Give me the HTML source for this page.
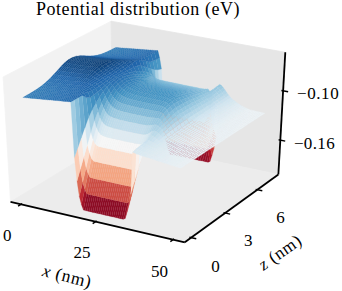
<!DOCTYPE html>
<html><head><meta charset="utf-8"><style>
html,body{margin:0;padding:0;background:#fff;}
#w{position:relative;width:342px;height:291px;overflow:hidden;}
svg{position:absolute;left:0;top:0;}
.t{position:absolute;font-family:"Liberation Serif",serif;color:#000;white-space:nowrap;line-height:1;}
</style></head><body><div id="w">
<svg width="342" height="291" viewBox="0 0 342 291" xmlns="http://www.w3.org/2000/svg">
<polygon points="10.51,201.84 112.75,139.78 111.05,21.18 3.11,76.94" fill="#f2f2f2" stroke="#f2f2f2" stroke-width="0.8"/>
<polygon points="112.75,139.78 278.37,174.48 285.30,52.30 111.05,21.18" fill="#e6e6e6" stroke="#e6e6e6" stroke-width="0.8"/>
<polygon points="10.51,201.84 184.77,242.26 278.37,174.48 112.75,139.78" fill="#ececec" stroke="#ececec" stroke-width="0.8"/>
<line x1="10.51" y1="201.84" x2="184.77" y2="242.26" stroke="#000" stroke-width="1.8"/>
<line x1="184.77" y1="242.26" x2="278.37" y2="174.48" stroke="#000" stroke-width="1.8"/>
<line x1="278.37" y1="174.48" x2="285.30" y2="52.30" stroke="#000" stroke-width="1.8"/>
<line x1="18.06" y1="206.20" x2="22.18" y2="203.66" stroke="#000" stroke-width="1.4"/>
<line x1="92.67" y1="223.55" x2="96.66" y2="220.92" stroke="#000" stroke-width="1.4"/>
<line x1="170.33" y1="241.62" x2="174.17" y2="238.88" stroke="#000" stroke-width="1.4"/>
<line x1="196.27" y1="238.79" x2="189.43" y2="237.22" stroke="#000" stroke-width="1.4"/>
<line x1="230.18" y1="214.11" x2="223.47" y2="212.62" stroke="#000" stroke-width="1.4"/>
<line x1="262.28" y1="190.74" x2="255.69" y2="189.32" stroke="#000" stroke-width="1.4"/>
<line x1="285.24" y1="141.08" x2="278.64" y2="139.76" stroke="#000" stroke-width="1.4"/>
<line x1="288.14" y1="91.75" x2="281.40" y2="90.48" stroke="#000" stroke-width="1.4"/>
<g stroke-width="0.2" stroke-linejoin="round"><path d="M166.9 140.4 L168.7 140.9 L171.8 154.7 L170.0 154.2 Z" fill="#960f27" stroke="#960f27"/><path d="M168.7 140.9 L170.5 141.3 L173.6 155.0 L171.8 154.7 Z" fill="#960f27" stroke="#960f27"/><path d="M165.1 136.1 L166.9 140.4 L170.0 154.2 L168.2 149.0 Z" fill="#a81529" stroke="#a81529"/><path d="M170.5 141.3 L172.3 141.7 L175.4 155.4 L173.6 155.0 Z" fill="#960f27" stroke="#960f27"/><path d="M172.3 141.7 L174.1 142.0 L177.2 155.8 L175.4 155.4 Z" fill="#960f27" stroke="#960f27"/><path d="M174.1 142.0 L176.0 142.4 L179.0 156.2 L177.2 155.8 Z" fill="#960f27" stroke="#960f27"/><path d="M176.0 142.4 L177.8 142.8 L180.8 156.6 L179.0 156.2 Z" fill="#960f27" stroke="#960f27"/><path d="M163.3 129.8 L165.1 136.1 L168.2 149.0 L166.5 141.4 Z" fill="#be3036" stroke="#be3036"/><path d="M177.8 142.8 L179.6 143.2 L182.6 156.9 L180.8 156.6 Z" fill="#960f27" stroke="#960f27"/><path d="M179.6 143.2 L181.4 143.6 L184.4 157.3 L182.6 156.9 Z" fill="#960f27" stroke="#960f27"/><path d="M181.4 143.6 L183.3 143.9 L186.2 157.7 L184.4 157.3 Z" fill="#960f27" stroke="#960f27"/><path d="M183.3 143.9 L185.1 144.3 L188.0 158.1 L186.2 157.7 Z" fill="#960f27" stroke="#960f27"/><path d="M185.1 144.3 L186.9 144.7 L189.9 158.5 L188.0 158.1 Z" fill="#960f27" stroke="#960f27"/><path d="M186.9 144.7 L188.7 145.1 L191.7 158.8 L189.9 158.5 Z" fill="#960f27" stroke="#960f27"/><path d="M188.7 145.1 L190.6 145.5 L193.5 159.2 L191.7 158.8 Z" fill="#960f27" stroke="#960f27"/><path d="M190.6 145.5 L192.4 145.9 L195.3 159.6 L193.5 159.2 Z" fill="#960f27" stroke="#960f27"/><path d="M161.6 117.7 L163.3 129.8 L166.5 141.4 L164.8 126.6 Z" fill="#dd7059" stroke="#dd7059"/><path d="M192.4 145.9 L194.2 146.3 L197.1 160.0 L195.3 159.6 Z" fill="#960f27" stroke="#960f27"/><path d="M194.2 146.3 L196.1 146.6 L198.9 160.4 L197.1 160.0 Z" fill="#960f27" stroke="#960f27"/><path d="M196.1 146.6 L197.9 147.0 L200.8 160.8 L198.9 160.4 Z" fill="#960f27" stroke="#960f27"/><path d="M197.9 147.0 L199.8 147.4 L202.6 161.1 L200.8 160.8 Z" fill="#960f27" stroke="#960f27"/><path d="M199.8 147.4 L201.6 147.8 L204.4 161.5 L202.6 161.1 Z" fill="#960f27" stroke="#960f27"/><path d="M201.6 147.8 L203.5 148.2 L206.3 161.9 L204.4 161.5 Z" fill="#960f27" stroke="#960f27"/><path d="M203.5 148.2 L205.3 148.6 L208.1 162.3 L206.3 161.9 Z" fill="#960f27" stroke="#960f27"/><path d="M205.3 148.6 L207.2 147.9 L210.0 161.4 L208.1 162.3 Z" fill="#991027" stroke="#991027"/><path d="M207.2 147.9 L209.2 143.2 L212.0 155.5 L210.0 161.4 Z" fill="#b1182b" stroke="#b1182b"/><path d="M163.8 113.5 L165.6 113.9 L168.7 140.9 L166.9 140.4 Z" fill="#ea8e70" stroke="#ea8e70"/><path d="M162.0 110.9 L163.8 113.5 L166.9 140.4 L165.1 136.1 Z" fill="#ef9979" stroke="#ef9979"/><path d="M165.6 113.9 L167.5 114.3 L170.5 141.3 L168.7 140.9 Z" fill="#ea8e70" stroke="#ea8e70"/><path d="M159.9 97.7 L161.6 117.7 L164.8 126.6 L163.2 102.3 Z" fill="#fbd0b9" stroke="#fbd0b9"/><path d="M167.5 114.3 L169.3 114.7 L172.3 141.7 L170.5 141.3 Z" fill="#ea8e70" stroke="#ea8e70"/><path d="M160.2 107.0 L162.0 110.9 L165.1 136.1 L163.3 129.8 Z" fill="#f6af8e" stroke="#f6af8e"/><path d="M169.3 114.7 L171.2 115.1 L174.1 142.0 L172.3 141.7 Z" fill="#ea8e70" stroke="#ea8e70"/><path d="M171.2 115.1 L173.0 115.5 L176.0 142.4 L174.1 142.0 Z" fill="#ea8e70" stroke="#ea8e70"/><path d="M173.0 115.5 L174.9 115.9 L177.8 142.8 L176.0 142.4 Z" fill="#ea8e70" stroke="#ea8e70"/><path d="M174.9 115.9 L176.7 116.2 L179.6 143.2 L177.8 142.8 Z" fill="#ea8e70" stroke="#ea8e70"/><path d="M209.2 143.2 L211.2 137.8 L214.0 148.8 L212.0 155.5 Z" fill="#c53e3d" stroke="#c53e3d"/><path d="M176.7 116.2 L178.6 116.6 L181.4 143.6 L179.6 143.2 Z" fill="#ea8e70" stroke="#ea8e70"/><path d="M178.6 116.6 L180.4 117.0 L183.3 143.9 L181.4 143.6 Z" fill="#ea8e70" stroke="#ea8e70"/><path d="M158.3 99.9 L160.2 107.0 L163.3 129.8 L161.6 117.7 Z" fill="#fbd0b9" stroke="#fbd0b9"/><path d="M180.4 117.0 L182.3 117.4 L185.1 144.3 L183.3 143.9 Z" fill="#ea8e70" stroke="#ea8e70"/><path d="M182.3 117.4 L184.1 117.8 L186.9 144.7 L185.1 144.3 Z" fill="#ea8e70" stroke="#ea8e70"/><path d="M184.1 117.8 L186.0 118.2 L188.7 145.1 L186.9 144.7 Z" fill="#ea8e70" stroke="#ea8e70"/><path d="M186.0 118.2 L187.8 118.6 L190.6 145.5 L188.7 145.1 Z" fill="#ea8e70" stroke="#ea8e70"/><path d="M187.8 118.6 L189.7 118.9 L192.4 145.9 L190.6 145.5 Z" fill="#ea8e70" stroke="#ea8e70"/><path d="M189.7 118.9 L191.6 119.3 L194.2 146.3 L192.4 145.9 Z" fill="#ea8e70" stroke="#ea8e70"/><path d="M191.6 119.3 L193.4 119.7 L196.1 146.6 L194.2 146.3 Z" fill="#ea8e70" stroke="#ea8e70"/><path d="M211.2 137.8 L213.3 128.1 L216.2 136.9 L214.0 148.8 Z" fill="#e17860" stroke="#e17860"/><path d="M193.4 119.7 L195.3 120.1 L197.9 147.0 L196.1 146.6 Z" fill="#ea8e70" stroke="#ea8e70"/><path d="M195.3 120.1 L197.2 120.5 L199.8 147.4 L197.9 147.0 Z" fill="#ea8e70" stroke="#ea8e70"/><path d="M197.2 120.5 L199.0 120.9 L201.6 147.8 L199.8 147.4 Z" fill="#ea8e70" stroke="#ea8e70"/><path d="M156.6 87.8 L158.3 99.9 L161.6 117.7 L159.9 97.7 Z" fill="#f8f4f2" stroke="#f8f4f2"/><path d="M199.0 120.9 L200.9 121.3 L203.5 148.2 L201.6 147.8 Z" fill="#ea8e70" stroke="#ea8e70"/><path d="M200.9 121.3 L202.8 121.7 L205.3 148.6 L203.5 148.2 Z" fill="#ea8e70" stroke="#ea8e70"/><path d="M202.8 121.7 L204.7 121.5 L207.2 147.9 L205.3 148.6 Z" fill="#eb9172" stroke="#eb9172"/><path d="M112.1 49.3 L113.9 49.4 L117.4 47.6 L115.6 47.5 Z" fill="#327cb7" stroke="#327cb7"/><path d="M113.9 49.4 L115.8 49.6 L119.2 47.8 L117.4 47.6 Z" fill="#327cb7" stroke="#327cb7"/><path d="M158.2 69.8 L159.9 97.7 L163.2 102.3 L161.5 68.9 Z" fill="#cae1ee" stroke="#cae1ee"/><path d="M204.7 121.5 L206.6 118.9 L209.2 143.2 L207.2 147.9 Z" fill="#f19e7d" stroke="#f19e7d"/><path d="M115.8 49.6 L117.6 49.7 L121.1 47.9 L119.2 47.8 Z" fill="#307ab6" stroke="#307ab6"/><path d="M117.6 49.7 L119.4 49.8 L122.9 48.0 L121.1 47.9 Z" fill="#307ab6" stroke="#307ab6"/><path d="M119.4 49.8 L121.2 50.0 L124.7 48.2 L122.9 48.0 Z" fill="#2f79b5" stroke="#2f79b5"/><path d="M108.6 51.0 L110.4 51.1 L113.9 49.4 L112.1 49.3 Z" fill="#327cb7" stroke="#327cb7"/><path d="M121.2 50.0 L123.1 50.1 L126.5 48.3 L124.7 48.2 Z" fill="#2f79b5" stroke="#2f79b5"/><path d="M206.6 118.9 L208.6 115.9 L211.2 137.8 L209.2 143.2 Z" fill="#f7b596" stroke="#f7b596"/><path d="M110.4 51.1 L112.3 51.3 L115.8 49.6 L113.9 49.4 Z" fill="#307ab6" stroke="#307ab6"/><path d="M123.1 50.1 L124.9 50.2 L128.4 48.4 L126.5 48.3 Z" fill="#2f79b5" stroke="#2f79b5"/><path d="M112.3 51.3 L114.1 51.4 L117.6 49.7 L115.8 49.6 Z" fill="#307ab6" stroke="#307ab6"/><path d="M124.9 50.2 L126.7 50.4 L130.2 48.6 L128.4 48.4 Z" fill="#2e77b5" stroke="#2e77b5"/><path d="M114.1 51.4 L115.9 51.6 L119.4 49.8 L117.6 49.7 Z" fill="#307ab6" stroke="#307ab6"/><path d="M126.7 50.4 L128.6 50.5 L132.0 48.7 L130.2 48.6 Z" fill="#2e77b5" stroke="#2e77b5"/><path d="M115.9 51.6 L117.8 51.7 L121.2 50.0 L119.4 49.8 Z" fill="#2f79b5" stroke="#2f79b5"/><path d="M128.6 50.5 L130.4 50.7 L133.9 48.8 L132.0 48.7 Z" fill="#2c75b4" stroke="#2c75b4"/><path d="M158.8 79.6 L160.7 80.2 L163.8 113.5 L162.0 110.9 Z" fill="#e1edf3" stroke="#e1edf3"/><path d="M105.1 52.6 L106.9 52.7 L110.4 51.1 L108.6 51.0 Z" fill="#307ab6" stroke="#307ab6"/><path d="M154.8 69.7 L156.6 87.8 L159.9 97.7 L158.2 69.8 Z" fill="#acd2e5" stroke="#acd2e5"/><path d="M156.9 78.8 L158.8 79.6 L162.0 110.9 L160.2 107.0 Z" fill="#dbeaf2" stroke="#dbeaf2"/><path d="M117.8 51.7 L119.6 51.9 L123.1 50.1 L121.2 50.0 Z" fill="#2f79b5" stroke="#2f79b5"/><path d="M160.7 80.2 L162.5 80.6 L165.6 113.9 L163.8 113.5 Z" fill="#e3edf3" stroke="#e3edf3"/><path d="M130.4 50.7 L132.3 50.8 L135.7 49.0 L133.9 48.8 Z" fill="#2c75b4" stroke="#2c75b4"/><path d="M162.5 80.6 L164.4 81.0 L167.5 114.3 L165.6 113.9 Z" fill="#e3edf3" stroke="#e3edf3"/><path d="M106.9 52.7 L108.8 52.9 L112.3 51.3 L110.4 51.1 Z" fill="#307ab6" stroke="#307ab6"/><path d="M119.6 51.9 L121.4 52.0 L124.9 50.2 L123.1 50.1 Z" fill="#2e77b5" stroke="#2e77b5"/><path d="M132.3 50.8 L134.1 50.9 L137.5 49.1 L135.7 49.0 Z" fill="#2b73b3" stroke="#2b73b3"/><path d="M155.1 77.8 L156.9 78.8 L160.2 107.0 L158.3 99.9 Z" fill="#d2e6f0" stroke="#d2e6f0"/><path d="M208.6 115.9 L210.6 110.5 L213.3 128.1 L211.2 137.8 Z" fill="#fcd3bc" stroke="#fcd3bc"/><path d="M164.4 81.0 L166.3 81.4 L169.3 114.7 L167.5 114.3 Z" fill="#e3edf3" stroke="#e3edf3"/><path d="M108.8 52.9 L110.6 53.0 L114.1 51.4 L112.3 51.3 Z" fill="#307ab6" stroke="#307ab6"/><path d="M121.4 52.0 L123.3 52.1 L126.7 50.4 L124.9 50.2 Z" fill="#2e77b5" stroke="#2e77b5"/><path d="M134.1 50.9 L135.9 51.1 L139.4 49.3 L137.5 49.1 Z" fill="#2b73b3" stroke="#2b73b3"/><path d="M166.3 81.4 L168.1 81.8 L171.2 115.1 L169.3 114.7 Z" fill="#e3edf3" stroke="#e3edf3"/><path d="M110.6 53.0 L112.4 53.2 L115.9 51.6 L114.1 51.4 Z" fill="#2f79b5" stroke="#2f79b5"/><path d="M123.3 52.1 L125.1 52.3 L128.6 50.5 L126.7 50.4 Z" fill="#2c75b4" stroke="#2c75b4"/><path d="M135.9 51.1 L137.8 51.2 L141.2 49.4 L139.4 49.3 Z" fill="#2a71b2" stroke="#2a71b2"/><path d="M168.1 81.8 L170.0 82.2 L173.0 115.5 L171.2 115.1 Z" fill="#e3edf3" stroke="#e3edf3"/><path d="M112.4 53.2 L114.3 53.3 L117.8 51.7 L115.9 51.6 Z" fill="#2f79b5" stroke="#2f79b5"/><path d="M125.1 52.3 L126.9 52.4 L130.4 50.7 L128.6 50.5 Z" fill="#2c75b4" stroke="#2c75b4"/><path d="M170.0 82.2 L171.9 82.6 L174.9 115.9 L173.0 115.5 Z" fill="#e3edf3" stroke="#e3edf3"/><path d="M137.8 51.2 L139.6 51.4 L143.1 49.5 L141.2 49.4 Z" fill="#2a71b2" stroke="#2a71b2"/><path d="M153.2 75.2 L155.1 77.8 L158.3 99.9 L156.6 87.8 Z" fill="#b6d7e8" stroke="#b6d7e8"/><path d="M114.3 53.3 L116.1 53.5 L119.6 51.9 L117.8 51.7 Z" fill="#2e77b5" stroke="#2e77b5"/><path d="M101.6 54.0 L103.4 54.1 L106.9 52.7 L105.1 52.6 Z" fill="#2f79b5" stroke="#2f79b5"/><path d="M126.9 52.4 L128.8 52.6 L132.3 50.8 L130.4 50.7 Z" fill="#2c75b4" stroke="#2c75b4"/><path d="M171.9 82.6 L173.8 82.9 L176.7 116.2 L174.9 115.9 Z" fill="#e4eef4" stroke="#e4eef4"/><path d="M139.6 51.4 L141.5 51.5 L144.9 49.7 L143.1 49.5 Z" fill="#2a71b2" stroke="#2a71b2"/><path d="M156.3 59.6 L158.2 69.8 L161.5 68.9 L159.7 57.9 Z" fill="#4c99c6" stroke="#4c99c6"/><path d="M173.8 82.9 L175.7 83.3 L178.6 116.6 L176.7 116.2 Z" fill="#e4eef4" stroke="#e4eef4"/><path d="M116.1 53.5 L117.9 53.6 L121.4 52.0 L119.6 51.9 Z" fill="#2e77b5" stroke="#2e77b5"/><path d="M103.4 54.1 L105.2 54.3 L108.8 52.9 L106.9 52.7 Z" fill="#2f79b5" stroke="#2f79b5"/><path d="M128.8 52.6 L130.6 52.7 L134.1 50.9 L132.3 50.8 Z" fill="#2b73b3" stroke="#2b73b3"/><path d="M141.5 51.5 L143.3 51.6 L146.8 49.8 L144.9 49.7 Z" fill="#2870b1" stroke="#2870b1"/><path d="M175.7 83.3 L177.5 83.7 L180.4 117.0 L178.6 116.6 Z" fill="#e4eef4" stroke="#e4eef4"/><path d="M213.3 128.1 L216.4 86.7 L219.7 84.3 L216.2 136.9 Z" fill="#f8f4f2" stroke="#f8f4f2"/><path d="M117.9 53.6 L119.8 53.8 L123.3 52.1 L121.4 52.0 Z" fill="#2c75b4" stroke="#2c75b4"/><path d="M105.2 54.3 L107.1 54.4 L110.6 53.0 L108.8 52.9 Z" fill="#2f79b5" stroke="#2f79b5"/><path d="M130.6 52.7 L132.5 52.8 L135.9 51.1 L134.1 50.9 Z" fill="#2b73b3" stroke="#2b73b3"/><path d="M143.3 51.6 L145.2 51.8 L148.6 49.9 L146.8 49.8 Z" fill="#2870b1" stroke="#2870b1"/><path d="M177.5 83.7 L179.4 84.1 L182.3 117.4 L180.4 117.0 Z" fill="#e4eef4" stroke="#e4eef4"/><path d="M119.8 53.8 L121.6 53.9 L125.1 52.3 L123.3 52.1 Z" fill="#2c75b4" stroke="#2c75b4"/><path d="M107.1 54.4 L108.9 54.6 L112.4 53.2 L110.6 53.0 Z" fill="#2e77b5" stroke="#2e77b5"/><path d="M132.5 52.8 L134.3 53.0 L137.8 51.2 L135.9 51.1 Z" fill="#2a71b2" stroke="#2a71b2"/><path d="M145.2 51.8 L147.1 51.9 L150.5 50.1 L148.6 49.9 Z" fill="#276eb0" stroke="#276eb0"/><path d="M179.4 84.1 L181.3 84.5 L184.1 117.8 L182.3 117.4 Z" fill="#e4eef4" stroke="#e4eef4"/><path d="M121.6 53.9 L123.5 54.1 L126.9 52.4 L125.1 52.3 Z" fill="#2c75b4" stroke="#2c75b4"/><path d="M108.9 54.6 L110.7 54.8 L114.3 53.3 L112.4 53.2 Z" fill="#2e77b5" stroke="#2e77b5"/><path d="M134.3 53.0 L136.2 53.1 L139.6 51.4 L137.8 51.2 Z" fill="#2a71b2" stroke="#2a71b2"/><path d="M147.1 51.9 L148.9 52.1 L152.3 50.2 L150.5 50.1 Z" fill="#276eb0" stroke="#276eb0"/><path d="M181.3 84.5 L183.2 84.9 L186.0 118.2 L184.1 117.8 Z" fill="#e4eef4" stroke="#e4eef4"/><path d="M123.5 54.1 L125.3 54.2 L128.8 52.6 L126.9 52.4 Z" fill="#2b73b3" stroke="#2b73b3"/><path d="M110.7 54.8 L112.6 54.9 L116.1 53.5 L114.3 53.3 Z" fill="#2c75b4" stroke="#2c75b4"/><path d="M136.2 53.1 L138.0 53.3 L141.5 51.5 L139.6 51.4 Z" fill="#2870b1" stroke="#2870b1"/><path d="M183.2 84.9 L185.1 85.3 L187.8 118.6 L186.0 118.2 Z" fill="#e4eef4" stroke="#e4eef4"/><path d="M98.0 55.0 L99.8 55.2 L103.4 54.1 L101.6 54.0 Z" fill="#2e77b5" stroke="#2e77b5"/><path d="M148.9 52.1 L150.8 52.2 L154.2 50.4 L152.3 50.2 Z" fill="#266caf" stroke="#266caf"/><path d="M151.4 69.0 L153.2 75.2 L156.6 87.8 L154.8 69.7 Z" fill="#7eb8d7" stroke="#7eb8d7"/><path d="M154.5 52.5 L156.3 59.6 L159.7 57.9 L157.9 50.6 Z" fill="#2f79b5" stroke="#2f79b5"/><path d="M152.9 61.1 L154.8 69.7 L158.2 69.8 L156.3 59.6 Z" fill="#4695c4" stroke="#4695c4"/><path d="M125.3 54.2 L127.2 54.3 L130.6 52.7 L128.8 52.6 Z" fill="#2b73b3" stroke="#2b73b3"/><path d="M112.6 54.9 L114.4 55.1 L117.9 53.6 L116.1 53.5 Z" fill="#2c75b4" stroke="#2c75b4"/><path d="M185.1 85.3 L187.0 85.7 L189.7 118.9 L187.8 118.6 Z" fill="#e4eef4" stroke="#e4eef4"/><path d="M138.0 53.3 L139.9 53.4 L143.3 51.6 L141.5 51.5 Z" fill="#2870b1" stroke="#2870b1"/><path d="M99.8 55.2 L101.7 55.4 L105.2 54.3 L103.4 54.1 Z" fill="#2e77b5" stroke="#2e77b5"/><path d="M150.8 52.2 L152.6 52.3 L156.0 50.5 L154.2 50.4 Z" fill="#266caf" stroke="#266caf"/><path d="M187.0 85.7 L188.9 86.1 L191.6 119.3 L189.7 118.9 Z" fill="#e4eef4" stroke="#e4eef4"/><path d="M127.2 54.3 L129.0 54.5 L132.5 52.8 L130.6 52.7 Z" fill="#2a71b2" stroke="#2a71b2"/><path d="M114.4 55.1 L116.3 55.2 L119.8 53.8 L117.9 53.6 Z" fill="#2c75b4" stroke="#2c75b4"/><path d="M139.9 53.4 L141.8 53.5 L145.2 51.8 L143.3 51.6 Z" fill="#276eb0" stroke="#276eb0"/><path d="M101.7 55.4 L103.5 55.6 L107.1 54.4 L105.2 54.3 Z" fill="#2c75b4" stroke="#2c75b4"/><path d="M152.6 52.3 L154.5 52.5 L157.9 50.6 L156.0 50.5 Z" fill="#246aae" stroke="#246aae"/><path d="M188.9 86.1 L190.8 86.4 L193.4 119.7 L191.6 119.3 Z" fill="#e4eef4" stroke="#e4eef4"/><path d="M129.0 54.5 L130.9 54.6 L134.3 53.0 L132.5 52.8 Z" fill="#2a71b2" stroke="#2a71b2"/><path d="M116.3 55.2 L118.1 55.4 L121.6 53.9 L119.8 53.8 Z" fill="#2b73b3" stroke="#2b73b3"/><path d="M141.8 53.5 L143.6 53.7 L147.1 51.9 L145.2 51.8 Z" fill="#276eb0" stroke="#276eb0"/><path d="M103.5 55.6 L105.3 55.7 L108.9 54.6 L107.1 54.4 Z" fill="#2c75b4" stroke="#2c75b4"/><path d="M190.8 86.4 L192.7 86.8 L195.3 120.1 L193.4 119.7 Z" fill="#e4eef4" stroke="#e4eef4"/><path d="M118.1 55.4 L119.9 55.5 L123.5 54.1 L121.6 53.9 Z" fill="#2b73b3" stroke="#2b73b3"/><path d="M130.9 54.6 L132.7 54.8 L136.2 53.1 L134.3 53.0 Z" fill="#2870b1" stroke="#2870b1"/><path d="M143.6 53.7 L145.5 53.8 L148.9 52.1 L147.1 51.9 Z" fill="#276eb0" stroke="#276eb0"/><path d="M105.3 55.7 L107.2 55.9 L110.7 54.8 L108.9 54.6 Z" fill="#2b73b3" stroke="#2b73b3"/><path d="M192.7 86.8 L194.6 87.2 L197.2 120.5 L195.3 120.1 Z" fill="#e4eef4" stroke="#e4eef4"/><path d="M119.9 55.5 L121.8 55.7 L125.3 54.2 L123.5 54.1 Z" fill="#2a71b2" stroke="#2a71b2"/><path d="M132.7 54.8 L134.6 54.9 L138.0 53.3 L136.2 53.1 Z" fill="#2870b1" stroke="#2870b1"/><path d="M145.5 53.8 L147.3 54.0 L150.8 52.2 L148.9 52.1 Z" fill="#266caf" stroke="#266caf"/><path d="M107.2 55.9 L109.0 56.1 L112.6 54.9 L110.7 54.8 Z" fill="#2b73b3" stroke="#2b73b3"/><path d="M194.6 87.2 L196.5 87.6 L199.0 120.9 L197.2 120.5 Z" fill="#e4eef4" stroke="#e4eef4"/><path d="M151.1 54.3 L152.9 61.1 L156.3 59.6 L154.5 52.5 Z" fill="#2e77b5" stroke="#2e77b5"/><path d="M94.4 55.7 L96.2 55.9 L99.8 55.2 L98.0 55.0 Z" fill="#2b73b3" stroke="#2b73b3"/><path d="M121.8 55.7 L123.6 55.8 L127.2 54.3 L125.3 54.2 Z" fill="#2a71b2" stroke="#2a71b2"/><path d="M134.6 54.9 L136.4 55.1 L139.9 53.4 L138.0 53.3 Z" fill="#276eb0" stroke="#276eb0"/><path d="M196.5 87.6 L198.4 88.0 L200.9 121.3 L199.0 120.9 Z" fill="#e4eef4" stroke="#e4eef4"/><path d="M147.3 54.0 L149.2 54.1 L152.6 52.3 L150.8 52.2 Z" fill="#266caf" stroke="#266caf"/><path d="M109.0 56.1 L110.9 56.2 L114.4 55.1 L112.6 54.9 Z" fill="#2b73b3" stroke="#2b73b3"/><path d="M149.5 62.3 L151.4 69.0 L154.8 69.7 L152.9 61.1 Z" fill="#408fc1" stroke="#408fc1"/><path d="M96.2 55.9 L98.1 56.1 L101.7 55.4 L99.8 55.2 Z" fill="#2a71b2" stroke="#2a71b2"/><path d="M198.4 88.0 L200.3 88.4 L202.8 121.7 L200.9 121.3 Z" fill="#e4eef4" stroke="#e4eef4"/><path d="M123.6 55.8 L125.5 56.0 L129.0 54.5 L127.2 54.3 Z" fill="#2870b1" stroke="#2870b1"/><path d="M136.4 55.1 L138.3 55.2 L141.8 53.5 L139.9 53.4 Z" fill="#276eb0" stroke="#276eb0"/><path d="M210.6 110.5 L213.1 89.2 L216.4 86.7 L213.3 128.1 Z" fill="#e1edf3" stroke="#e1edf3"/><path d="M149.2 54.1 L151.1 54.3 L154.5 52.5 L152.6 52.3 Z" fill="#246aae" stroke="#246aae"/><path d="M110.9 56.2 L112.7 56.4 L116.3 55.2 L114.4 55.1 Z" fill="#2a71b2" stroke="#2a71b2"/><path d="M151.6 76.4 L153.5 78.1 L156.9 78.8 L155.1 77.8 Z" fill="#7bb6d6" stroke="#7bb6d6"/><path d="M153.5 78.1 L155.4 79.1 L158.8 79.6 L156.9 78.8 Z" fill="#81bad8" stroke="#81bad8"/><path d="M149.8 73.3 L151.6 76.4 L155.1 77.8 L153.2 75.2 Z" fill="#6eaed2" stroke="#6eaed2"/><path d="M98.1 56.1 L99.9 56.3 L103.5 55.6 L101.7 55.4 Z" fill="#2a71b2" stroke="#2a71b2"/><path d="M200.3 88.4 L202.2 88.7 L204.7 121.5 L202.8 121.7 Z" fill="#e4eef4" stroke="#e4eef4"/><path d="M125.5 56.0 L127.4 56.1 L130.9 54.6 L129.0 54.5 Z" fill="#2870b1" stroke="#2870b1"/><path d="M155.4 79.1 L157.3 79.9 L160.7 80.2 L158.8 79.6 Z" fill="#84bcd9" stroke="#84bcd9"/><path d="M138.3 55.2 L140.2 55.4 L143.6 53.7 L141.8 53.5 Z" fill="#276eb0" stroke="#276eb0"/><path d="M112.7 56.4 L114.6 56.6 L118.1 55.4 L116.3 55.2 Z" fill="#2a71b2" stroke="#2a71b2"/><path d="M99.9 56.3 L101.8 56.5 L105.3 55.7 L103.5 55.6 Z" fill="#2a71b2" stroke="#2a71b2"/><path d="M157.3 79.9 L159.1 80.6 L162.5 80.6 L160.7 80.2 Z" fill="#84bcd9" stroke="#84bcd9"/><path d="M127.4 56.1 L129.2 56.3 L132.7 54.8 L130.9 54.6 Z" fill="#2870b1" stroke="#2870b1"/><path d="M140.2 55.4 L142.0 55.5 L145.5 53.8 L143.6 53.7 Z" fill="#266caf" stroke="#266caf"/><path d="M114.6 56.6 L116.4 56.7 L119.9 55.5 L118.1 55.4 Z" fill="#2870b1" stroke="#2870b1"/><path d="M202.2 88.7 L204.1 88.9 L206.6 118.9 L204.7 121.5 Z" fill="#e1edf3" stroke="#e1edf3"/><path d="M159.1 80.6 L161.0 81.1 L164.4 81.0 L162.5 80.6 Z" fill="#87beda" stroke="#87beda"/><path d="M101.8 56.5 L103.6 56.7 L107.2 55.9 L105.3 55.7 Z" fill="#2870b1" stroke="#2870b1"/><path d="M147.9 67.7 L149.8 73.3 L153.2 75.2 L151.4 69.0 Z" fill="#569fc9" stroke="#569fc9"/><path d="M129.2 56.3 L131.1 56.4 L134.6 54.9 L132.7 54.8 Z" fill="#276eb0" stroke="#276eb0"/><path d="M142.0 55.5 L143.9 55.6 L147.3 54.0 L145.5 53.8 Z" fill="#266caf" stroke="#266caf"/><path d="M116.4 56.7 L118.3 56.9 L121.8 55.7 L119.9 55.5 Z" fill="#2870b1" stroke="#2870b1"/><path d="M161.0 81.1 L162.9 81.6 L166.3 81.4 L164.4 81.0 Z" fill="#87beda" stroke="#87beda"/><path d="M103.6 56.7 L105.4 56.9 L109.0 56.1 L107.2 55.9 Z" fill="#2870b1" stroke="#2870b1"/><path d="M147.6 55.9 L149.5 62.3 L152.9 61.1 L151.1 54.3 Z" fill="#2c75b4" stroke="#2c75b4"/><path d="M131.1 56.4 L132.9 56.5 L136.4 55.1 L134.6 54.9 Z" fill="#276eb0" stroke="#276eb0"/><path d="M143.9 55.6 L145.8 55.8 L149.2 54.1 L147.3 54.0 Z" fill="#246aae" stroke="#246aae"/><path d="M162.9 81.6 L164.8 82.0 L168.1 81.8 L166.3 81.4 Z" fill="#87beda" stroke="#87beda"/><path d="M118.3 56.9 L120.1 57.0 L123.6 55.8 L121.8 55.7 Z" fill="#2870b1" stroke="#2870b1"/><path d="M204.1 88.9 L206.0 89.0 L208.6 115.9 L206.6 118.9 Z" fill="#dbeaf2" stroke="#dbeaf2"/><path d="M90.8 56.0 L92.6 56.3 L96.2 55.9 L94.4 55.7 Z" fill="#276eb0" stroke="#276eb0"/><path d="M105.4 56.9 L107.3 57.1 L110.9 56.2 L109.0 56.1 Z" fill="#2870b1" stroke="#2870b1"/><path d="M229.4 101.4 L231.3 102.9 L234.5 100.8 L232.6 99.3 Z" fill="#d5e7f1" stroke="#d5e7f1"/><path d="M164.8 82.0 L166.6 82.5 L170.0 82.2 L168.1 81.8 Z" fill="#87beda" stroke="#87beda"/><path d="M231.3 102.9 L233.2 104.3 L236.4 102.2 L234.5 100.8 Z" fill="#d8e9f1" stroke="#d8e9f1"/><path d="M227.5 99.6 L229.4 101.4 L232.6 99.3 L230.8 97.4 Z" fill="#d1e5f0" stroke="#d1e5f0"/><path d="M233.2 104.3 L235.0 105.6 L238.2 103.5 L236.4 102.2 Z" fill="#ddebf2" stroke="#ddebf2"/><path d="M132.9 56.5 L134.8 56.7 L138.3 55.2 L136.4 55.1 Z" fill="#266caf" stroke="#266caf"/><path d="M145.8 55.8 L147.6 55.9 L151.1 54.3 L149.2 54.1 Z" fill="#246aae" stroke="#246aae"/><path d="M235.0 105.6 L236.9 106.8 L240.1 104.8 L238.2 103.5 Z" fill="#e0ecf3" stroke="#e0ecf3"/><path d="M120.1 57.0 L122.0 57.2 L125.5 56.0 L123.6 55.8 Z" fill="#276eb0" stroke="#276eb0"/><path d="M225.7 97.5 L227.5 99.6 L230.8 97.4 L228.9 95.3 Z" fill="#cae1ee" stroke="#cae1ee"/><path d="M236.9 106.8 L238.8 107.9 L242.0 105.9 L240.1 104.8 Z" fill="#e1edf3" stroke="#e1edf3"/><path d="M92.6 56.3 L94.4 56.5 L98.1 56.1 L96.2 55.9 Z" fill="#266caf" stroke="#266caf"/><path d="M107.3 57.1 L109.1 57.2 L112.7 56.4 L110.9 56.2 Z" fill="#276eb0" stroke="#276eb0"/><path d="M166.6 82.5 L168.5 82.9 L171.9 82.6 L170.0 82.2 Z" fill="#87beda" stroke="#87beda"/><path d="M223.8 95.2 L225.7 97.5 L228.9 95.3 L227.1 92.9 Z" fill="#bddbea" stroke="#bddbea"/><path d="M238.8 107.9 L240.7 108.9 L243.9 106.9 L242.0 105.9 Z" fill="#e4eef4" stroke="#e4eef4"/><path d="M134.8 56.7 L136.7 56.8 L140.2 55.4 L138.3 55.2 Z" fill="#266caf" stroke="#266caf"/><path d="M122.0 57.2 L123.8 57.3 L127.4 56.1 L125.5 56.0 Z" fill="#276eb0" stroke="#276eb0"/><path d="M146.0 60.9 L147.9 67.7 L151.4 69.0 L149.5 62.3 Z" fill="#3a87bd" stroke="#3a87bd"/><path d="M240.7 108.9 L242.6 109.9 L245.8 107.9 L243.9 106.9 Z" fill="#e6eff4" stroke="#e6eff4"/><path d="M94.4 56.5 L96.3 56.7 L99.9 56.3 L98.1 56.1 Z" fill="#266caf" stroke="#266caf"/><path d="M222.0 92.6 L223.8 95.2 L227.1 92.9 L225.3 90.3 Z" fill="#b3d6e8" stroke="#b3d6e8"/><path d="M168.5 82.9 L170.4 83.3 L173.8 82.9 L171.9 82.6 Z" fill="#87beda" stroke="#87beda"/><path d="M109.1 57.2 L111.0 57.4 L114.6 56.6 L112.7 56.4 Z" fill="#276eb0" stroke="#276eb0"/><path d="M242.6 109.9 L244.5 110.8 L247.7 108.8 L245.8 107.9 Z" fill="#e7f0f4" stroke="#e7f0f4"/><path d="M136.7 56.8 L138.5 57.0 L142.0 55.5 L140.2 55.4 Z" fill="#246aae" stroke="#246aae"/><path d="M148.2 75.4 L150.1 77.4 L153.5 78.1 L151.6 76.4 Z" fill="#68abd0" stroke="#68abd0"/><path d="M150.1 77.4 L152.0 78.8 L155.4 79.1 L153.5 78.1 Z" fill="#6eaed2" stroke="#6eaed2"/><path d="M244.5 110.8 L246.4 111.6 L249.6 109.6 L247.7 108.8 Z" fill="#eaf1f5" stroke="#eaf1f5"/><path d="M123.8 57.3 L125.7 57.5 L129.2 56.3 L127.4 56.1 Z" fill="#266caf" stroke="#266caf"/><path d="M206.0 89.0 L208.0 88.9 L210.6 110.5 L208.6 115.9 Z" fill="#d2e6f0" stroke="#d2e6f0"/><path d="M220.2 90.1 L222.0 92.6 L225.3 90.3 L223.4 87.7 Z" fill="#a7d0e4" stroke="#a7d0e4"/><path d="M170.4 83.3 L172.3 83.7 L175.7 83.3 L173.8 82.9 Z" fill="#8ac0db" stroke="#8ac0db"/><path d="M96.3 56.7 L98.1 56.9 L101.8 56.5 L99.9 56.3 Z" fill="#266caf" stroke="#266caf"/><path d="M152.0 78.8 L153.8 79.8 L157.3 79.9 L155.4 79.1 Z" fill="#75b2d4" stroke="#75b2d4"/><path d="M111.0 57.4 L112.9 57.6 L116.4 56.7 L114.6 56.6 Z" fill="#266caf" stroke="#266caf"/><path d="M246.4 111.6 L248.3 112.2 L251.5 110.2 L249.6 109.6 Z" fill="#eaf1f5" stroke="#eaf1f5"/><path d="M218.3 88.1 L220.2 90.1 L223.4 87.7 L221.6 85.6 Z" fill="#9dcbe1" stroke="#9dcbe1"/><path d="M146.3 72.0 L148.2 75.4 L151.6 76.4 L149.8 73.3 Z" fill="#59a1ca" stroke="#59a1ca"/><path d="M216.4 86.7 L218.3 88.1 L221.6 85.6 L219.7 84.3 Z" fill="#96c7df" stroke="#96c7df"/><path d="M153.8 79.8 L155.7 80.5 L159.1 80.6 L157.3 79.9 Z" fill="#78b4d5" stroke="#78b4d5"/><path d="M138.5 57.0 L140.4 57.1 L143.9 55.6 L142.0 55.5 Z" fill="#246aae" stroke="#246aae"/><path d="M172.3 83.7 L174.2 84.1 L177.5 83.7 L175.7 83.3 Z" fill="#8ac0db" stroke="#8ac0db"/><path d="M125.7 57.5 L127.6 57.6 L131.1 56.4 L129.2 56.3 Z" fill="#266caf" stroke="#266caf"/><path d="M98.1 56.9 L100.0 57.1 L103.6 56.7 L101.8 56.5 Z" fill="#266caf" stroke="#266caf"/><path d="M248.3 112.2 L250.2 112.7 L253.4 110.6 L251.5 110.2 Z" fill="#ecf2f5" stroke="#ecf2f5"/><path d="M112.9 57.6 L114.7 57.7 L118.3 56.9 L116.4 56.7 Z" fill="#266caf" stroke="#266caf"/><path d="M155.7 80.5 L157.6 81.2 L161.0 81.1 L159.1 80.6 Z" fill="#78b4d5" stroke="#78b4d5"/><path d="M174.2 84.1 L176.1 84.5 L179.4 84.1 L177.5 83.7 Z" fill="#8ac0db" stroke="#8ac0db"/><path d="M140.4 57.1 L142.3 57.3 L145.8 55.8 L143.9 55.6 Z" fill="#2369ad" stroke="#2369ad"/><path d="M127.6 57.6 L129.4 57.8 L132.9 56.5 L131.1 56.4 Z" fill="#246aae" stroke="#246aae"/><path d="M250.2 112.7 L252.2 113.1 L255.3 111.1 L253.4 110.6 Z" fill="#ecf2f5" stroke="#ecf2f5"/><path d="M144.2 57.4 L146.0 60.9 L149.5 62.3 L147.6 55.9 Z" fill="#2a71b2" stroke="#2a71b2"/><path d="M100.0 57.1 L101.8 57.3 L105.4 56.9 L103.6 56.7 Z" fill="#246aae" stroke="#246aae"/><path d="M157.6 81.2 L159.5 81.8 L162.9 81.6 L161.0 81.1 Z" fill="#7bb6d6" stroke="#7bb6d6"/><path d="M226.2 103.6 L228.0 105.0 L231.3 102.9 L229.4 101.4 Z" fill="#d5e7f1" stroke="#d5e7f1"/><path d="M224.3 101.8 L226.2 103.6 L229.4 101.4 L227.5 99.6 Z" fill="#d1e5f0" stroke="#d1e5f0"/><path d="M114.7 57.7 L116.6 57.9 L120.1 57.0 L118.3 56.9 Z" fill="#266caf" stroke="#266caf"/><path d="M228.0 105.0 L229.9 106.4 L233.2 104.3 L231.3 102.9 Z" fill="#d8e9f1" stroke="#d8e9f1"/><path d="M229.9 106.4 L231.8 107.7 L235.0 105.6 L233.2 104.3 Z" fill="#ddebf2" stroke="#ddebf2"/><path d="M176.1 84.5 L178.0 84.9 L181.3 84.5 L179.4 84.1 Z" fill="#8ac0db" stroke="#8ac0db"/><path d="M222.4 99.7 L224.3 101.8 L227.5 99.6 L225.7 97.5 Z" fill="#cae1ee" stroke="#cae1ee"/><path d="M231.8 107.7 L233.7 108.9 L236.9 106.8 L235.0 105.6 Z" fill="#e0ecf3" stroke="#e0ecf3"/><path d="M144.4 66.4 L146.3 72.0 L149.8 73.3 L147.9 67.7 Z" fill="#408fc1" stroke="#408fc1"/><path d="M142.3 57.3 L144.2 57.4 L147.6 55.9 L145.8 55.8 Z" fill="#2369ad" stroke="#2369ad"/><path d="M159.5 81.8 L161.4 82.3 L164.8 82.0 L162.9 81.6 Z" fill="#7bb6d6" stroke="#7bb6d6"/><path d="M252.2 113.1 L254.1 113.5 L257.2 111.5 L255.3 111.1 Z" fill="#ecf2f5" stroke="#ecf2f5"/><path d="M129.4 57.8 L131.3 57.9 L134.8 56.7 L132.9 56.5 Z" fill="#246aae" stroke="#246aae"/><path d="M233.7 108.9 L235.6 110.0 L238.8 107.9 L236.9 106.8 Z" fill="#e1edf3" stroke="#e1edf3"/><path d="M101.8 57.3 L103.7 57.5 L107.3 57.1 L105.4 56.9 Z" fill="#246aae" stroke="#246aae"/><path d="M220.6 97.5 L222.4 99.7 L225.7 97.5 L223.8 95.2 Z" fill="#c0dceb" stroke="#c0dceb"/><path d="M235.6 110.0 L237.5 111.0 L240.7 108.9 L238.8 107.9 Z" fill="#e4eef4" stroke="#e4eef4"/><path d="M87.1 56.0 L88.9 56.3 L92.6 56.3 L90.8 56.0 Z" fill="#2267ac" stroke="#2267ac"/><path d="M116.6 57.9 L118.4 58.1 L122.0 57.2 L120.1 57.0 Z" fill="#246aae" stroke="#246aae"/><path d="M178.0 84.9 L179.9 85.3 L183.2 84.9 L181.3 84.5 Z" fill="#8ac0db" stroke="#8ac0db"/><path d="M161.4 82.3 L163.2 82.8 L166.6 82.5 L164.8 82.0 Z" fill="#7bb6d6" stroke="#7bb6d6"/><path d="M254.1 113.5 L256.0 114.0 L259.2 111.9 L257.2 111.5 Z" fill="#ecf2f5" stroke="#ecf2f5"/><path d="M237.5 111.0 L239.4 111.9 L242.6 109.9 L240.7 108.9 Z" fill="#e6eff4" stroke="#e6eff4"/><path d="M218.7 95.0 L220.6 97.5 L223.8 95.2 L222.0 92.6 Z" fill="#b3d6e8" stroke="#b3d6e8"/><path d="M131.3 57.9 L133.2 58.1 L136.7 56.8 L134.8 56.7 Z" fill="#246aae" stroke="#246aae"/><path d="M103.7 57.5 L105.6 57.7 L109.1 57.2 L107.3 57.1 Z" fill="#246aae" stroke="#246aae"/><path d="M239.4 111.9 L241.3 112.8 L244.5 110.8 L242.6 109.9 Z" fill="#e7f0f4" stroke="#e7f0f4"/><path d="M88.9 56.3 L90.8 56.5 L94.4 56.5 L92.6 56.3 Z" fill="#2267ac" stroke="#2267ac"/><path d="M179.9 85.3 L181.8 85.7 L185.1 85.3 L183.2 84.9 Z" fill="#8ac0db" stroke="#8ac0db"/><path d="M118.4 58.1 L120.3 58.2 L123.8 57.3 L122.0 57.2 Z" fill="#246aae" stroke="#246aae"/><path d="M163.2 82.8 L165.1 83.2 L168.5 82.9 L166.6 82.5 Z" fill="#7eb8d7" stroke="#7eb8d7"/><path d="M216.9 92.5 L218.7 95.0 L222.0 92.6 L220.2 90.1 Z" fill="#a9d1e5" stroke="#a9d1e5"/><path d="M256.0 114.0 L257.9 114.4 L261.1 112.3 L259.2 111.9 Z" fill="#ecf2f5" stroke="#ecf2f5"/><path d="M241.3 112.8 L243.2 113.6 L246.4 111.6 L244.5 110.8 Z" fill="#e9f0f4" stroke="#e9f0f4"/><path d="M133.2 58.1 L135.0 58.2 L138.5 57.0 L136.7 56.8 Z" fill="#2369ad" stroke="#2369ad"/><path d="M215.0 90.5 L216.9 92.5 L220.2 90.1 L218.3 88.1 Z" fill="#a0cce2" stroke="#a0cce2"/><path d="M105.6 57.7 L107.4 57.9 L111.0 57.4 L109.1 57.2 Z" fill="#2369ad" stroke="#2369ad"/><path d="M213.1 89.2 L215.0 90.5 L218.3 88.1 L216.4 86.7 Z" fill="#98c8e0" stroke="#98c8e0"/><path d="M181.8 85.7 L183.6 86.1 L187.0 85.7 L185.1 85.3 Z" fill="#8ac0db" stroke="#8ac0db"/><path d="M90.8 56.5 L92.6 56.8 L96.3 56.7 L94.4 56.5 Z" fill="#2065ab" stroke="#2065ab"/><path d="M165.1 83.2 L167.0 83.7 L170.4 83.3 L168.5 82.9 Z" fill="#7eb8d7" stroke="#7eb8d7"/><path d="M243.2 113.6 L245.1 114.2 L248.3 112.2 L246.4 111.6 Z" fill="#eaf1f5" stroke="#eaf1f5"/><path d="M120.3 58.2 L122.2 58.4 L125.7 57.5 L123.8 57.3 Z" fill="#2369ad" stroke="#2369ad"/><path d="M257.9 114.4 L259.9 114.8 L263.0 112.8 L261.1 112.3 Z" fill="#ecf2f5" stroke="#ecf2f5"/><path d="M208.0 88.9 L209.8 91.6 L213.1 89.2 L210.6 110.5 Z" fill="#b1d5e7" stroke="#b1d5e7"/><path d="M142.6 60.4 L144.4 66.4 L147.9 67.7 L146.0 60.9 Z" fill="#307ab6" stroke="#307ab6"/><path d="M183.6 86.1 L185.5 86.5 L188.9 86.1 L187.0 85.7 Z" fill="#8ac0db" stroke="#8ac0db"/><path d="M135.0 58.2 L136.9 58.4 L140.4 57.1 L138.5 57.0 Z" fill="#2369ad" stroke="#2369ad"/><path d="M107.4 57.9 L109.3 58.1 L112.9 57.6 L111.0 57.4 Z" fill="#2369ad" stroke="#2369ad"/><path d="M167.0 83.7 L168.9 84.1 L172.3 83.7 L170.4 83.3 Z" fill="#7eb8d7" stroke="#7eb8d7"/><path d="M245.1 114.2 L247.0 114.7 L250.2 112.7 L248.3 112.2 Z" fill="#eaf1f5" stroke="#eaf1f5"/><path d="M92.6 56.8 L94.5 57.0 L98.1 56.9 L96.3 56.7 Z" fill="#2065ab" stroke="#2065ab"/><path d="M259.9 114.8 L261.8 115.2 L265.0 113.2 L263.0 112.8 Z" fill="#ecf2f5" stroke="#ecf2f5"/><path d="M122.2 58.4 L124.0 58.5 L127.6 57.6 L125.7 57.5 Z" fill="#2369ad" stroke="#2369ad"/><path d="M146.6 76.9 L148.5 78.5 L152.0 78.8 L150.1 77.4 Z" fill="#5fa5cd" stroke="#5fa5cd"/><path d="M144.7 74.7 L146.6 76.9 L150.1 77.4 L148.2 75.4 Z" fill="#569fc9" stroke="#569fc9"/><path d="M148.5 78.5 L150.4 79.6 L153.8 79.8 L152.0 78.8 Z" fill="#65a9cf" stroke="#65a9cf"/><path d="M185.5 86.5 L187.4 86.9 L190.8 86.4 L188.9 86.1 Z" fill="#8ac0db" stroke="#8ac0db"/><path d="M168.9 84.1 L170.8 84.5 L174.2 84.1 L172.3 83.7 Z" fill="#7eb8d7" stroke="#7eb8d7"/><path d="M247.0 114.7 L249.0 115.1 L252.2 113.1 L250.2 112.7 Z" fill="#ecf2f5" stroke="#ecf2f5"/><path d="M222.9 105.7 L224.8 107.2 L228.0 105.0 L226.2 103.6 Z" fill="#d5e7f1" stroke="#d5e7f1"/><path d="M136.9 58.4 L138.8 58.5 L142.3 57.3 L140.4 57.1 Z" fill="#2267ac" stroke="#2267ac"/><path d="M221.0 104.0 L222.9 105.7 L226.2 103.6 L224.3 101.8 Z" fill="#d2e6f0" stroke="#d2e6f0"/><path d="M109.3 58.1 L111.1 58.3 L114.7 57.7 L112.9 57.6 Z" fill="#2267ac" stroke="#2267ac"/><path d="M150.4 79.6 L152.3 80.6 L155.7 80.5 L153.8 79.8 Z" fill="#68abd0" stroke="#68abd0"/><path d="M224.8 107.2 L226.7 108.5 L229.9 106.4 L228.0 105.0 Z" fill="#dae9f2" stroke="#dae9f2"/><path d="M94.5 57.0 L96.4 57.3 L100.0 57.1 L98.1 56.9 Z" fill="#2065ab" stroke="#2065ab"/><path d="M226.7 108.5 L228.6 109.8 L231.8 107.7 L229.9 106.4 Z" fill="#ddebf2" stroke="#ddebf2"/><path d="M219.1 102.0 L221.0 104.0 L224.3 101.8 L222.4 99.7 Z" fill="#cae1ee" stroke="#cae1ee"/><path d="M124.0 58.5 L125.9 58.7 L129.4 57.8 L127.6 57.6 Z" fill="#2369ad" stroke="#2369ad"/><path d="M228.6 109.8 L230.4 111.0 L233.7 108.9 L231.8 107.7 Z" fill="#e0ecf3" stroke="#e0ecf3"/><path d="M142.8 71.3 L144.7 74.7 L148.2 75.4 L146.3 72.0 Z" fill="#4695c4" stroke="#4695c4"/><path d="M152.3 80.6 L154.1 81.3 L157.6 81.2 L155.7 80.5 Z" fill="#6bacd1" stroke="#6bacd1"/><path d="M187.4 86.9 L189.4 87.3 L192.7 86.8 L190.8 86.4 Z" fill="#8ac0db" stroke="#8ac0db"/><path d="M249.0 115.1 L250.9 115.6 L254.1 113.5 L252.2 113.1 Z" fill="#ecf2f5" stroke="#ecf2f5"/><path d="M170.8 84.5 L172.7 84.9 L176.1 84.5 L174.2 84.1 Z" fill="#7eb8d7" stroke="#7eb8d7"/><path d="M217.3 99.7 L219.1 102.0 L222.4 99.7 L220.6 97.5 Z" fill="#c0dceb" stroke="#c0dceb"/><path d="M230.4 111.0 L232.3 112.1 L235.6 110.0 L233.7 108.9 Z" fill="#e1edf3" stroke="#e1edf3"/><path d="M138.8 58.5 L140.7 58.7 L144.2 57.4 L142.3 57.3 Z" fill="#2267ac" stroke="#2267ac"/><path d="M111.1 58.3 L113.0 58.4 L116.6 57.9 L114.7 57.7 Z" fill="#2267ac" stroke="#2267ac"/><path d="M96.4 57.3 L98.2 57.5 L101.8 57.3 L100.0 57.1 Z" fill="#2065ab" stroke="#2065ab"/><path d="M140.7 58.7 L142.6 60.4 L146.0 60.9 L144.2 57.4 Z" fill="#246aae" stroke="#246aae"/><path d="M232.3 112.1 L234.2 113.0 L237.5 111.0 L235.6 110.0 Z" fill="#e4eef4" stroke="#e4eef4"/><path d="M154.1 81.3 L156.0 82.0 L159.5 81.8 L157.6 81.2 Z" fill="#6eaed2" stroke="#6eaed2"/><path d="M215.4 97.3 L217.3 99.7 L220.6 97.5 L218.7 95.0 Z" fill="#b6d7e8" stroke="#b6d7e8"/><path d="M125.9 58.7 L127.8 58.9 L131.3 57.9 L129.4 57.8 Z" fill="#2267ac" stroke="#2267ac"/><path d="M189.4 87.3 L191.3 87.7 L194.6 87.2 L192.7 86.8 Z" fill="#8ac0db" stroke="#8ac0db"/><path d="M250.9 115.6 L252.8 116.0 L256.0 114.0 L254.1 113.5 Z" fill="#ecf2f5" stroke="#ecf2f5"/><path d="M234.2 113.0 L236.2 114.0 L239.4 111.9 L237.5 111.0 Z" fill="#e6eff4" stroke="#e6eff4"/><path d="M172.7 84.9 L174.6 85.3 L178.0 84.9 L176.1 84.5 Z" fill="#7eb8d7" stroke="#7eb8d7"/><path d="M156.0 82.0 L157.9 82.6 L161.4 82.3 L159.5 81.8 Z" fill="#6eaed2" stroke="#6eaed2"/><path d="M113.0 58.4 L114.9 58.6 L118.4 58.1 L116.6 57.9 Z" fill="#2267ac" stroke="#2267ac"/><path d="M213.6 94.9 L215.4 97.3 L218.7 95.0 L216.9 92.5 Z" fill="#acd2e5" stroke="#acd2e5"/><path d="M236.2 114.0 L238.1 114.9 L241.3 112.8 L239.4 111.9 Z" fill="#e7f0f4" stroke="#e7f0f4"/><path d="M98.2 57.5 L100.1 57.7 L103.7 57.5 L101.8 57.3 Z" fill="#1f63a8" stroke="#1f63a8"/><path d="M191.3 87.7 L193.2 88.1 L196.5 87.6 L194.6 87.2 Z" fill="#8ac0db" stroke="#8ac0db"/><path d="M252.8 116.0 L254.8 116.4 L257.9 114.4 L256.0 114.0 Z" fill="#ecf2f5" stroke="#ecf2f5"/><path d="M127.8 58.9 L129.6 59.0 L133.2 58.1 L131.3 57.9 Z" fill="#2267ac" stroke="#2267ac"/><path d="M174.6 85.3 L176.5 85.7 L179.9 85.3 L178.0 84.9 Z" fill="#7eb8d7" stroke="#7eb8d7"/><path d="M211.7 92.9 L213.6 94.9 L216.9 92.5 L215.0 90.5 Z" fill="#a2cde3" stroke="#a2cde3"/><path d="M238.1 114.9 L240.0 115.7 L243.2 113.6 L241.3 112.8 Z" fill="#e9f0f4" stroke="#e9f0f4"/><path d="M83.4 55.8 L85.3 56.2 L88.9 56.3 L87.1 56.0 Z" fill="#1d5fa2" stroke="#1d5fa2"/><path d="M209.8 91.6 L211.7 92.9 L215.0 90.5 L213.1 89.2 Z" fill="#9bc9e0" stroke="#9bc9e0"/><path d="M157.9 82.6 L159.8 83.1 L163.2 82.8 L161.4 82.3 Z" fill="#71b0d3" stroke="#71b0d3"/><path d="M141.0 65.5 L142.8 71.3 L146.3 72.0 L144.4 66.4 Z" fill="#3885bc" stroke="#3885bc"/><path d="M100.1 57.7 L101.9 57.9 L105.6 57.7 L103.7 57.5 Z" fill="#1f63a8" stroke="#1f63a8"/><path d="M114.9 58.6 L116.7 58.8 L120.3 58.2 L118.4 58.1 Z" fill="#2065ab" stroke="#2065ab"/><path d="M193.2 88.1 L195.1 88.5 L198.4 88.0 L196.5 87.6 Z" fill="#8ac0db" stroke="#8ac0db"/><path d="M240.0 115.7 L241.9 116.2 L245.1 114.2 L243.2 113.6 Z" fill="#eaf1f5" stroke="#eaf1f5"/><path d="M254.8 116.4 L256.7 116.9 L259.9 114.8 L257.9 114.4 Z" fill="#ecf2f5" stroke="#ecf2f5"/><path d="M176.5 85.7 L178.4 86.1 L181.8 85.7 L179.9 85.3 Z" fill="#7eb8d7" stroke="#7eb8d7"/><path d="M129.6 59.0 L131.5 59.2 L135.0 58.2 L133.2 58.1 Z" fill="#2065ab" stroke="#2065ab"/><path d="M159.8 83.1 L161.7 83.6 L165.1 83.2 L163.2 82.8 Z" fill="#71b0d3" stroke="#71b0d3"/><path d="M85.3 56.2 L87.1 56.5 L90.8 56.5 L88.9 56.3 Z" fill="#1c5c9f" stroke="#1c5c9f"/><path d="M241.9 116.2 L243.8 116.7 L247.0 114.7 L245.1 114.2 Z" fill="#eaf1f5" stroke="#eaf1f5"/><path d="M101.9 57.9 L103.8 58.1 L107.4 57.9 L105.6 57.7 Z" fill="#1f63a8" stroke="#1f63a8"/><path d="M195.1 88.5 L197.0 89.0 L200.3 88.4 L198.4 88.0 Z" fill="#8ac0db" stroke="#8ac0db"/><path d="M256.7 116.9 L258.6 117.3 L261.8 115.2 L259.9 114.8 Z" fill="#ecf2f5" stroke="#ecf2f5"/><path d="M116.7 58.8 L118.6 59.0 L122.2 58.4 L120.3 58.2 Z" fill="#2065ab" stroke="#2065ab"/><path d="M178.4 86.1 L180.3 86.5 L183.6 86.1 L181.8 85.7 Z" fill="#7eb8d7" stroke="#7eb8d7"/><path d="M161.7 83.6 L163.6 84.1 L167.0 83.7 L165.1 83.2 Z" fill="#71b0d3" stroke="#71b0d3"/><path d="M131.5 59.2 L133.4 59.3 L136.9 58.4 L135.0 58.2 Z" fill="#2065ab" stroke="#2065ab"/><path d="M87.1 56.5 L89.0 56.7 L92.6 56.8 L90.8 56.5 Z" fill="#1c5c9f" stroke="#1c5c9f"/><path d="M219.6 107.9 L221.5 109.3 L224.8 107.2 L222.9 105.7 Z" fill="#d7e8f1" stroke="#d7e8f1"/><path d="M217.7 106.2 L219.6 107.9 L222.9 105.7 L221.0 104.0 Z" fill="#d2e6f0" stroke="#d2e6f0"/><path d="M243.8 116.7 L245.8 117.2 L249.0 115.1 L247.0 114.7 Z" fill="#eaf1f5" stroke="#eaf1f5"/><path d="M197.0 89.0 L198.9 89.4 L202.2 88.7 L200.3 88.4 Z" fill="#8dc2dc" stroke="#8dc2dc"/><path d="M221.5 109.3 L223.4 110.6 L226.7 108.5 L224.8 107.2 Z" fill="#dae9f2" stroke="#dae9f2"/><path d="M180.3 86.5 L182.2 86.9 L185.5 86.5 L183.6 86.1 Z" fill="#7eb8d7" stroke="#7eb8d7"/><path d="M215.9 104.3 L217.7 106.2 L221.0 104.0 L219.1 102.0 Z" fill="#cce2ef" stroke="#cce2ef"/><path d="M103.8 58.1 L105.7 58.3 L109.3 58.1 L107.4 57.9 Z" fill="#1e61a5" stroke="#1e61a5"/><path d="M118.6 59.0 L120.5 59.1 L124.0 58.5 L122.2 58.4 Z" fill="#1f63a8" stroke="#1f63a8"/><path d="M223.4 110.6 L225.3 111.9 L228.6 109.8 L226.7 108.5 Z" fill="#ddebf2" stroke="#ddebf2"/><path d="M163.6 84.1 L165.5 84.5 L168.9 84.1 L167.0 83.7 Z" fill="#71b0d3" stroke="#71b0d3"/><path d="M225.3 111.9 L227.2 113.1 L230.4 111.0 L228.6 109.8 Z" fill="#e0ecf3" stroke="#e0ecf3"/><path d="M89.0 56.7 L90.8 57.0 L94.5 57.0 L92.6 56.8 Z" fill="#1c5c9f" stroke="#1c5c9f"/><path d="M133.4 59.3 L135.3 59.5 L138.8 58.5 L136.9 58.4 Z" fill="#1f63a8" stroke="#1f63a8"/><path d="M214.0 101.9 L215.9 104.3 L219.1 102.0 L217.3 99.7 Z" fill="#c2ddec" stroke="#c2ddec"/><path d="M245.8 117.2 L247.7 117.6 L250.9 115.6 L249.0 115.1 Z" fill="#ecf2f5" stroke="#ecf2f5"/><path d="M227.2 113.1 L229.1 114.1 L232.3 112.1 L230.4 111.0 Z" fill="#e1edf3" stroke="#e1edf3"/><path d="M198.9 89.4 L200.8 89.7 L204.1 88.9 L202.2 88.7 Z" fill="#8ac0db" stroke="#8ac0db"/><path d="M182.2 86.9 L184.1 87.3 L187.4 86.9 L185.5 86.5 Z" fill="#81bad8" stroke="#81bad8"/><path d="M139.1 59.8 L141.0 65.5 L144.4 66.4 L142.6 60.4 Z" fill="#2870b1" stroke="#2870b1"/><path d="M165.5 84.5 L167.4 84.9 L170.8 84.5 L168.9 84.1 Z" fill="#75b2d4" stroke="#75b2d4"/><path d="M143.1 76.6 L145.0 78.3 L148.5 78.5 L146.6 76.9 Z" fill="#4f9bc7" stroke="#4f9bc7"/><path d="M229.1 114.1 L231.0 115.1 L234.2 113.0 L232.3 112.1 Z" fill="#e4eef4" stroke="#e4eef4"/><path d="M105.7 58.3 L107.5 58.5 L111.1 58.3 L109.3 58.1 Z" fill="#1e61a5" stroke="#1e61a5"/><path d="M145.0 78.3 L146.9 79.6 L150.4 79.6 L148.5 78.5 Z" fill="#569fc9" stroke="#569fc9"/><path d="M120.5 59.1 L122.3 59.3 L125.9 58.7 L124.0 58.5 Z" fill="#1f63a8" stroke="#1f63a8"/><path d="M212.1 99.3 L214.0 101.9 L217.3 99.7 L215.4 97.3 Z" fill="#b6d7e8" stroke="#b6d7e8"/><path d="M141.2 74.3 L143.1 76.6 L146.6 76.9 L144.7 74.7 Z" fill="#4695c4" stroke="#4695c4"/><path d="M90.8 57.0 L92.7 57.3 L96.4 57.3 L94.5 57.0 Z" fill="#1c5c9f" stroke="#1c5c9f"/><path d="M146.9 79.6 L148.8 80.7 L152.3 80.6 L150.4 79.6 Z" fill="#5ca3cb" stroke="#5ca3cb"/><path d="M247.7 117.6 L249.6 118.1 L252.8 116.0 L250.9 115.6 Z" fill="#ecf2f5" stroke="#ecf2f5"/><path d="M231.0 115.1 L232.9 116.0 L236.2 114.0 L234.2 113.0 Z" fill="#e6eff4" stroke="#e6eff4"/><path d="M135.3 59.5 L137.2 59.6 L140.7 58.7 L138.8 58.5 Z" fill="#1f63a8" stroke="#1f63a8"/><path d="M184.1 87.3 L186.0 87.7 L189.4 87.3 L187.4 86.9 Z" fill="#81bad8" stroke="#81bad8"/><path d="M200.8 89.7 L202.7 90.2 L206.0 89.0 L204.1 88.9 Z" fill="#8ac0db" stroke="#8ac0db"/><path d="M167.4 84.9 L169.3 85.3 L172.7 84.9 L170.8 84.5 Z" fill="#75b2d4" stroke="#75b2d4"/><path d="M210.3 96.9 L212.1 99.3 L215.4 97.3 L213.6 94.9 Z" fill="#acd2e5" stroke="#acd2e5"/><path d="M148.8 80.7 L150.7 81.5 L154.1 81.3 L152.3 80.6 Z" fill="#5fa5cd" stroke="#5fa5cd"/><path d="M232.9 116.0 L234.8 116.9 L238.1 114.9 L236.2 114.0 Z" fill="#e7f0f4" stroke="#e7f0f4"/><path d="M107.5 58.5 L109.4 58.7 L113.0 58.4 L111.1 58.3 Z" fill="#1e61a5" stroke="#1e61a5"/><path d="M122.3 59.3 L124.2 59.4 L127.8 58.9 L125.9 58.7 Z" fill="#1f63a8" stroke="#1f63a8"/><path d="M139.3 71.0 L141.2 74.3 L144.7 74.7 L142.8 71.3 Z" fill="#3c8abe" stroke="#3c8abe"/><path d="M137.2 59.6 L139.1 59.8 L142.6 60.4 L140.7 58.7 Z" fill="#1f63a8" stroke="#1f63a8"/><path d="M249.6 118.1 L251.6 118.5 L254.8 116.4 L252.8 116.0 Z" fill="#ecf2f5" stroke="#ecf2f5"/><path d="M92.7 57.3 L94.5 57.5 L98.2 57.5 L96.4 57.3 Z" fill="#1c5c9f" stroke="#1c5c9f"/><path d="M208.4 94.7 L210.3 96.9 L213.6 94.9 L211.7 92.9 Z" fill="#a2cde3" stroke="#a2cde3"/><path d="M150.7 81.5 L152.6 82.3 L156.0 82.0 L154.1 81.3 Z" fill="#62a7ce" stroke="#62a7ce"/><path d="M234.8 116.9 L236.7 117.7 L240.0 115.7 L238.1 114.9 Z" fill="#e9f0f4" stroke="#e9f0f4"/><path d="M186.0 87.7 L187.9 88.1 L191.3 87.7 L189.4 87.3 Z" fill="#81bad8" stroke="#81bad8"/><path d="M206.5 92.9 L208.4 94.7 L211.7 92.9 L209.8 91.6 Z" fill="#9bc9e0" stroke="#9bc9e0"/><path d="M169.3 85.3 L171.2 85.8 L174.6 85.3 L172.7 84.9 Z" fill="#75b2d4" stroke="#75b2d4"/><path d="M202.7 90.2 L204.6 90.9 L208.0 88.9 L206.0 89.0 Z" fill="#8ac0db" stroke="#8ac0db"/><path d="M204.6 90.9 L206.5 92.9 L209.8 91.6 L208.0 88.9 Z" fill="#90c4dd" stroke="#90c4dd"/><path d="M109.4 58.7 L111.3 58.9 L114.9 58.6 L113.0 58.4 Z" fill="#1d5fa2" stroke="#1d5fa2"/><path d="M251.6 118.5 L253.5 119.0 L256.7 116.9 L254.8 116.4 Z" fill="#ecf2f5" stroke="#ecf2f5"/><path d="M152.6 82.3 L154.5 82.9 L157.9 82.6 L156.0 82.0 Z" fill="#65a9cf" stroke="#65a9cf"/><path d="M236.7 117.7 L238.7 118.3 L241.9 116.2 L240.0 115.7 Z" fill="#eaf1f5" stroke="#eaf1f5"/><path d="M124.2 59.4 L126.1 59.6 L129.6 59.0 L127.8 58.9 Z" fill="#1e61a5" stroke="#1e61a5"/><path d="M94.5 57.5 L96.4 57.8 L100.1 57.7 L98.2 57.5 Z" fill="#1b5a9c" stroke="#1b5a9c"/><path d="M187.9 88.1 L189.8 88.6 L193.2 88.1 L191.3 87.7 Z" fill="#81bad8" stroke="#81bad8"/><path d="M171.2 85.8 L173.1 86.2 L176.5 85.7 L174.6 85.3 Z" fill="#75b2d4" stroke="#75b2d4"/><path d="M154.5 82.9 L156.4 83.5 L159.8 83.1 L157.9 82.6 Z" fill="#65a9cf" stroke="#65a9cf"/><path d="M238.7 118.3 L240.6 118.8 L243.8 116.7 L241.9 116.2 Z" fill="#eaf1f5" stroke="#eaf1f5"/><path d="M253.5 119.0 L255.4 119.4 L258.6 117.3 L256.7 116.9 Z" fill="#ecf2f5" stroke="#ecf2f5"/><path d="M79.7 55.8 L81.5 56.2 L85.3 56.2 L83.4 55.8 Z" fill="#185493" stroke="#185493"/><path d="M111.3 58.9 L113.1 59.1 L116.7 58.8 L114.9 58.6 Z" fill="#1d5fa2" stroke="#1d5fa2"/><path d="M126.1 59.6 L128.0 59.8 L131.5 59.2 L129.6 59.0 Z" fill="#1e61a5" stroke="#1e61a5"/><path d="M189.8 88.6 L191.7 89.0 L195.1 88.5 L193.2 88.1 Z" fill="#81bad8" stroke="#81bad8"/><path d="M96.4 57.8 L98.3 58.0 L101.9 57.9 L100.1 57.7 Z" fill="#1b5a9c" stroke="#1b5a9c"/><path d="M173.1 86.2 L175.0 86.6 L178.4 86.1 L176.5 85.7 Z" fill="#75b2d4" stroke="#75b2d4"/><path d="M137.4 65.7 L139.3 71.0 L142.8 71.3 L141.0 65.5 Z" fill="#307ab6" stroke="#307ab6"/><path d="M214.4 108.5 L216.3 110.1 L219.6 107.9 L217.7 106.2 Z" fill="#d2e6f0" stroke="#d2e6f0"/><path d="M216.3 110.1 L218.2 111.5 L221.5 109.3 L219.6 107.9 Z" fill="#d7e8f1" stroke="#d7e8f1"/><path d="M156.4 83.5 L158.3 84.0 L161.7 83.6 L159.8 83.1 Z" fill="#65a9cf" stroke="#65a9cf"/><path d="M240.6 118.8 L242.5 119.2 L245.8 117.2 L243.8 116.7 Z" fill="#eaf1f5" stroke="#eaf1f5"/><path d="M218.2 111.5 L220.1 112.8 L223.4 110.6 L221.5 109.3 Z" fill="#dae9f2" stroke="#dae9f2"/><path d="M212.5 106.5 L214.4 108.5 L217.7 106.2 L215.9 104.3 Z" fill="#cce2ef" stroke="#cce2ef"/><path d="M81.5 56.2 L83.4 56.5 L87.1 56.5 L85.3 56.2 Z" fill="#185493" stroke="#185493"/><path d="M220.1 112.8 L222.0 114.0 L225.3 111.9 L223.4 110.6 Z" fill="#ddebf2" stroke="#ddebf2"/><path d="M191.7 89.0 L193.6 89.5 L197.0 89.0 L195.1 88.5 Z" fill="#81bad8" stroke="#81bad8"/><path d="M113.1 59.1 L115.0 59.3 L118.6 59.0 L116.7 58.8 Z" fill="#1d5fa2" stroke="#1d5fa2"/><path d="M222.0 114.0 L223.9 115.2 L227.2 113.1 L225.3 111.9 Z" fill="#e0ecf3" stroke="#e0ecf3"/><path d="M128.0 59.8 L129.9 59.9 L133.4 59.3 L131.5 59.2 Z" fill="#1d5fa2" stroke="#1d5fa2"/><path d="M175.0 86.6 L176.9 87.0 L180.3 86.5 L178.4 86.1 Z" fill="#75b2d4" stroke="#75b2d4"/><path d="M98.3 58.0 L100.1 58.2 L103.8 58.1 L101.9 57.9 Z" fill="#1b5a9c" stroke="#1b5a9c"/><path d="M210.7 104.0 L212.5 106.5 L215.9 104.3 L214.0 101.9 Z" fill="#c2ddec" stroke="#c2ddec"/><path d="M158.3 84.0 L160.2 84.5 L163.6 84.1 L161.7 83.6 Z" fill="#68abd0" stroke="#68abd0"/><path d="M223.9 115.2 L225.8 116.2 L229.1 114.1 L227.2 113.1 Z" fill="#e1edf3" stroke="#e1edf3"/><path d="M242.5 119.2 L244.5 119.7 L247.7 117.6 L245.8 117.2 Z" fill="#eaf1f5" stroke="#eaf1f5"/><path d="M83.4 56.5 L85.3 56.8 L89.0 56.7 L87.1 56.5 Z" fill="#185493" stroke="#185493"/><path d="M193.6 89.5 L195.6 90.0 L198.9 89.4 L197.0 89.0 Z" fill="#81bad8" stroke="#81bad8"/><path d="M225.8 116.2 L227.7 117.2 L231.0 115.1 L229.1 114.1 Z" fill="#e4eef4" stroke="#e4eef4"/><path d="M208.8 101.3 L210.7 104.0 L214.0 101.9 L212.1 99.3 Z" fill="#b6d7e8" stroke="#b6d7e8"/><path d="M176.9 87.0 L178.8 87.4 L182.2 86.9 L180.3 86.5 Z" fill="#75b2d4" stroke="#75b2d4"/><path d="M115.0 59.3 L116.9 59.4 L120.5 59.1 L118.6 59.0 Z" fill="#1c5c9f" stroke="#1c5c9f"/><path d="M160.2 84.5 L162.1 84.9 L165.5 84.5 L163.6 84.1 Z" fill="#68abd0" stroke="#68abd0"/><path d="M129.9 59.9 L131.7 60.1 L135.3 59.5 L133.4 59.3 Z" fill="#1d5fa2" stroke="#1d5fa2"/><path d="M100.1 58.2 L102.0 58.4 L105.7 58.3 L103.8 58.1 Z" fill="#1b5a9c" stroke="#1b5a9c"/><path d="M244.5 119.7 L246.4 120.2 L249.6 118.1 L247.7 117.6 Z" fill="#ecf2f5" stroke="#ecf2f5"/><path d="M227.7 117.2 L229.6 118.1 L232.9 116.0 L231.0 115.1 Z" fill="#e6eff4" stroke="#e6eff4"/><path d="M195.6 90.0 L197.5 90.6 L200.8 89.7 L198.9 89.4 Z" fill="#84bcd9" stroke="#84bcd9"/><path d="M85.3 56.8 L87.1 57.1 L90.8 57.0 L89.0 56.7 Z" fill="#185493" stroke="#185493"/><path d="M206.9 98.8 L208.8 101.3 L212.1 99.3 L210.3 96.9 Z" fill="#acd2e5" stroke="#acd2e5"/><path d="M229.6 118.1 L231.6 119.0 L234.8 116.9 L232.9 116.0 Z" fill="#e7f0f4" stroke="#e7f0f4"/><path d="M178.8 87.4 L180.7 87.8 L184.1 87.3 L182.2 86.9 Z" fill="#75b2d4" stroke="#75b2d4"/><path d="M162.1 84.9 L164.0 85.4 L167.4 84.9 L165.5 84.5 Z" fill="#68abd0" stroke="#68abd0"/><path d="M116.9 59.4 L118.8 59.6 L122.3 59.3 L120.5 59.1 Z" fill="#1c5c9f" stroke="#1c5c9f"/><path d="M246.4 120.2 L248.4 120.6 L251.6 118.5 L249.6 118.1 Z" fill="#ecf2f5" stroke="#ecf2f5"/><path d="M102.0 58.4 L103.9 58.6 L107.5 58.5 L105.7 58.3 Z" fill="#1a5899" stroke="#1a5899"/><path d="M131.7 60.1 L133.6 60.2 L137.2 59.6 L135.3 59.5 Z" fill="#1c5c9f" stroke="#1c5c9f"/><path d="M135.5 60.4 L137.4 65.7 L141.0 65.5 L139.1 59.8 Z" fill="#2267ac" stroke="#2267ac"/><path d="M205.1 96.5 L206.9 98.8 L210.3 96.9 L208.4 94.7 Z" fill="#a0cce2" stroke="#a0cce2"/><path d="M231.6 119.0 L233.5 119.8 L236.7 117.7 L234.8 116.9 Z" fill="#e9f0f4" stroke="#e9f0f4"/><path d="M197.5 90.6 L199.4 91.3 L202.7 90.2 L200.8 89.7 Z" fill="#84bcd9" stroke="#84bcd9"/><path d="M139.6 76.5 L141.5 78.3 L145.0 78.3 L143.1 76.6 Z" fill="#4291c2" stroke="#4291c2"/><path d="M141.5 78.3 L143.4 79.7 L146.9 79.6 L145.0 78.3 Z" fill="#4997c5" stroke="#4997c5"/><path d="M87.1 57.1 L89.0 57.4 L92.7 57.3 L90.8 57.0 Z" fill="#185493" stroke="#185493"/><path d="M143.4 79.7 L145.3 80.9 L148.8 80.7 L146.9 79.6 Z" fill="#4f9bc7" stroke="#4f9bc7"/><path d="M180.7 87.8 L182.6 88.2 L186.0 87.7 L184.1 87.3 Z" fill="#75b2d4" stroke="#75b2d4"/><path d="M203.2 94.4 L205.1 96.5 L208.4 94.7 L206.5 92.9 Z" fill="#98c8e0" stroke="#98c8e0"/><path d="M137.7 74.2 L139.6 76.5 L143.1 76.6 L141.2 74.3 Z" fill="#3e8cbf" stroke="#3e8cbf"/><path d="M164.0 85.4 L165.9 85.8 L169.3 85.3 L167.4 84.9 Z" fill="#68abd0" stroke="#68abd0"/><path d="M199.4 91.3 L201.3 92.5 L204.6 90.9 L202.7 90.2 Z" fill="#87beda" stroke="#87beda"/><path d="M248.4 120.6 L250.3 121.1 L253.5 119.0 L251.6 118.5 Z" fill="#ecf2f5" stroke="#ecf2f5"/><path d="M233.5 119.8 L235.4 120.4 L238.7 118.3 L236.7 117.7 Z" fill="#eaf1f5" stroke="#eaf1f5"/><path d="M201.3 92.5 L203.2 94.4 L206.5 92.9 L204.6 90.9 Z" fill="#8dc2dc" stroke="#8dc2dc"/><path d="M145.3 80.9 L147.2 81.8 L150.7 81.5 L148.8 80.7 Z" fill="#529dc8" stroke="#529dc8"/><path d="M118.8 59.6 L120.6 59.8 L124.2 59.4 L122.3 59.3 Z" fill="#1b5a9c" stroke="#1b5a9c"/><path d="M103.9 58.6 L105.8 58.8 L109.4 58.7 L107.5 58.5 Z" fill="#1a5899" stroke="#1a5899"/><path d="M133.6 60.2 L135.5 60.4 L139.1 59.8 L137.2 59.6 Z" fill="#1c5c9f" stroke="#1c5c9f"/><path d="M89.0 57.4 L90.9 57.7 L94.5 57.5 L92.7 57.3 Z" fill="#185493" stroke="#185493"/><path d="M182.6 88.2 L184.5 88.6 L187.9 88.1 L186.0 87.7 Z" fill="#75b2d4" stroke="#75b2d4"/><path d="M147.2 81.8 L149.1 82.6 L152.6 82.3 L150.7 81.5 Z" fill="#569fc9" stroke="#569fc9"/><path d="M135.8 71.3 L137.7 74.2 L141.2 74.3 L139.3 71.0 Z" fill="#3783bb" stroke="#3783bb"/><path d="M165.9 85.8 L167.8 86.2 L171.2 85.8 L169.3 85.3 Z" fill="#68abd0" stroke="#68abd0"/><path d="M235.4 120.4 L237.4 120.8 L240.6 118.8 L238.7 118.3 Z" fill="#eaf1f5" stroke="#eaf1f5"/><path d="M250.3 121.1 L252.2 121.5 L255.4 119.4 L253.5 119.0 Z" fill="#ecf2f5" stroke="#ecf2f5"/><path d="M120.6 59.8 L122.5 59.9 L126.1 59.6 L124.2 59.4 Z" fill="#1b5a9c" stroke="#1b5a9c"/><path d="M105.8 58.8 L107.6 59.0 L111.3 58.9 L109.4 58.7 Z" fill="#1a5899" stroke="#1a5899"/><path d="M149.1 82.6 L151.0 83.3 L154.5 82.9 L152.6 82.3 Z" fill="#59a1ca" stroke="#59a1ca"/><path d="M211.1 110.7 L213.0 112.3 L216.3 110.1 L214.4 108.5 Z" fill="#d4e6f1" stroke="#d4e6f1"/><path d="M213.0 112.3 L214.9 113.7 L218.2 111.5 L216.3 110.1 Z" fill="#d7e8f1" stroke="#d7e8f1"/><path d="M184.5 88.6 L186.5 89.1 L189.8 88.6 L187.9 88.1 Z" fill="#75b2d4" stroke="#75b2d4"/><path d="M209.2 108.8 L211.1 110.7 L214.4 108.5 L212.5 106.5 Z" fill="#cce2ef" stroke="#cce2ef"/><path d="M90.9 57.7 L92.7 57.9 L96.4 57.8 L94.5 57.5 Z" fill="#175290" stroke="#175290"/><path d="M167.8 86.2 L169.7 86.6 L173.1 86.2 L171.2 85.8 Z" fill="#68abd0" stroke="#68abd0"/><path d="M214.9 113.7 L216.8 114.9 L220.1 112.8 L218.2 111.5 Z" fill="#dae9f2" stroke="#dae9f2"/><path d="M237.4 120.8 L239.3 121.3 L242.5 119.2 L240.6 118.8 Z" fill="#eaf1f5" stroke="#eaf1f5"/><path d="M216.8 114.9 L218.7 116.1 L222.0 114.0 L220.1 112.8 Z" fill="#ddebf2" stroke="#ddebf2"/><path d="M151.0 83.3 L152.9 83.9 L156.4 83.5 L154.5 82.9 Z" fill="#5ca3cb" stroke="#5ca3cb"/><path d="M207.3 106.1 L209.2 108.8 L212.5 106.5 L210.7 104.0 Z" fill="#c2ddec" stroke="#c2ddec"/><path d="M218.7 116.1 L220.6 117.3 L223.9 115.2 L222.0 114.0 Z" fill="#e0ecf3" stroke="#e0ecf3"/><path d="M76.0 56.2 L77.8 56.6 L81.5 56.2 L79.7 55.8 Z" fill="#144e8a" stroke="#144e8a"/><path d="M122.5 59.9 L124.4 60.1 L128.0 59.8 L126.1 59.6 Z" fill="#1b5a9c" stroke="#1b5a9c"/><path d="M107.6 59.0 L109.5 59.2 L113.1 59.1 L111.3 58.9 Z" fill="#195696" stroke="#195696"/><path d="M186.5 89.1 L188.4 89.5 L191.7 89.0 L189.8 88.6 Z" fill="#78b4d5" stroke="#78b4d5"/><path d="M220.6 117.3 L222.5 118.3 L225.8 116.2 L223.9 115.2 Z" fill="#e1edf3" stroke="#e1edf3"/><path d="M133.9 67.3 L135.8 71.3 L139.3 71.0 L137.4 65.7 Z" fill="#2c75b4" stroke="#2c75b4"/><path d="M169.7 86.6 L171.6 87.0 L175.0 86.6 L173.1 86.2 Z" fill="#68abd0" stroke="#68abd0"/><path d="M239.3 121.3 L241.2 121.8 L244.5 119.7 L242.5 119.2 Z" fill="#eaf1f5" stroke="#eaf1f5"/><path d="M92.7 57.9 L94.6 58.2 L98.3 58.0 L96.4 57.8 Z" fill="#175290" stroke="#175290"/><path d="M152.9 83.9 L154.8 84.5 L158.3 84.0 L156.4 83.5 Z" fill="#5ca3cb" stroke="#5ca3cb"/><path d="M222.5 118.3 L224.4 119.3 L227.7 117.2 L225.8 116.2 Z" fill="#e4eef4" stroke="#e4eef4"/><path d="M205.5 103.3 L207.3 106.1 L210.7 104.0 L208.8 101.3 Z" fill="#b6d7e8" stroke="#b6d7e8"/><path d="M77.8 56.6 L79.7 57.0 L83.4 56.5 L81.5 56.2 Z" fill="#144e8a" stroke="#144e8a"/><path d="M188.4 89.5 L190.3 90.1 L193.6 89.5 L191.7 89.0 Z" fill="#78b4d5" stroke="#78b4d5"/><path d="M124.4 60.1 L126.3 60.3 L129.9 59.9 L128.0 59.8 Z" fill="#1a5899" stroke="#1a5899"/><path d="M109.5 59.2 L111.4 59.4 L115.0 59.3 L113.1 59.1 Z" fill="#195696" stroke="#195696"/><path d="M171.6 87.0 L173.5 87.4 L176.9 87.0 L175.0 86.6 Z" fill="#6bacd1" stroke="#6bacd1"/><path d="M241.2 121.8 L243.2 122.2 L246.4 120.2 L244.5 119.7 Z" fill="#ecf2f5" stroke="#ecf2f5"/><path d="M224.4 119.3 L226.4 120.2 L229.6 118.1 L227.7 117.2 Z" fill="#e6eff4" stroke="#e6eff4"/><path d="M154.8 84.5 L156.7 85.0 L160.2 84.5 L158.3 84.0 Z" fill="#5ca3cb" stroke="#5ca3cb"/><path d="M94.6 58.2 L96.5 58.4 L100.1 58.2 L98.3 58.0 Z" fill="#175290" stroke="#175290"/><path d="M203.6 100.6 L205.5 103.3 L208.8 101.3 L206.9 98.8 Z" fill="#a9d1e5" stroke="#a9d1e5"/><path d="M226.4 120.2 L228.3 121.1 L231.6 119.0 L229.6 118.1 Z" fill="#e7f0f4" stroke="#e7f0f4"/><path d="M190.3 90.1 L192.2 90.7 L195.6 90.0 L193.6 89.5 Z" fill="#78b4d5" stroke="#78b4d5"/><path d="M79.7 57.0 L81.6 57.4 L85.3 56.8 L83.4 56.5 Z" fill="#144e8a" stroke="#144e8a"/><path d="M243.2 122.2 L245.1 122.7 L248.4 120.6 L246.4 120.2 Z" fill="#ecf2f5" stroke="#ecf2f5"/><path d="M173.5 87.4 L175.4 87.8 L178.8 87.4 L176.9 87.0 Z" fill="#6bacd1" stroke="#6bacd1"/><path d="M126.3 60.3 L128.2 60.6 L131.7 60.1 L129.9 59.9 Z" fill="#1a5899" stroke="#1a5899"/><path d="M111.4 59.4 L113.3 59.6 L116.9 59.4 L115.0 59.3 Z" fill="#185493" stroke="#185493"/><path d="M156.7 85.0 L158.6 85.5 L162.1 84.9 L160.2 84.5 Z" fill="#5fa5cd" stroke="#5fa5cd"/><path d="M228.3 121.1 L230.2 121.8 L233.5 119.8 L231.6 119.0 Z" fill="#e9f0f4" stroke="#e9f0f4"/><path d="M96.5 58.4 L98.3 58.7 L102.0 58.4 L100.1 58.2 Z" fill="#175290" stroke="#175290"/><path d="M201.7 98.2 L203.6 100.6 L206.9 98.8 L205.1 96.5 Z" fill="#a0cce2" stroke="#a0cce2"/><path d="M192.2 90.7 L194.1 91.4 L197.5 90.6 L195.6 90.0 Z" fill="#7bb6d6" stroke="#7bb6d6"/><path d="M132.0 63.6 L133.9 67.3 L137.4 65.7 L135.5 60.4 Z" fill="#2065ab" stroke="#2065ab"/><path d="M81.6 57.4 L83.4 57.7 L87.1 57.1 L85.3 56.8 Z" fill="#134c87" stroke="#134c87"/><path d="M245.1 122.7 L247.1 123.2 L250.3 121.1 L248.4 120.6 Z" fill="#ecf2f5" stroke="#ecf2f5"/><path d="M175.4 87.8 L177.3 88.3 L180.7 87.8 L178.8 87.4 Z" fill="#6bacd1" stroke="#6bacd1"/><path d="M128.2 60.6 L130.1 61.8 L133.6 60.2 L131.7 60.1 Z" fill="#1a5899" stroke="#1a5899"/><path d="M230.2 121.8 L232.2 122.4 L235.4 120.4 L233.5 119.8 Z" fill="#eaf1f5" stroke="#eaf1f5"/><path d="M199.8 95.9 L201.7 98.2 L205.1 96.5 L203.2 94.4 Z" fill="#96c7df" stroke="#96c7df"/><path d="M158.6 85.5 L160.5 85.9 L164.0 85.4 L162.1 84.9 Z" fill="#5fa5cd" stroke="#5fa5cd"/><path d="M194.1 91.4 L196.0 92.4 L199.4 91.3 L197.5 90.6 Z" fill="#7eb8d7" stroke="#7eb8d7"/><path d="M113.3 59.6 L115.1 59.8 L118.8 59.6 L116.9 59.4 Z" fill="#185493" stroke="#185493"/><path d="M197.9 93.9 L199.8 95.9 L203.2 94.4 L201.3 92.5 Z" fill="#8ac0db" stroke="#8ac0db"/><path d="M98.3 58.7 L100.2 58.9 L103.9 58.6 L102.0 58.4 Z" fill="#15508d" stroke="#15508d"/><path d="M196.0 92.4 L197.9 93.9 L201.3 92.5 L199.4 91.3 Z" fill="#81bad8" stroke="#81bad8"/><path d="M130.1 61.8 L132.0 63.6 L135.5 60.4 L133.6 60.2 Z" fill="#1b5a9c" stroke="#1b5a9c"/><path d="M83.4 57.7 L85.3 58.0 L89.0 57.4 L87.1 57.1 Z" fill="#134c87" stroke="#134c87"/><path d="M232.2 122.4 L234.1 122.9 L237.4 120.8 L235.4 120.4 Z" fill="#eaf1f5" stroke="#eaf1f5"/><path d="M247.1 123.2 L249.0 123.6 L252.2 121.5 L250.3 121.1 Z" fill="#ecf2f5" stroke="#ecf2f5"/><path d="M138.0 78.4 L139.9 80.0 L143.4 79.7 L141.5 78.3 Z" fill="#408fc1" stroke="#408fc1"/><path d="M177.3 88.3 L179.2 88.7 L182.6 88.2 L180.7 87.8 Z" fill="#6bacd1" stroke="#6bacd1"/><path d="M136.1 76.6 L138.0 78.4 L141.5 78.3 L139.6 76.5 Z" fill="#3c8abe" stroke="#3c8abe"/><path d="M160.5 85.9 L162.4 86.3 L165.9 85.8 L164.0 85.4 Z" fill="#5fa5cd" stroke="#5fa5cd"/><path d="M139.9 80.0 L141.8 81.2 L145.3 80.9 L143.4 79.7 Z" fill="#4393c3" stroke="#4393c3"/><path d="M207.8 113.0 L209.7 114.5 L213.0 112.3 L211.1 110.7 Z" fill="#d4e6f1" stroke="#d4e6f1"/><path d="M134.2 74.4 L136.1 76.6 L139.6 76.5 L137.7 74.2 Z" fill="#3885bc" stroke="#3885bc"/><path d="M209.7 114.5 L211.6 115.9 L214.9 113.7 L213.0 112.3 Z" fill="#d7e8f1" stroke="#d7e8f1"/><path d="M115.1 59.8 L117.0 60.0 L120.6 59.8 L118.8 59.6 Z" fill="#185493" stroke="#185493"/><path d="M141.8 81.2 L143.7 82.3 L147.2 81.8 L145.3 80.9 Z" fill="#4997c5" stroke="#4997c5"/><path d="M205.9 111.2 L207.8 113.0 L211.1 110.7 L209.2 108.8 Z" fill="#cfe4ef" stroke="#cfe4ef"/><path d="M100.2 58.9 L102.1 59.1 L105.8 58.8 L103.9 58.6 Z" fill="#15508d" stroke="#15508d"/><path d="M211.6 115.9 L213.5 117.1 L216.8 114.9 L214.9 113.7 Z" fill="#dae9f2" stroke="#dae9f2"/><path d="M234.1 122.9 L236.0 123.4 L239.3 121.3 L237.4 120.8 Z" fill="#eaf1f5" stroke="#eaf1f5"/><path d="M85.3 58.0 L87.2 58.3 L90.9 57.7 L89.0 57.4 Z" fill="#134c87" stroke="#134c87"/><path d="M179.2 88.7 L181.2 89.1 L184.5 88.6 L182.6 88.2 Z" fill="#6bacd1" stroke="#6bacd1"/><path d="M213.5 117.1 L215.4 118.3 L218.7 116.1 L216.8 114.9 Z" fill="#ddebf2" stroke="#ddebf2"/><path d="M143.7 82.3 L145.6 83.1 L149.1 82.6 L147.2 81.8 Z" fill="#4c99c6" stroke="#4c99c6"/><path d="M162.4 86.3 L164.3 86.7 L167.8 86.2 L165.9 85.8 Z" fill="#5fa5cd" stroke="#5fa5cd"/><path d="M204.0 108.3 L205.9 111.2 L209.2 108.8 L207.3 106.1 Z" fill="#c5dfec" stroke="#c5dfec"/><path d="M132.3 71.9 L134.2 74.4 L137.7 74.2 L135.8 71.3 Z" fill="#327cb7" stroke="#327cb7"/><path d="M215.4 118.3 L217.3 119.4 L220.6 117.3 L218.7 116.1 Z" fill="#e0ecf3" stroke="#e0ecf3"/><path d="M117.0 60.0 L118.9 60.1 L122.5 59.9 L120.6 59.8 Z" fill="#175290" stroke="#175290"/><path d="M217.3 119.4 L219.2 120.5 L222.5 118.3 L220.6 117.3 Z" fill="#e1edf3" stroke="#e1edf3"/><path d="M145.6 83.1 L147.5 83.9 L151.0 83.3 L149.1 82.6 Z" fill="#4f9bc7" stroke="#4f9bc7"/><path d="M236.0 123.4 L238.0 123.9 L241.2 121.8 L239.3 121.3 Z" fill="#eaf1f5" stroke="#eaf1f5"/><path d="M102.1 59.1 L104.0 59.3 L107.6 59.0 L105.8 58.8 Z" fill="#15508d" stroke="#15508d"/><path d="M181.2 89.1 L183.1 89.6 L186.5 89.1 L184.5 88.6 Z" fill="#6bacd1" stroke="#6bacd1"/><path d="M87.2 58.3 L89.0 58.6 L92.7 57.9 L90.9 57.7 Z" fill="#134c87" stroke="#134c87"/><path d="M164.3 86.7 L166.2 87.2 L169.7 86.6 L167.8 86.2 Z" fill="#5fa5cd" stroke="#5fa5cd"/><path d="M219.2 120.5 L221.1 121.4 L224.4 119.3 L222.5 118.3 Z" fill="#e4eef4" stroke="#e4eef4"/><path d="M202.1 105.3 L204.0 108.3 L207.3 106.1 L205.5 103.3 Z" fill="#b6d7e8" stroke="#b6d7e8"/><path d="M72.2 57.5 L74.1 57.9 L77.8 56.6 L76.0 56.2 Z" fill="#114781" stroke="#114781"/><path d="M147.5 83.9 L149.4 84.5 L152.9 83.9 L151.0 83.3 Z" fill="#4f9bc7" stroke="#4f9bc7"/><path d="M130.3 69.0 L132.3 71.9 L135.8 71.3 L133.9 67.3 Z" fill="#2a71b2" stroke="#2a71b2"/><path d="M238.0 123.9 L239.9 124.3 L243.2 122.2 L241.2 121.8 Z" fill="#eaf1f5" stroke="#eaf1f5"/><path d="M221.1 121.4 L223.1 122.3 L226.4 120.2 L224.4 119.3 Z" fill="#e6eff4" stroke="#e6eff4"/><path d="M118.9 60.1 L120.8 60.6 L124.4 60.1 L122.5 59.9 Z" fill="#175290" stroke="#175290"/><path d="M183.1 89.6 L185.0 90.1 L188.4 89.5 L186.5 89.1 Z" fill="#6bacd1" stroke="#6bacd1"/><path d="M104.0 59.3 L105.9 59.5 L109.5 59.2 L107.6 59.0 Z" fill="#144e8a" stroke="#144e8a"/><path d="M166.2 87.2 L168.1 87.6 L171.6 87.0 L169.7 86.6 Z" fill="#5fa5cd" stroke="#5fa5cd"/><path d="M89.0 58.6 L90.9 58.8 L94.6 58.2 L92.7 57.9 Z" fill="#134c87" stroke="#134c87"/><path d="M149.4 84.5 L151.3 85.1 L154.8 84.5 L152.9 83.9 Z" fill="#529dc8" stroke="#529dc8"/><path d="M74.1 57.9 L76.0 58.2 L79.7 57.0 L77.8 56.6 Z" fill="#114781" stroke="#114781"/><path d="M223.1 122.3 L225.0 123.1 L228.3 121.1 L226.4 120.2 Z" fill="#e7f0f4" stroke="#e7f0f4"/><path d="M200.2 102.5 L202.1 105.3 L205.5 103.3 L203.6 100.6 Z" fill="#a9d1e5" stroke="#a9d1e5"/><path d="M120.8 60.6 L122.7 61.8 L126.3 60.3 L124.4 60.1 Z" fill="#175290" stroke="#175290"/><path d="M239.9 124.3 L241.9 124.8 L245.1 122.7 L243.2 122.2 Z" fill="#ecf2f5" stroke="#ecf2f5"/><path d="M185.0 90.1 L186.9 90.7 L190.3 90.1 L188.4 89.5 Z" fill="#6eaed2" stroke="#6eaed2"/><path d="M225.0 123.1 L226.9 123.9 L230.2 121.8 L228.3 121.1 Z" fill="#e9f0f4" stroke="#e9f0f4"/><path d="M168.1 87.6 L170.1 88.0 L173.5 87.4 L171.6 87.0 Z" fill="#5fa5cd" stroke="#5fa5cd"/><path d="M128.4 66.3 L130.3 69.0 L133.9 67.3 L132.0 63.6 Z" fill="#2267ac" stroke="#2267ac"/><path d="M105.9 59.5 L107.7 59.7 L111.4 59.4 L109.5 59.2 Z" fill="#144e8a" stroke="#144e8a"/><path d="M151.3 85.1 L153.2 85.6 L156.7 85.0 L154.8 84.5 Z" fill="#529dc8" stroke="#529dc8"/><path d="M90.9 58.8 L92.8 59.1 L96.5 58.4 L94.6 58.2 Z" fill="#134c87" stroke="#134c87"/><path d="M76.0 58.2 L77.8 58.6 L81.6 57.4 L79.7 57.0 Z" fill="#114781" stroke="#114781"/><path d="M198.4 99.8 L200.2 102.5 L203.6 100.6 L201.7 98.2 Z" fill="#9dcbe1" stroke="#9dcbe1"/><path d="M122.7 61.8 L124.6 62.9 L128.2 60.6 L126.3 60.3 Z" fill="#185493" stroke="#185493"/><path d="M186.9 90.7 L188.8 91.4 L192.2 90.7 L190.3 90.1 Z" fill="#6eaed2" stroke="#6eaed2"/><path d="M241.9 124.8 L243.8 125.3 L247.1 123.2 L245.1 122.7 Z" fill="#ecf2f5" stroke="#ecf2f5"/><path d="M226.9 123.9 L228.9 124.5 L232.2 122.4 L230.2 121.8 Z" fill="#e9f0f4" stroke="#e9f0f4"/><path d="M126.5 64.4 L128.4 66.3 L132.0 63.6 L130.1 61.8 Z" fill="#1c5c9f" stroke="#1c5c9f"/><path d="M124.6 62.9 L126.5 64.4 L130.1 61.8 L128.2 60.6 Z" fill="#1a5899" stroke="#1a5899"/><path d="M170.1 88.0 L172.0 88.4 L175.4 87.8 L173.5 87.4 Z" fill="#5fa5cd" stroke="#5fa5cd"/><path d="M153.2 85.6 L155.1 86.1 L158.6 85.5 L156.7 85.0 Z" fill="#529dc8" stroke="#529dc8"/><path d="M196.5 97.4 L198.4 99.8 L201.7 98.2 L199.8 95.9 Z" fill="#90c4dd" stroke="#90c4dd"/><path d="M188.8 91.4 L190.8 92.2 L194.1 91.4 L192.2 90.7 Z" fill="#71b0d3" stroke="#71b0d3"/><path d="M107.7 59.7 L109.6 59.9 L113.3 59.6 L111.4 59.4 Z" fill="#144e8a" stroke="#144e8a"/><path d="M92.8 59.1 L94.7 59.3 L98.3 58.7 L96.5 58.4 Z" fill="#124984" stroke="#124984"/><path d="M77.8 58.6 L79.7 58.9 L83.4 57.7 L81.6 57.4 Z" fill="#114781" stroke="#114781"/><path d="M243.8 125.3 L245.8 125.7 L249.0 123.6 L247.1 123.2 Z" fill="#ecf2f5" stroke="#ecf2f5"/><path d="M228.9 124.5 L230.8 125.0 L234.1 122.9 L232.2 122.4 Z" fill="#eaf1f5" stroke="#eaf1f5"/><path d="M194.6 95.1 L196.5 97.4 L199.8 95.9 L197.9 93.9 Z" fill="#84bcd9" stroke="#84bcd9"/><path d="M190.8 92.2 L192.7 93.5 L196.0 92.4 L194.1 91.4 Z" fill="#75b2d4" stroke="#75b2d4"/><path d="M204.4 115.3 L206.3 116.8 L209.7 114.5 L207.8 113.0 Z" fill="#d4e6f1" stroke="#d4e6f1"/><path d="M192.7 93.5 L194.6 95.1 L197.9 93.9 L196.0 92.4 Z" fill="#7bb6d6" stroke="#7bb6d6"/><path d="M172.0 88.4 L173.9 88.8 L177.3 88.3 L175.4 87.8 Z" fill="#5fa5cd" stroke="#5fa5cd"/><path d="M202.5 113.5 L204.4 115.3 L207.8 113.0 L205.9 111.2 Z" fill="#cfe4ef" stroke="#cfe4ef"/><path d="M206.3 116.8 L208.2 118.1 L211.6 115.9 L209.7 114.5 Z" fill="#d7e8f1" stroke="#d7e8f1"/><path d="M155.1 86.1 L157.0 86.5 L160.5 85.9 L158.6 85.5 Z" fill="#569fc9" stroke="#569fc9"/><path d="M208.2 118.1 L210.1 119.3 L213.5 117.1 L211.6 115.9 Z" fill="#dae9f2" stroke="#dae9f2"/><path d="M79.7 58.9 L81.6 59.3 L85.3 58.0 L83.4 57.7 Z" fill="#114781" stroke="#114781"/><path d="M109.6 59.9 L111.5 60.1 L115.1 59.8 L113.3 59.6 Z" fill="#134c87" stroke="#134c87"/><path d="M94.7 59.3 L96.5 59.6 L100.2 58.9 L98.3 58.7 Z" fill="#124984" stroke="#124984"/><path d="M230.8 125.0 L232.8 125.5 L236.0 123.4 L234.1 122.9 Z" fill="#eaf1f5" stroke="#eaf1f5"/><path d="M210.1 119.3 L212.0 120.5 L215.4 118.3 L213.5 117.1 Z" fill="#ddebf2" stroke="#ddebf2"/><path d="M200.6 110.4 L202.5 113.5 L205.9 111.2 L204.0 108.3 Z" fill="#c5dfec" stroke="#c5dfec"/><path d="M212.0 120.5 L214.0 121.6 L217.3 119.4 L215.4 118.3 Z" fill="#e0ecf3" stroke="#e0ecf3"/><path d="M173.9 88.8 L175.8 89.2 L179.2 88.7 L177.3 88.3 Z" fill="#62a7ce" stroke="#62a7ce"/><path d="M157.0 86.5 L158.9 87.0 L162.4 86.3 L160.5 85.9 Z" fill="#569fc9" stroke="#569fc9"/><path d="M134.4 78.9 L136.3 80.5 L139.9 80.0 L138.0 78.4 Z" fill="#3b88be" stroke="#3b88be"/><path d="M136.3 80.5 L138.2 81.8 L141.8 81.2 L139.9 80.0 Z" fill="#3e8cbf" stroke="#3e8cbf"/><path d="M132.5 77.0 L134.4 78.9 L138.0 78.4 L136.1 76.6 Z" fill="#3783bb" stroke="#3783bb"/><path d="M214.0 121.6 L215.9 122.6 L219.2 120.5 L217.3 119.4 Z" fill="#e1edf3" stroke="#e1edf3"/><path d="M138.2 81.8 L140.1 82.9 L143.7 82.3 L141.8 81.2 Z" fill="#408fc1" stroke="#408fc1"/><path d="M81.6 59.3 L83.5 59.6 L87.2 58.3 L85.3 58.0 Z" fill="#114781" stroke="#114781"/><path d="M232.8 125.5 L234.7 126.0 L238.0 123.9 L236.0 123.4 Z" fill="#eaf1f5" stroke="#eaf1f5"/><path d="M130.6 74.9 L132.5 77.0 L136.1 76.6 L134.2 74.4 Z" fill="#337eb8" stroke="#337eb8"/><path d="M96.5 59.6 L98.4 59.8 L102.1 59.1 L100.2 58.9 Z" fill="#124984" stroke="#124984"/><path d="M111.5 60.1 L113.4 60.3 L117.0 60.0 L115.1 59.8 Z" fill="#134c87" stroke="#134c87"/><path d="M215.9 122.6 L217.8 123.5 L221.1 121.4 L219.2 120.5 Z" fill="#e3edf3" stroke="#e3edf3"/><path d="M175.8 89.2 L177.7 89.7 L181.2 89.1 L179.2 88.7 Z" fill="#62a7ce" stroke="#62a7ce"/><path d="M140.1 82.9 L142.0 83.9 L145.6 83.1 L143.7 82.3 Z" fill="#4393c3" stroke="#4393c3"/><path d="M158.9 87.0 L160.9 87.4 L164.3 86.7 L162.4 86.3 Z" fill="#569fc9" stroke="#569fc9"/><path d="M198.7 107.2 L200.6 110.4 L204.0 108.3 L202.1 105.3 Z" fill="#b6d7e8" stroke="#b6d7e8"/><path d="M128.7 72.8 L130.6 74.9 L134.2 74.4 L132.3 71.9 Z" fill="#2e77b5" stroke="#2e77b5"/><path d="M68.5 59.6 L70.4 60.0 L74.1 57.9 L72.2 57.5 Z" fill="#114781" stroke="#114781"/><path d="M234.7 126.0 L236.7 126.5 L239.9 124.3 L238.0 123.9 Z" fill="#eaf1f5" stroke="#eaf1f5"/><path d="M217.8 123.5 L219.8 124.4 L223.1 122.3 L221.1 121.4 Z" fill="#e6eff4" stroke="#e6eff4"/><path d="M83.5 59.6 L85.3 59.9 L89.0 58.6 L87.2 58.3 Z" fill="#114781" stroke="#114781"/><path d="M142.0 83.9 L144.0 84.7 L147.5 83.9 L145.6 83.1 Z" fill="#4695c4" stroke="#4695c4"/><path d="M113.4 60.3 L115.3 61.4 L118.9 60.1 L117.0 60.0 Z" fill="#134c87" stroke="#134c87"/><path d="M98.4 59.8 L100.3 60.0 L104.0 59.3 L102.1 59.1 Z" fill="#124984" stroke="#124984"/><path d="M126.8 70.8 L128.7 72.8 L132.3 71.9 L130.3 69.0 Z" fill="#2870b1" stroke="#2870b1"/><path d="M177.7 89.7 L179.7 90.1 L183.1 89.6 L181.2 89.1 Z" fill="#62a7ce" stroke="#62a7ce"/><path d="M160.9 87.4 L162.8 87.8 L166.2 87.2 L164.3 86.7 Z" fill="#569fc9" stroke="#569fc9"/><path d="M219.8 124.4 L221.7 125.2 L225.0 123.1 L223.1 122.3 Z" fill="#e7f0f4" stroke="#e7f0f4"/><path d="M70.4 60.0 L72.2 60.4 L76.0 58.2 L74.1 57.9 Z" fill="#114781" stroke="#114781"/><path d="M196.9 104.3 L198.7 107.2 L202.1 105.3 L200.2 102.5 Z" fill="#a9d1e5" stroke="#a9d1e5"/><path d="M115.3 61.4 L117.2 62.8 L120.8 60.6 L118.9 60.1 Z" fill="#144e8a" stroke="#144e8a"/><path d="M144.0 84.7 L145.9 85.3 L149.4 84.5 L147.5 83.9 Z" fill="#4695c4" stroke="#4695c4"/><path d="M236.7 126.5 L238.6 126.9 L241.9 124.8 L239.9 124.3 Z" fill="#ecf2f5" stroke="#ecf2f5"/><path d="M124.9 68.7 L126.8 70.8 L130.3 69.0 L128.4 66.3 Z" fill="#2267ac" stroke="#2267ac"/><path d="M85.3 59.9 L87.2 60.1 L90.9 58.8 L89.0 58.6 Z" fill="#114781" stroke="#114781"/><path d="M117.2 62.8 L119.1 64.1 L122.7 61.8 L120.8 60.6 Z" fill="#175290" stroke="#175290"/><path d="M221.7 125.2 L223.6 126.0 L226.9 123.9 L225.0 123.1 Z" fill="#e9f0f4" stroke="#e9f0f4"/><path d="M179.7 90.1 L181.6 90.7 L185.0 90.1 L183.1 89.6 Z" fill="#62a7ce" stroke="#62a7ce"/><path d="M100.3 60.0 L102.2 60.2 L105.9 59.5 L104.0 59.3 Z" fill="#114781" stroke="#114781"/><path d="M119.1 64.1 L121.0 65.5 L124.6 62.9 L122.7 61.8 Z" fill="#195696" stroke="#195696"/><path d="M162.8 87.8 L164.7 88.2 L168.1 87.6 L166.2 87.2 Z" fill="#569fc9" stroke="#569fc9"/><path d="M122.9 66.9 L124.9 68.7 L128.4 66.3 L126.5 64.4 Z" fill="#1d5fa2" stroke="#1d5fa2"/><path d="M121.0 65.5 L122.9 66.9 L126.5 64.4 L124.6 62.9 Z" fill="#1b5a9c" stroke="#1b5a9c"/><path d="M145.9 85.3 L147.8 85.9 L151.3 85.1 L149.4 84.5 Z" fill="#4997c5" stroke="#4997c5"/><path d="M72.2 60.4 L74.1 60.7 L77.8 58.6 L76.0 58.2 Z" fill="#114781" stroke="#114781"/><path d="M195.0 101.5 L196.9 104.3 L200.2 102.5 L198.4 99.8 Z" fill="#9bc9e0" stroke="#9bc9e0"/><path d="M238.6 126.9 L240.6 127.4 L243.8 125.3 L241.9 124.8 Z" fill="#ecf2f5" stroke="#ecf2f5"/><path d="M223.6 126.0 L225.6 126.6 L228.9 124.5 L226.9 123.9 Z" fill="#e9f0f4" stroke="#e9f0f4"/><path d="M181.6 90.7 L183.5 91.3 L186.9 90.7 L185.0 90.1 Z" fill="#62a7ce" stroke="#62a7ce"/><path d="M87.2 60.1 L89.1 60.4 L92.8 59.1 L90.9 58.8 Z" fill="#114781" stroke="#114781"/><path d="M164.7 88.2 L166.6 88.6 L170.1 88.0 L168.1 87.6 Z" fill="#569fc9" stroke="#569fc9"/><path d="M147.8 85.9 L149.7 86.4 L153.2 85.6 L151.3 85.1 Z" fill="#4997c5" stroke="#4997c5"/><path d="M102.2 60.2 L104.1 60.4 L107.7 59.7 L105.9 59.5 Z" fill="#114781" stroke="#114781"/><path d="M193.1 98.8 L195.0 101.5 L198.4 99.8 L196.5 97.4 Z" fill="#8dc2dc" stroke="#8dc2dc"/><path d="M74.1 60.7 L76.0 61.1 L79.7 58.9 L77.8 58.6 Z" fill="#114781" stroke="#114781"/><path d="M240.6 127.4 L242.5 127.9 L245.8 125.7 L243.8 125.3 Z" fill="#ecf2f5" stroke="#ecf2f5"/><path d="M225.6 126.6 L227.5 127.1 L230.8 125.0 L228.9 124.5 Z" fill="#eaf1f5" stroke="#eaf1f5"/><path d="M183.5 91.3 L185.5 92.1 L188.8 91.4 L186.9 90.7 Z" fill="#65a9cf" stroke="#65a9cf"/><path d="M201.0 117.5 L202.9 119.0 L206.3 116.8 L204.4 115.3 Z" fill="#d4e6f1" stroke="#d4e6f1"/><path d="M199.1 115.8 L201.0 117.5 L204.4 115.3 L202.5 113.5 Z" fill="#d1e5f0" stroke="#d1e5f0"/><path d="M202.9 119.0 L204.9 120.3 L208.2 118.1 L206.3 116.8 Z" fill="#d8e9f1" stroke="#d8e9f1"/><path d="M89.1 60.4 L91.0 60.6 L94.7 59.3 L92.8 59.1 Z" fill="#10457e" stroke="#10457e"/><path d="M149.7 86.4 L151.6 86.9 L155.1 86.1 L153.2 85.6 Z" fill="#4c99c6" stroke="#4c99c6"/><path d="M204.9 120.3 L206.8 121.5 L210.1 119.3 L208.2 118.1 Z" fill="#dae9f2" stroke="#dae9f2"/><path d="M166.6 88.6 L168.5 89.0 L172.0 88.4 L170.1 88.0 Z" fill="#569fc9" stroke="#569fc9"/><path d="M191.2 96.3 L193.1 98.8 L196.5 97.4 L194.6 95.1 Z" fill="#81bad8" stroke="#81bad8"/><path d="M185.5 92.1 L187.4 93.1 L190.8 92.2 L188.8 91.4 Z" fill="#68abd0" stroke="#68abd0"/><path d="M104.1 60.4 L106.0 60.6 L109.6 59.9 L107.7 59.7 Z" fill="#114781" stroke="#114781"/><path d="M206.8 121.5 L208.7 122.6 L212.0 120.5 L210.1 119.3 Z" fill="#ddebf2" stroke="#ddebf2"/><path d="M227.5 127.1 L229.5 127.6 L232.8 125.5 L230.8 125.0 Z" fill="#eaf1f5" stroke="#eaf1f5"/><path d="M197.2 112.6 L199.1 115.8 L202.5 113.5 L200.6 110.4 Z" fill="#c5dfec" stroke="#c5dfec"/><path d="M76.0 61.1 L77.9 61.4 L81.6 59.3 L79.7 58.9 Z" fill="#114781" stroke="#114781"/><path d="M187.4 93.1 L189.3 94.4 L192.7 93.5 L190.8 92.2 Z" fill="#6eaed2" stroke="#6eaed2"/><path d="M189.3 94.4 L191.2 96.3 L194.6 95.1 L192.7 93.5 Z" fill="#75b2d4" stroke="#75b2d4"/><path d="M208.7 122.6 L210.6 123.7 L214.0 121.6 L212.0 120.5 Z" fill="#e0ecf3" stroke="#e0ecf3"/><path d="M151.6 86.9 L153.5 87.4 L157.0 86.5 L155.1 86.1 Z" fill="#4c99c6" stroke="#4c99c6"/><path d="M168.5 89.0 L170.5 89.5 L173.9 88.8 L172.0 88.4 Z" fill="#569fc9" stroke="#569fc9"/><path d="M91.0 60.6 L92.9 60.9 L96.5 59.6 L94.7 59.3 Z" fill="#10457e" stroke="#10457e"/><path d="M210.6 123.7 L212.5 124.7 L215.9 122.6 L214.0 121.6 Z" fill="#e1edf3" stroke="#e1edf3"/><path d="M229.5 127.6 L231.4 128.1 L234.7 126.0 L232.8 125.5 Z" fill="#eaf1f5" stroke="#eaf1f5"/><path d="M106.0 60.6 L107.9 60.8 L111.5 60.1 L109.6 59.9 Z" fill="#10457e" stroke="#10457e"/><path d="M77.9 61.4 L79.7 61.7 L83.5 59.6 L81.6 59.3 Z" fill="#10457e" stroke="#10457e"/><path d="M64.8 62.6 L66.7 63.0 L70.4 60.0 L68.5 59.6 Z" fill="#124984" stroke="#124984"/><path d="M212.5 124.7 L214.5 125.6 L217.8 123.5 L215.9 122.6 Z" fill="#e3edf3" stroke="#e3edf3"/><path d="M195.4 109.2 L197.2 112.6 L200.6 110.4 L198.7 107.2 Z" fill="#b6d7e8" stroke="#b6d7e8"/><path d="M153.5 87.4 L155.4 87.8 L158.9 87.0 L157.0 86.5 Z" fill="#4c99c6" stroke="#4c99c6"/><path d="M130.8 79.7 L132.8 81.4 L136.3 80.5 L134.4 78.9 Z" fill="#3783bb" stroke="#3783bb"/><path d="M170.5 89.5 L172.4 89.9 L175.8 89.2 L173.9 88.8 Z" fill="#569fc9" stroke="#569fc9"/><path d="M132.8 81.4 L134.7 82.8 L138.2 81.8 L136.3 80.5 Z" fill="#3b88be" stroke="#3b88be"/><path d="M128.9 77.8 L130.8 79.7 L134.4 78.9 L132.5 77.0 Z" fill="#337eb8" stroke="#337eb8"/><path d="M92.9 60.9 L94.7 61.1 L98.4 59.8 L96.5 59.6 Z" fill="#10457e" stroke="#10457e"/><path d="M134.7 82.8 L136.6 84.0 L140.1 82.9 L138.2 81.8 Z" fill="#3e8cbf" stroke="#3e8cbf"/><path d="M231.4 128.1 L233.4 128.6 L236.7 126.5 L234.7 126.0 Z" fill="#eaf1f5" stroke="#eaf1f5"/><path d="M214.5 125.6 L216.4 126.5 L219.8 124.4 L217.8 123.5 Z" fill="#e6eff4" stroke="#e6eff4"/><path d="M107.9 60.8 L109.8 61.9 L113.4 60.3 L111.5 60.1 Z" fill="#10457e" stroke="#10457e"/><path d="M127.0 75.7 L128.9 77.8 L132.5 77.0 L130.6 74.9 Z" fill="#2f79b5" stroke="#2f79b5"/><path d="M66.7 63.0 L68.5 63.4 L72.2 60.4 L70.4 60.0 Z" fill="#124984" stroke="#124984"/><path d="M79.7 61.7 L81.6 62.0 L85.3 59.9 L83.5 59.6 Z" fill="#10457e" stroke="#10457e"/><path d="M136.6 84.0 L138.5 85.0 L142.0 83.9 L140.1 82.9 Z" fill="#3f8ec0" stroke="#3f8ec0"/><path d="M83.4 210.1 L85.3 210.6 L88.7 194.4 L86.8 193.8 Z" fill="#8d0c25" stroke="#8d0c25"/><path d="M155.4 87.8 L157.4 88.3 L160.9 87.4 L158.9 87.0 Z" fill="#4c99c6" stroke="#4c99c6"/><path d="M216.4 126.5 L218.4 127.3 L221.7 125.2 L219.8 124.4 Z" fill="#e7f0f4" stroke="#e7f0f4"/><path d="M125.1 73.9 L127.0 75.7 L130.6 74.9 L128.7 72.8 Z" fill="#2a71b2" stroke="#2a71b2"/><path d="M109.8 61.9 L111.7 63.7 L115.3 61.4 L113.4 60.3 Z" fill="#124984" stroke="#124984"/><path d="M172.4 89.9 L174.3 90.3 L177.7 89.7 L175.8 89.2 Z" fill="#59a1ca" stroke="#59a1ca"/><path d="M111.7 63.7 L113.6 65.2 L117.2 62.8 L115.3 61.4 Z" fill="#144e8a" stroke="#144e8a"/><path d="M123.2 72.7 L125.1 73.9 L128.7 72.8 L126.8 70.8 Z" fill="#266caf" stroke="#266caf"/><path d="M113.6 65.2 L115.5 66.6 L119.1 64.1 L117.2 62.8 Z" fill="#175290" stroke="#175290"/><path d="M193.5 106.1 L195.4 109.2 L198.7 107.2 L196.9 104.3 Z" fill="#a7d0e4" stroke="#a7d0e4"/><path d="M233.4 128.6 L235.3 129.1 L238.6 126.9 L236.7 126.5 Z" fill="#eaf1f5" stroke="#eaf1f5"/><path d="M121.3 71.1 L123.2 72.7 L126.8 70.8 L124.9 68.7 Z" fill="#2267ac" stroke="#2267ac"/><path d="M138.5 85.0 L140.4 85.8 L144.0 84.7 L142.0 83.9 Z" fill="#408fc1" stroke="#408fc1"/><path d="M115.5 66.6 L117.4 67.9 L121.0 65.5 L119.1 64.1 Z" fill="#195696" stroke="#195696"/><path d="M94.7 61.1 L96.6 61.3 L100.3 60.0 L98.4 59.8 Z" fill="#10457e" stroke="#10457e"/><path d="M119.3 69.4 L121.3 71.1 L124.9 68.7 L122.9 66.9 Z" fill="#1e61a5" stroke="#1e61a5"/><path d="M117.4 67.9 L119.3 69.4 L122.9 66.9 L121.0 65.5 Z" fill="#1c5c9f" stroke="#1c5c9f"/><path d="M68.5 63.4 L70.4 63.7 L74.1 60.7 L72.2 60.4 Z" fill="#124984" stroke="#124984"/><path d="M218.4 127.3 L220.3 128.1 L223.6 126.0 L221.7 125.2 Z" fill="#e7f0f4" stroke="#e7f0f4"/><path d="M85.3 210.6 L87.2 211.1 L90.5 194.8 L88.7 194.4 Z" fill="#8d0c25" stroke="#8d0c25"/><path d="M81.6 62.0 L83.5 62.3 L87.2 60.1 L85.3 59.9 Z" fill="#10457e" stroke="#10457e"/><path d="M81.4 204.7 L83.4 210.1 L86.8 193.8 L84.8 189.3 Z" fill="#9f1228" stroke="#9f1228"/><path d="M157.4 88.3 L159.3 88.7 L162.8 87.8 L160.9 87.4 Z" fill="#4c99c6" stroke="#4c99c6"/><path d="M174.3 90.3 L176.2 90.8 L179.7 90.1 L177.7 89.7 Z" fill="#59a1ca" stroke="#59a1ca"/><path d="M140.4 85.8 L142.3 86.5 L145.9 85.3 L144.0 84.7 Z" fill="#4291c2" stroke="#4291c2"/><path d="M235.3 129.1 L237.3 129.5 L240.6 127.4 L238.6 126.9 Z" fill="#ecf2f5" stroke="#ecf2f5"/><path d="M220.3 128.1 L222.2 128.7 L225.6 126.6 L223.6 126.0 Z" fill="#e9f0f4" stroke="#e9f0f4"/><path d="M191.6 103.1 L193.5 106.1 L196.9 104.3 L195.0 101.5 Z" fill="#98c8e0" stroke="#98c8e0"/><path d="M96.6 61.3 L98.5 61.6 L102.2 60.2 L100.3 60.0 Z" fill="#0f437b" stroke="#0f437b"/><path d="M70.4 63.7 L72.3 64.0 L76.0 61.1 L74.1 60.7 Z" fill="#124984" stroke="#124984"/><path d="M87.2 211.1 L89.1 211.5 L92.4 195.3 L90.5 194.8 Z" fill="#8d0c25" stroke="#8d0c25"/><path d="M83.5 62.3 L85.4 62.5 L89.1 60.4 L87.2 60.1 Z" fill="#10457e" stroke="#10457e"/><path d="M142.3 86.5 L144.2 87.1 L147.8 85.9 L145.9 85.3 Z" fill="#4393c3" stroke="#4393c3"/><path d="M176.2 90.8 L178.2 91.4 L181.6 90.7 L179.7 90.1 Z" fill="#59a1ca" stroke="#59a1ca"/><path d="M159.3 88.7 L161.2 89.1 L164.7 88.2 L162.8 87.8 Z" fill="#4c99c6" stroke="#4c99c6"/><path d="M237.3 129.5 L239.2 130.0 L242.5 127.9 L240.6 127.4 Z" fill="#ecf2f5" stroke="#ecf2f5"/><path d="M197.6 119.8 L199.5 121.3 L202.9 119.0 L201.0 117.5 Z" fill="#d5e7f1" stroke="#d5e7f1"/><path d="M195.7 118.2 L197.6 119.8 L201.0 117.5 L199.1 115.8 Z" fill="#d1e5f0" stroke="#d1e5f0"/><path d="M222.2 128.7 L224.2 129.2 L227.5 127.1 L225.6 126.6 Z" fill="#e9f0f4" stroke="#e9f0f4"/><path d="M199.5 121.3 L201.5 122.5 L204.9 120.3 L202.9 119.0 Z" fill="#d8e9f1" stroke="#d8e9f1"/><path d="M189.7 100.3 L191.6 103.1 L195.0 101.5 L193.1 98.8 Z" fill="#8ac0db" stroke="#8ac0db"/><path d="M201.5 122.5 L203.4 123.7 L206.8 121.5 L204.9 120.3 Z" fill="#dbeaf2" stroke="#dbeaf2"/><path d="M72.3 64.0 L74.2 64.3 L77.9 61.4 L76.0 61.1 Z" fill="#124984" stroke="#124984"/><path d="M98.5 61.6 L100.4 61.8 L104.1 60.4 L102.2 60.2 Z" fill="#0f437b" stroke="#0f437b"/><path d="M144.2 87.1 L146.2 87.6 L149.7 86.4 L147.8 85.9 Z" fill="#4393c3" stroke="#4393c3"/><path d="M178.2 91.4 L180.1 92.0 L183.5 91.3 L181.6 90.7 Z" fill="#59a1ca" stroke="#59a1ca"/><path d="M89.1 211.5 L91.0 211.9 L94.3 195.7 L92.4 195.3 Z" fill="#8d0c25" stroke="#8d0c25"/><path d="M161.2 89.1 L163.1 89.5 L166.6 88.6 L164.7 88.2 Z" fill="#4c99c6" stroke="#4c99c6"/><path d="M85.4 62.5 L87.3 62.8 L91.0 60.6 L89.1 60.4 Z" fill="#10457e" stroke="#10457e"/><path d="M193.8 114.7 L195.7 118.2 L199.1 115.8 L197.2 112.6 Z" fill="#c5dfec" stroke="#c5dfec"/><path d="M203.4 123.7 L205.3 124.8 L208.7 122.6 L206.8 121.5 Z" fill="#ddebf2" stroke="#ddebf2"/><path d="M61.1 66.3 L62.9 66.7 L66.7 63.0 L64.8 62.6 Z" fill="#15508d" stroke="#15508d"/><path d="M224.2 129.2 L226.1 129.7 L229.5 127.6 L227.5 127.1 Z" fill="#eaf1f5" stroke="#eaf1f5"/><path d="M205.3 124.8 L207.3 125.9 L210.6 123.7 L208.7 122.6 Z" fill="#e0ecf3" stroke="#e0ecf3"/><path d="M180.1 92.0 L182.0 92.8 L185.5 92.1 L183.5 91.3 Z" fill="#5ca3cb" stroke="#5ca3cb"/><path d="M187.8 97.5 L189.7 100.3 L193.1 98.8 L191.2 96.3 Z" fill="#7bb6d6" stroke="#7bb6d6"/><path d="M146.2 87.6 L148.1 88.1 L151.6 86.9 L149.7 86.4 Z" fill="#4393c3" stroke="#4393c3"/><path d="M74.2 64.3 L76.0 64.6 L79.7 61.7 L77.9 61.4 Z" fill="#124984" stroke="#124984"/><path d="M91.0 211.9 L92.8 212.4 L96.2 196.1 L94.3 195.7 Z" fill="#8d0c25" stroke="#8d0c25"/><path d="M100.4 61.8 L102.3 62.0 L106.0 60.6 L104.1 60.4 Z" fill="#0f437b" stroke="#0f437b"/><path d="M163.1 89.5 L165.1 89.9 L168.5 89.0 L166.6 88.6 Z" fill="#4c99c6" stroke="#4c99c6"/><path d="M207.3 125.9 L209.2 126.9 L212.5 124.7 L210.6 123.7 Z" fill="#e1edf3" stroke="#e1edf3"/><path d="M182.0 92.8 L184.0 93.9 L187.4 93.1 L185.5 92.1 Z" fill="#5fa5cd" stroke="#5fa5cd"/><path d="M87.3 62.8 L89.2 63.0 L92.9 60.9 L91.0 60.6 Z" fill="#10457e" stroke="#10457e"/><path d="M226.1 129.7 L228.1 130.2 L231.4 128.1 L229.5 127.6 Z" fill="#eaf1f5" stroke="#eaf1f5"/><path d="M62.9 66.7 L64.8 67.0 L68.5 63.4 L66.7 63.0 Z" fill="#15508d" stroke="#15508d"/><path d="M185.9 95.4 L187.8 97.5 L191.2 96.3 L189.3 94.4 Z" fill="#6eaed2" stroke="#6eaed2"/><path d="M184.0 93.9 L185.9 95.4 L189.3 94.4 L187.4 93.1 Z" fill="#65a9cf" stroke="#65a9cf"/><path d="M209.2 126.9 L211.1 127.7 L214.5 125.6 L212.5 124.7 Z" fill="#e3edf3" stroke="#e3edf3"/><path d="M148.1 88.1 L150.0 88.6 L153.5 87.4 L151.6 86.9 Z" fill="#4695c4" stroke="#4695c4"/><path d="M191.9 111.2 L193.8 114.7 L197.2 112.6 L195.4 109.2 Z" fill="#b6d7e8" stroke="#b6d7e8"/><path d="M92.8 212.4 L94.7 212.8 L98.1 196.6 L96.2 196.1 Z" fill="#8d0c25" stroke="#8d0c25"/><path d="M76.0 64.6 L77.9 64.9 L81.6 62.0 L79.7 61.7 Z" fill="#114781" stroke="#114781"/><path d="M165.1 89.9 L167.0 90.3 L170.5 89.5 L168.5 89.0 Z" fill="#4f9bc7" stroke="#4f9bc7"/><path d="M102.3 62.0 L104.2 62.2 L107.9 60.8 L106.0 60.6 Z" fill="#0e4179" stroke="#0e4179"/><path d="M211.1 127.7 L213.1 128.6 L216.4 126.5 L214.5 125.6 Z" fill="#e4eef4" stroke="#e4eef4"/><path d="M228.1 130.2 L230.1 130.7 L233.4 128.6 L231.4 128.1 Z" fill="#eaf1f5" stroke="#eaf1f5"/><path d="M79.3 196.6 L81.4 204.7 L84.8 189.3 L82.7 182.2 Z" fill="#bb2a34" stroke="#bb2a34"/><path d="M64.8 67.0 L66.7 67.3 L70.4 63.7 L68.5 63.4 Z" fill="#15508d" stroke="#15508d"/><path d="M89.2 63.0 L91.1 63.2 L94.7 61.1 L92.9 60.9 Z" fill="#0f437b" stroke="#0f437b"/><path d="M129.2 82.9 L131.1 84.4 L134.7 82.8 L132.8 81.4 Z" fill="#3885bc" stroke="#3885bc"/><path d="M108.0 66.0 L110.0 67.6 L113.6 65.2 L111.7 63.7 Z" fill="#15508d" stroke="#15508d"/><path d="M127.2 81.1 L129.2 82.9 L132.8 81.4 L130.8 79.7 Z" fill="#3480b9" stroke="#3480b9"/><path d="M150.0 88.6 L151.9 89.0 L155.4 87.8 L153.5 87.4 Z" fill="#4695c4" stroke="#4695c4"/><path d="M110.0 67.6 L111.9 69.0 L115.5 66.6 L113.6 65.2 Z" fill="#185493" stroke="#185493"/><path d="M131.1 84.4 L133.0 85.7 L136.6 84.0 L134.7 82.8 Z" fill="#3b88be" stroke="#3b88be"/><path d="M106.1 63.7 L108.0 66.0 L111.7 63.7 L109.8 61.9 Z" fill="#124984" stroke="#124984"/><path d="M111.9 69.0 L113.8 70.4 L117.4 67.9 L115.5 66.6 Z" fill="#1a5899" stroke="#1a5899"/><path d="M213.1 128.6 L215.0 129.4 L218.4 127.3 L216.4 126.5 Z" fill="#e6eff4" stroke="#e6eff4"/><path d="M125.3 79.1 L127.2 81.1 L130.8 79.7 L128.9 77.8 Z" fill="#307ab6" stroke="#307ab6"/><path d="M104.2 62.2 L106.1 63.7 L109.8 61.9 L107.9 60.8 Z" fill="#0f437b" stroke="#0f437b"/><path d="M113.8 70.4 L115.7 71.9 L119.3 69.4 L117.4 67.9 Z" fill="#1d5fa2" stroke="#1d5fa2"/><path d="M115.7 71.9 L117.6 73.4 L121.3 71.1 L119.3 69.4 Z" fill="#1f63a8" stroke="#1f63a8"/><path d="M94.7 212.8 L96.6 213.2 L100.0 197.0 L98.1 196.6 Z" fill="#8d0c25" stroke="#8d0c25"/><path d="M167.0 90.3 L168.9 90.8 L172.4 89.9 L170.5 89.5 Z" fill="#4f9bc7" stroke="#4f9bc7"/><path d="M117.6 73.4 L119.6 74.7 L123.2 72.7 L121.3 71.1 Z" fill="#2369ad" stroke="#2369ad"/><path d="M77.9 64.9 L79.8 65.2 L83.5 62.3 L81.6 62.0 Z" fill="#114781" stroke="#114781"/><path d="M230.1 130.7 L232.0 131.2 L235.3 129.1 L233.4 128.6 Z" fill="#eaf1f5" stroke="#eaf1f5"/><path d="M133.0 85.7 L134.9 86.7 L138.5 85.0 L136.6 84.0 Z" fill="#3e8cbf" stroke="#3e8cbf"/><path d="M123.4 77.0 L125.3 79.1 L128.9 77.8 L127.0 75.7 Z" fill="#2c75b4" stroke="#2c75b4"/><path d="M190.1 107.9 L191.9 111.2 L195.4 109.2 L193.5 106.1 Z" fill="#a7d0e4" stroke="#a7d0e4"/><path d="M119.6 74.7 L121.5 75.4 L125.1 73.9 L123.2 72.7 Z" fill="#266caf" stroke="#266caf"/><path d="M66.7 67.3 L68.6 67.6 L72.3 64.0 L70.4 63.7 Z" fill="#15508d" stroke="#15508d"/><path d="M91.1 63.2 L92.9 63.5 L96.6 61.3 L94.7 61.1 Z" fill="#0f437b" stroke="#0f437b"/><path d="M121.5 75.4 L123.4 77.0 L127.0 75.7 L125.1 73.9 Z" fill="#2870b1" stroke="#2870b1"/><path d="M215.0 129.4 L216.9 130.2 L220.3 128.1 L218.4 127.3 Z" fill="#e7f0f4" stroke="#e7f0f4"/><path d="M151.9 89.0 L153.8 89.5 L157.4 88.3 L155.4 87.8 Z" fill="#4695c4" stroke="#4695c4"/><path d="M134.9 86.7 L136.8 87.5 L140.4 85.8 L138.5 85.0 Z" fill="#3f8ec0" stroke="#3f8ec0"/><path d="M86.8 193.8 L88.7 194.4 L92.0 178.1 L90.1 177.4 Z" fill="#ce4f45" stroke="#ce4f45"/><path d="M168.9 90.8 L170.9 91.2 L174.3 90.3 L172.4 89.9 Z" fill="#4f9bc7" stroke="#4f9bc7"/><path d="M96.6 213.2 L98.5 213.7 L101.9 197.4 L100.0 197.0 Z" fill="#8d0c25" stroke="#8d0c25"/><path d="M232.0 131.2 L234.0 131.7 L237.3 129.5 L235.3 129.1 Z" fill="#ecf2f5" stroke="#ecf2f5"/><path d="M79.8 65.2 L81.7 65.4 L85.4 62.5 L83.5 62.3 Z" fill="#114781" stroke="#114781"/><path d="M216.9 130.2 L218.9 130.8 L222.2 128.7 L220.3 128.1 Z" fill="#e9f0f4" stroke="#e9f0f4"/><path d="M57.4 70.4 L59.2 70.7 L62.9 66.7 L61.1 66.3 Z" fill="#1a5899" stroke="#1a5899"/><path d="M136.8 87.5 L138.8 88.2 L142.3 86.5 L140.4 85.8 Z" fill="#408fc1" stroke="#408fc1"/><path d="M68.6 67.6 L70.5 67.9 L74.2 64.3 L72.3 64.0 Z" fill="#144e8a" stroke="#144e8a"/><path d="M84.8 189.3 L86.8 193.8 L90.1 177.4 L88.1 173.8 Z" fill="#d35a4a" stroke="#d35a4a"/><path d="M188.2 104.9 L190.1 107.9 L193.5 106.1 L191.6 103.1 Z" fill="#98c8e0" stroke="#98c8e0"/><path d="M92.9 63.5 L94.8 63.7 L98.5 61.6 L96.6 61.3 Z" fill="#0f437b" stroke="#0f437b"/><path d="M153.8 89.5 L155.8 89.9 L159.3 88.7 L157.4 88.3 Z" fill="#4695c4" stroke="#4695c4"/><path d="M88.7 194.4 L90.5 194.8 L93.9 178.5 L92.0 178.1 Z" fill="#cc4c44" stroke="#cc4c44"/><path d="M192.3 120.5 L194.2 122.2 L197.6 119.8 L195.7 118.2 Z" fill="#d1e5f0" stroke="#d1e5f0"/><path d="M194.2 122.2 L196.1 123.6 L199.5 121.3 L197.6 119.8 Z" fill="#d5e7f1" stroke="#d5e7f1"/><path d="M170.9 91.2 L172.8 91.7 L176.2 90.8 L174.3 90.3 Z" fill="#4f9bc7" stroke="#4f9bc7"/><path d="M98.5 213.7 L100.4 214.1 L103.8 197.8 L101.9 197.4 Z" fill="#8d0c25" stroke="#8d0c25"/><path d="M234.0 131.7 L235.9 132.2 L239.2 130.0 L237.3 129.5 Z" fill="#ecf2f5" stroke="#ecf2f5"/><path d="M196.1 123.6 L198.1 124.8 L201.5 122.5 L199.5 121.3 Z" fill="#d8e9f1" stroke="#d8e9f1"/><path d="M218.9 130.8 L220.9 131.3 L224.2 129.2 L222.2 128.7 Z" fill="#e9f0f4" stroke="#e9f0f4"/><path d="M138.8 88.2 L140.7 88.8 L144.2 87.1 L142.3 86.5 Z" fill="#408fc1" stroke="#408fc1"/><path d="M81.7 65.4 L83.6 65.7 L87.3 62.8 L85.4 62.5 Z" fill="#114781" stroke="#114781"/><path d="M59.2 70.7 L61.1 71.0 L64.8 67.0 L62.9 66.7 Z" fill="#1a5899" stroke="#1a5899"/><path d="M198.1 124.8 L200.0 125.9 L203.4 123.7 L201.5 122.5 Z" fill="#dbeaf2" stroke="#dbeaf2"/><path d="M70.5 67.9 L72.3 68.2 L76.0 64.6 L74.2 64.3 Z" fill="#144e8a" stroke="#144e8a"/><path d="M155.8 89.9 L157.7 90.3 L161.2 89.1 L159.3 88.7 Z" fill="#4695c4" stroke="#4695c4"/><path d="M90.5 194.8 L92.4 195.3 L95.8 179.0 L93.9 178.5 Z" fill="#cc4c44" stroke="#cc4c44"/><path d="M94.8 63.7 L96.7 63.9 L100.4 61.8 L98.5 61.6 Z" fill="#0e4179" stroke="#0e4179"/><path d="M190.4 116.9 L192.3 120.5 L195.7 118.2 L193.8 114.7 Z" fill="#c7e0ed" stroke="#c7e0ed"/><path d="M172.8 91.7 L174.7 92.2 L178.2 91.4 L176.2 90.8 Z" fill="#4f9bc7" stroke="#4f9bc7"/><path d="M186.3 101.8 L188.2 104.9 L191.6 103.1 L189.7 100.3 Z" fill="#87beda" stroke="#87beda"/><path d="M200.0 125.9 L201.9 127.0 L205.3 124.8 L203.4 123.7 Z" fill="#ddebf2" stroke="#ddebf2"/><path d="M100.4 214.1 L102.3 214.5 L105.7 198.3 L103.8 197.8 Z" fill="#8d0c25" stroke="#8d0c25"/><path d="M220.9 131.3 L222.8 131.8 L226.1 129.7 L224.2 129.2 Z" fill="#eaf1f5" stroke="#eaf1f5"/><path d="M140.7 88.8 L142.6 89.4 L146.2 87.6 L144.2 87.1 Z" fill="#4291c2" stroke="#4291c2"/><path d="M201.9 127.0 L203.9 128.1 L207.3 125.9 L205.3 124.8 Z" fill="#e0ecf3" stroke="#e0ecf3"/><path d="M83.6 65.7 L85.5 65.9 L89.2 63.0 L87.3 62.8 Z" fill="#114781" stroke="#114781"/><path d="M61.1 71.0 L63.0 71.3 L66.7 67.3 L64.8 67.0 Z" fill="#195696" stroke="#195696"/><path d="M157.7 90.3 L159.6 90.7 L163.1 89.5 L161.2 89.1 Z" fill="#4695c4" stroke="#4695c4"/><path d="M72.3 68.2 L74.2 68.5 L77.9 64.9 L76.0 64.6 Z" fill="#144e8a" stroke="#144e8a"/><path d="M174.7 92.2 L176.7 92.9 L180.1 92.0 L178.2 91.4 Z" fill="#529dc8" stroke="#529dc8"/><path d="M92.4 195.3 L94.3 195.7 L97.7 179.4 L95.8 179.0 Z" fill="#cc4c44" stroke="#cc4c44"/><path d="M203.9 128.1 L205.8 129.0 L209.2 126.9 L207.3 125.9 Z" fill="#e1edf3" stroke="#e1edf3"/><path d="M96.7 63.9 L98.6 64.1 L102.3 62.0 L100.4 61.8 Z" fill="#0e4179" stroke="#0e4179"/><path d="M142.6 89.4 L144.5 89.9 L148.1 88.1 L146.2 87.6 Z" fill="#4291c2" stroke="#4291c2"/><path d="M184.4 98.8 L186.3 101.8 L189.7 100.3 L187.8 97.5 Z" fill="#78b4d5" stroke="#78b4d5"/><path d="M222.8 131.8 L224.8 132.3 L228.1 130.2 L226.1 129.7 Z" fill="#eaf1f5" stroke="#eaf1f5"/><path d="M102.3 214.5 L104.2 215.0 L107.6 198.7 L105.7 198.3 Z" fill="#8d0c25" stroke="#8d0c25"/><path d="M205.8 129.0 L207.7 129.9 L211.1 127.7 L209.2 126.9 Z" fill="#e3edf3" stroke="#e3edf3"/><path d="M176.7 92.9 L178.6 93.7 L182.0 92.8 L180.1 92.0 Z" fill="#529dc8" stroke="#529dc8"/><path d="M188.5 113.2 L190.4 116.9 L193.8 114.7 L191.9 111.2 Z" fill="#b6d7e8" stroke="#b6d7e8"/><path d="M63.0 71.3 L64.9 71.6 L68.6 67.6 L66.7 67.3 Z" fill="#195696" stroke="#195696"/><path d="M85.5 65.9 L87.4 66.2 L91.1 63.2 L89.2 63.0 Z" fill="#10457e" stroke="#10457e"/><path d="M159.6 90.7 L161.6 91.1 L165.1 89.9 L163.1 89.5 Z" fill="#4695c4" stroke="#4695c4"/><path d="M94.3 195.7 L96.2 196.1 L99.6 179.8 L97.7 179.4 Z" fill="#cc4c44" stroke="#cc4c44"/><path d="M74.2 68.5 L76.1 68.7 L79.8 65.2 L77.9 64.9 Z" fill="#144e8a" stroke="#144e8a"/><path d="M82.7 182.2 L84.8 189.3 L88.1 173.8 L86.1 167.7 Z" fill="#e17860" stroke="#e17860"/><path d="M182.4 96.5 L184.4 98.8 L187.8 97.5 L185.9 95.4 Z" fill="#68abd0" stroke="#68abd0"/><path d="M178.6 93.7 L180.5 94.9 L184.0 93.9 L182.0 92.8 Z" fill="#59a1ca" stroke="#59a1ca"/><path d="M144.5 89.9 L146.4 90.3 L150.0 88.6 L148.1 88.1 Z" fill="#4291c2" stroke="#4291c2"/><path d="M207.7 129.9 L209.7 130.7 L213.1 128.6 L211.1 127.7 Z" fill="#e4eef4" stroke="#e4eef4"/><path d="M224.8 132.3 L226.7 132.9 L230.1 130.7 L228.1 130.2 Z" fill="#eaf1f5" stroke="#eaf1f5"/><path d="M104.4 68.4 L106.3 70.1 L110.0 67.6 L108.0 66.0 Z" fill="#175290" stroke="#175290"/><path d="M106.3 70.1 L108.2 71.5 L111.9 69.0 L110.0 67.6 Z" fill="#195696" stroke="#195696"/><path d="M98.6 64.1 L100.5 64.3 L104.2 62.2 L102.3 62.0 Z" fill="#0e4179" stroke="#0e4179"/><path d="M180.5 94.9 L182.4 96.5 L185.9 95.4 L184.0 93.9 Z" fill="#5fa5cd" stroke="#5fa5cd"/><path d="M108.2 71.5 L110.2 72.9 L113.8 70.4 L111.9 69.0 Z" fill="#1b5a9c" stroke="#1b5a9c"/><path d="M104.2 215.0 L106.1 215.4 L109.5 199.1 L107.6 198.7 Z" fill="#8d0c25" stroke="#8d0c25"/><path d="M110.2 72.9 L112.1 74.4 L115.7 71.9 L113.8 70.4 Z" fill="#1e61a5" stroke="#1e61a5"/><path d="M53.6 74.6 L55.5 74.8 L59.2 70.7 L57.4 70.4 Z" fill="#1e61a5" stroke="#1e61a5"/><path d="M112.1 74.4 L114.0 75.8 L117.6 73.4 L115.7 71.9 Z" fill="#2065ab" stroke="#2065ab"/><path d="M102.5 65.9 L104.4 68.4 L108.0 66.0 L106.1 63.7 Z" fill="#124984" stroke="#124984"/><path d="M125.6 85.2 L127.5 86.8 L131.1 84.4 L129.2 82.9 Z" fill="#3885bc" stroke="#3885bc"/><path d="M123.6 83.3 L125.6 85.2 L129.2 82.9 L127.2 81.1 Z" fill="#3480b9" stroke="#3480b9"/><path d="M114.0 75.8 L115.9 77.0 L119.6 74.7 L117.6 73.4 Z" fill="#2369ad" stroke="#2369ad"/><path d="M127.5 86.8 L129.4 88.1 L133.0 85.7 L131.1 84.4 Z" fill="#3b88be" stroke="#3b88be"/><path d="M209.7 130.7 L211.6 131.6 L215.0 129.4 L213.1 128.6 Z" fill="#e6eff4" stroke="#e6eff4"/><path d="M161.6 91.1 L163.5 91.6 L167.0 90.3 L165.1 89.9 Z" fill="#4695c4" stroke="#4695c4"/><path d="M64.9 71.6 L66.8 71.9 L70.5 67.9 L68.6 67.6 Z" fill="#195696" stroke="#195696"/><path d="M100.5 64.3 L102.5 65.9 L106.1 63.7 L104.2 62.2 Z" fill="#0f437b" stroke="#0f437b"/><path d="M87.4 66.2 L89.3 66.4 L92.9 63.5 L91.1 63.2 Z" fill="#10457e" stroke="#10457e"/><path d="M96.2 196.1 L98.1 196.6 L101.5 180.2 L99.6 179.8 Z" fill="#cc4c44" stroke="#cc4c44"/><path d="M121.7 81.1 L123.6 83.3 L127.2 81.1 L125.3 79.1 Z" fill="#307ab6" stroke="#307ab6"/><path d="M76.1 68.7 L78.0 69.0 L81.7 65.4 L79.8 65.2 Z" fill="#144e8a" stroke="#144e8a"/><path d="M146.4 90.3 L148.4 90.8 L151.9 89.0 L150.0 88.6 Z" fill="#4291c2" stroke="#4291c2"/><path d="M226.7 132.9 L228.7 133.4 L232.0 131.2 L230.1 130.7 Z" fill="#eaf1f5" stroke="#eaf1f5"/><path d="M129.4 88.1 L131.3 89.1 L134.9 86.7 L133.0 85.7 Z" fill="#3e8cbf" stroke="#3e8cbf"/><path d="M115.9 77.0 L117.8 77.4 L121.5 75.4 L119.6 74.7 Z" fill="#246aae" stroke="#246aae"/><path d="M186.6 109.9 L188.5 113.2 L191.9 111.2 L190.1 107.9 Z" fill="#a5cee3" stroke="#a5cee3"/><path d="M106.1 215.4 L108.0 215.8 L111.4 199.6 L109.5 199.1 Z" fill="#8d0c25" stroke="#8d0c25"/><path d="M211.6 131.6 L213.6 132.3 L216.9 130.2 L215.0 129.4 Z" fill="#e7f0f4" stroke="#e7f0f4"/><path d="M119.8 78.9 L121.7 81.1 L125.3 79.1 L123.4 77.0 Z" fill="#2b73b3" stroke="#2b73b3"/><path d="M55.5 74.8 L57.4 75.1 L61.1 71.0 L59.2 70.7 Z" fill="#1e61a5" stroke="#1e61a5"/><path d="M131.3 89.1 L133.3 89.9 L136.8 87.5 L134.9 86.7 Z" fill="#3f8ec0" stroke="#3f8ec0"/><path d="M117.8 77.4 L119.8 78.9 L123.4 77.0 L121.5 75.4 Z" fill="#276eb0" stroke="#276eb0"/><path d="M163.5 91.6 L165.4 92.0 L168.9 90.8 L167.0 90.3 Z" fill="#4695c4" stroke="#4695c4"/><path d="M66.8 71.9 L68.6 72.1 L72.3 68.2 L70.5 67.9 Z" fill="#195696" stroke="#195696"/><path d="M98.1 196.6 L100.0 197.0 L103.4 180.6 L101.5 180.2 Z" fill="#cc4c44" stroke="#cc4c44"/><path d="M228.7 133.4 L230.7 133.9 L234.0 131.7 L232.0 131.2 Z" fill="#eaf1f5" stroke="#eaf1f5"/><path d="M148.4 90.8 L150.3 91.2 L153.8 89.5 L151.9 89.0 Z" fill="#4393c3" stroke="#4393c3"/><path d="M89.3 66.4 L91.2 66.6 L94.8 63.7 L92.9 63.5 Z" fill="#10457e" stroke="#10457e"/><path d="M78.0 69.0 L79.9 69.2 L83.6 65.7 L81.7 65.4 Z" fill="#134c87" stroke="#134c87"/><path d="M213.6 132.3 L215.5 132.9 L218.9 130.8 L216.9 130.2 Z" fill="#e9f0f4" stroke="#e9f0f4"/><path d="M133.3 89.9 L135.2 90.6 L138.8 88.2 L136.8 87.5 Z" fill="#408fc1" stroke="#408fc1"/><path d="M108.0 215.8 L109.9 216.3 L113.3 200.0 L111.4 199.6 Z" fill="#8d0c25" stroke="#8d0c25"/><path d="M188.8 122.9 L190.8 124.5 L194.2 122.2 L192.3 120.5 Z" fill="#d2e6f0" stroke="#d2e6f0"/><path d="M57.4 75.1 L59.3 75.4 L63.0 71.3 L61.1 71.0 Z" fill="#1e61a5" stroke="#1e61a5"/><path d="M190.8 124.5 L192.7 125.9 L196.1 123.6 L194.2 122.2 Z" fill="#d5e7f1" stroke="#d5e7f1"/><path d="M165.4 92.0 L167.4 92.4 L170.9 91.2 L168.9 90.8 Z" fill="#4997c5" stroke="#4997c5"/><path d="M184.7 106.7 L186.6 109.9 L190.1 107.9 L188.2 104.9 Z" fill="#96c7df" stroke="#96c7df"/><path d="M77.0 181.2 L79.3 196.6 L82.7 182.2 L80.4 169.0 Z" fill="#db6b55" stroke="#db6b55"/><path d="M90.1 177.4 L92.0 178.1 L95.4 161.7 L93.5 160.9 Z" fill="#f3a481" stroke="#f3a481"/><path d="M192.7 125.9 L194.6 127.0 L198.1 124.8 L196.1 123.6 Z" fill="#d8e9f1" stroke="#d8e9f1"/><path d="M230.7 133.9 L232.6 134.3 L235.9 132.2 L234.0 131.7 Z" fill="#ecf2f5" stroke="#ecf2f5"/><path d="M100.0 197.0 L101.9 197.4 L105.3 181.1 L103.4 180.6 Z" fill="#cc4c44" stroke="#cc4c44"/><path d="M150.3 91.2 L152.2 91.6 L155.8 89.9 L153.8 89.5 Z" fill="#4393c3" stroke="#4393c3"/><path d="M68.6 72.1 L70.5 72.4 L74.2 68.5 L72.3 68.2 Z" fill="#195696" stroke="#195696"/><path d="M215.5 132.9 L217.5 133.5 L220.9 131.3 L218.9 130.8 Z" fill="#e9f0f4" stroke="#e9f0f4"/><path d="M88.1 173.8 L90.1 177.4 L93.5 160.9 L91.5 158.2 Z" fill="#f5aa89" stroke="#f5aa89"/><path d="M135.2 90.6 L137.1 91.2 L140.7 88.8 L138.8 88.2 Z" fill="#408fc1" stroke="#408fc1"/><path d="M91.2 66.6 L93.0 66.8 L96.7 63.9 L94.8 63.7 Z" fill="#0f437b" stroke="#0f437b"/><path d="M194.6 127.0 L196.6 128.1 L200.0 125.9 L198.1 124.8 Z" fill="#dbeaf2" stroke="#dbeaf2"/><path d="M79.9 69.2 L81.8 69.4 L85.5 65.9 L83.6 65.7 Z" fill="#134c87" stroke="#134c87"/><path d="M109.9 216.3 L111.8 216.7 L115.3 200.4 L113.3 200.0 Z" fill="#8d0c25" stroke="#8d0c25"/><path d="M187.0 119.1 L188.8 122.9 L192.3 120.5 L190.4 116.9 Z" fill="#c7e0ed" stroke="#c7e0ed"/><path d="M92.0 178.1 L93.9 178.5 L97.3 162.1 L95.4 161.7 Z" fill="#f3a481" stroke="#f3a481"/><path d="M167.4 92.4 L169.3 92.9 L172.8 91.7 L170.9 91.2 Z" fill="#4997c5" stroke="#4997c5"/><path d="M196.6 128.1 L198.5 129.2 L201.9 127.0 L200.0 125.9 Z" fill="#ddebf2" stroke="#ddebf2"/><path d="M59.3 75.4 L61.2 75.6 L64.9 71.6 L63.0 71.3 Z" fill="#1e61a5" stroke="#1e61a5"/><path d="M137.1 91.2 L139.0 91.8 L142.6 89.4 L140.7 88.8 Z" fill="#4291c2" stroke="#4291c2"/><path d="M217.5 133.5 L219.5 134.0 L222.8 131.8 L220.9 131.3 Z" fill="#e9f0f4" stroke="#e9f0f4"/><path d="M152.2 91.6 L154.2 92.0 L157.7 90.3 L155.8 89.9 Z" fill="#4393c3" stroke="#4393c3"/><path d="M101.9 197.4 L103.8 197.8 L107.2 181.5 L105.3 181.1 Z" fill="#cc4c44" stroke="#cc4c44"/><path d="M182.8 103.5 L184.7 106.7 L188.2 104.9 L186.3 101.8 Z" fill="#84bcd9" stroke="#84bcd9"/><path d="M198.5 129.2 L200.5 130.2 L203.9 128.1 L201.9 127.0 Z" fill="#e0ecf3" stroke="#e0ecf3"/><path d="M70.5 72.4 L72.4 72.6 L76.1 68.7 L74.2 68.5 Z" fill="#185493" stroke="#185493"/><path d="M93.0 66.8 L94.9 67.0 L98.6 64.1 L96.7 63.9 Z" fill="#0f437b" stroke="#0f437b"/><path d="M111.8 216.7 L113.7 217.1 L117.2 200.8 L115.3 200.4 Z" fill="#8d0c25" stroke="#8d0c25"/><path d="M49.9 78.5 L51.8 78.7 L55.5 74.8 L53.6 74.6 Z" fill="#2369ad" stroke="#2369ad"/><path d="M81.8 69.4 L83.7 69.6 L87.4 66.2 L85.5 65.9 Z" fill="#134c87" stroke="#134c87"/><path d="M169.3 92.9 L171.2 93.4 L174.7 92.2 L172.8 91.7 Z" fill="#4997c5" stroke="#4997c5"/><path d="M200.5 130.2 L202.4 131.2 L205.8 129.0 L203.9 128.1 Z" fill="#e1edf3" stroke="#e1edf3"/><path d="M93.9 178.5 L95.8 179.0 L99.2 162.5 L97.3 162.1 Z" fill="#f3a481" stroke="#f3a481"/><path d="M139.0 91.8 L141.0 92.3 L144.5 89.9 L142.6 89.4 Z" fill="#4291c2" stroke="#4291c2"/><path d="M61.2 75.6 L63.0 75.8 L66.8 71.9 L64.9 71.6 Z" fill="#1d5fa2" stroke="#1d5fa2"/><path d="M219.5 134.0 L221.4 134.5 L224.8 132.3 L222.8 131.8 Z" fill="#eaf1f5" stroke="#eaf1f5"/><path d="M154.2 92.0 L156.1 92.4 L159.6 90.7 L157.7 90.3 Z" fill="#4393c3" stroke="#4393c3"/><path d="M103.8 197.8 L105.7 198.3 L109.1 181.9 L107.2 181.5 Z" fill="#cc4c44" stroke="#cc4c44"/><path d="M202.4 131.2 L204.4 132.0 L207.7 129.9 L205.8 129.0 Z" fill="#e3edf3" stroke="#e3edf3"/><path d="M72.4 72.6 L74.3 72.8 L78.0 69.0 L76.1 68.7 Z" fill="#185493" stroke="#185493"/><path d="M100.7 71.0 L102.7 72.6 L106.3 70.1 L104.4 68.4 Z" fill="#185493" stroke="#185493"/><path d="M185.1 115.3 L187.0 119.1 L190.4 116.9 L188.5 113.2 Z" fill="#b6d7e8" stroke="#b6d7e8"/><path d="M180.9 100.2 L182.8 103.5 L186.3 101.8 L184.4 98.8 Z" fill="#71b0d3" stroke="#71b0d3"/><path d="M171.2 93.4 L173.2 94.1 L176.7 92.9 L174.7 92.2 Z" fill="#4997c5" stroke="#4997c5"/><path d="M113.7 217.1 L115.6 217.6 L119.1 201.3 L117.2 200.8 Z" fill="#8d0c25" stroke="#8d0c25"/><path d="M102.7 72.6 L104.6 74.0 L108.2 71.5 L106.3 70.1 Z" fill="#1a5899" stroke="#1a5899"/><path d="M94.9 67.0 L96.8 67.2 L100.5 64.3 L98.6 64.1 Z" fill="#0f437b" stroke="#0f437b"/><path d="M86.1 167.7 L88.1 173.8 L91.5 158.2 L89.5 153.1 Z" fill="#f8bda1" stroke="#f8bda1"/><path d="M51.8 78.7 L53.6 79.0 L57.4 75.1 L55.5 74.8 Z" fill="#2369ad" stroke="#2369ad"/><path d="M104.6 74.0 L106.5 75.4 L110.2 72.9 L108.2 71.5 Z" fill="#1c5c9f" stroke="#1c5c9f"/><path d="M83.7 69.6 L85.6 69.9 L89.3 66.4 L87.4 66.2 Z" fill="#134c87" stroke="#134c87"/><path d="M122.0 88.5 L123.9 90.1 L127.5 86.8 L125.6 85.2 Z" fill="#3a87bd" stroke="#3a87bd"/><path d="M95.8 179.0 L97.7 179.4 L101.1 162.9 L99.2 162.5 Z" fill="#f3a481" stroke="#f3a481"/><path d="M123.9 90.1 L125.8 91.4 L129.4 88.1 L127.5 86.8 Z" fill="#3e8cbf" stroke="#3e8cbf"/><path d="M106.5 75.4 L108.4 76.8 L112.1 74.4 L110.2 72.9 Z" fill="#1f63a8" stroke="#1f63a8"/><path d="M98.8 68.7 L100.7 71.0 L104.4 68.4 L102.5 65.9 Z" fill="#134c87" stroke="#134c87"/><path d="M141.0 92.3 L142.9 92.8 L146.4 90.3 L144.5 89.9 Z" fill="#4291c2" stroke="#4291c2"/><path d="M120.0 86.4 L122.0 88.5 L125.6 85.2 L123.6 83.3 Z" fill="#3681ba" stroke="#3681ba"/><path d="M108.4 76.8 L110.4 78.3 L114.0 75.8 L112.1 74.4 Z" fill="#2267ac" stroke="#2267ac"/><path d="M204.4 132.0 L206.3 132.9 L209.7 130.7 L207.7 129.9 Z" fill="#e4eef4" stroke="#e4eef4"/><path d="M221.4 134.5 L223.4 135.0 L226.7 132.9 L224.8 132.3 Z" fill="#eaf1f5" stroke="#eaf1f5"/><path d="M156.1 92.4 L158.0 92.9 L161.6 91.1 L159.6 90.7 Z" fill="#4393c3" stroke="#4393c3"/><path d="M63.0 75.8 L64.9 76.1 L68.6 72.1 L66.8 71.9 Z" fill="#1d5fa2" stroke="#1d5fa2"/><path d="M110.4 78.3 L112.3 79.5 L115.9 77.0 L114.0 75.8 Z" fill="#246aae" stroke="#246aae"/><path d="M125.8 91.4 L127.7 92.5 L131.3 89.1 L129.4 88.1 Z" fill="#3f8ec0" stroke="#3f8ec0"/><path d="M105.7 198.3 L107.6 198.7 L111.1 182.3 L109.1 181.9 Z" fill="#cc4c44" stroke="#cc4c44"/><path d="M96.8 67.2 L98.8 68.7 L102.5 65.9 L100.5 64.3 Z" fill="#10457e" stroke="#10457e"/><path d="M173.2 94.1 L175.1 94.9 L178.6 93.7 L176.7 92.9 Z" fill="#4c99c6" stroke="#4c99c6"/><path d="M118.1 84.0 L120.0 86.4 L123.6 83.3 L121.7 81.1 Z" fill="#327cb7" stroke="#327cb7"/><path d="M179.0 97.7 L180.9 100.2 L184.4 98.8 L182.4 96.5 Z" fill="#62a7ce" stroke="#62a7ce"/><path d="M74.3 72.8 L76.2 73.0 L79.9 69.2 L78.0 69.0 Z" fill="#185493" stroke="#185493"/><path d="M115.6 217.6 L117.5 218.0 L121.0 201.7 L119.1 201.3 Z" fill="#8d0c25" stroke="#8d0c25"/><path d="M206.3 132.9 L208.3 133.7 L211.6 131.6 L209.7 130.7 Z" fill="#e6eff4" stroke="#e6eff4"/><path d="M127.7 92.5 L129.7 93.3 L133.3 89.9 L131.3 89.1 Z" fill="#4291c2" stroke="#4291c2"/><path d="M175.1 94.9 L177.1 96.0 L180.5 94.9 L178.6 93.7 Z" fill="#529dc8" stroke="#529dc8"/><path d="M53.6 79.0 L55.5 79.2 L59.3 75.4 L57.4 75.1 Z" fill="#2369ad" stroke="#2369ad"/><path d="M97.7 179.4 L99.6 179.8 L103.0 163.4 L101.1 162.9 Z" fill="#f3a481" stroke="#f3a481"/><path d="M112.3 79.5 L114.2 79.9 L117.8 77.4 L115.9 77.0 Z" fill="#266caf" stroke="#266caf"/><path d="M142.9 92.8 L144.8 93.2 L148.4 90.8 L146.4 90.3 Z" fill="#4291c2" stroke="#4291c2"/><path d="M85.6 69.9 L87.5 70.1 L91.2 66.6 L89.3 66.4 Z" fill="#124984" stroke="#124984"/><path d="M223.4 135.0 L225.4 135.5 L228.7 133.4 L226.7 132.9 Z" fill="#eaf1f5" stroke="#eaf1f5"/><path d="M80.4 169.0 L82.7 182.2 L86.1 167.7 L83.9 156.8 Z" fill="#f5aa89" stroke="#f5aa89"/><path d="M177.1 96.0 L179.0 97.7 L182.4 96.5 L180.5 94.9 Z" fill="#59a1ca" stroke="#59a1ca"/><path d="M116.1 81.6 L118.1 84.0 L121.7 81.1 L119.8 78.9 Z" fill="#2c75b4" stroke="#2c75b4"/><path d="M158.0 92.9 L160.0 93.3 L163.5 91.6 L161.6 91.1 Z" fill="#4393c3" stroke="#4393c3"/><path d="M107.6 198.7 L109.5 199.1 L113.0 182.7 L111.1 182.3 Z" fill="#cc4c44" stroke="#cc4c44"/><path d="M183.2 111.9 L185.1 115.3 L188.5 113.2 L186.6 109.9 Z" fill="#a5cee3" stroke="#a5cee3"/><path d="M64.9 76.1 L66.8 76.3 L70.5 72.4 L68.6 72.1 Z" fill="#1d5fa2" stroke="#1d5fa2"/><path d="M208.3 133.7 L210.2 134.5 L213.6 132.3 L211.6 131.6 Z" fill="#e7f0f4" stroke="#e7f0f4"/><path d="M114.2 79.9 L116.1 81.6 L119.8 78.9 L117.8 77.4 Z" fill="#276eb0" stroke="#276eb0"/><path d="M129.7 93.3 L131.6 94.0 L135.2 90.6 L133.3 89.9 Z" fill="#4291c2" stroke="#4291c2"/><path d="M117.5 218.0 L119.4 218.5 L122.9 202.1 L121.0 201.7 Z" fill="#8d0c25" stroke="#8d0c25"/><path d="M76.2 73.0 L78.1 73.3 L81.8 69.4 L79.9 69.2 Z" fill="#185493" stroke="#185493"/><path d="M144.8 93.2 L146.7 93.6 L150.3 91.2 L148.4 90.8 Z" fill="#4393c3" stroke="#4393c3"/><path d="M225.4 135.5 L227.3 136.0 L230.7 133.9 L228.7 133.4 Z" fill="#eaf1f5" stroke="#eaf1f5"/><path d="M99.6 179.8 L101.5 180.2 L104.9 163.8 L103.0 163.4 Z" fill="#f3a481" stroke="#f3a481"/><path d="M55.5 79.2 L57.4 79.4 L61.2 75.6 L59.3 75.4 Z" fill="#2369ad" stroke="#2369ad"/><path d="M87.5 70.1 L89.4 70.3 L93.0 66.8 L91.2 66.6 Z" fill="#124984" stroke="#124984"/><path d="M210.2 134.5 L212.2 135.1 L215.5 132.9 L213.6 132.3 Z" fill="#e9f0f4" stroke="#e9f0f4"/><path d="M160.0 93.3 L161.9 93.7 L165.4 92.0 L163.5 91.6 Z" fill="#4393c3" stroke="#4393c3"/><path d="M131.6 94.0 L133.5 94.6 L137.1 91.2 L135.2 90.6 Z" fill="#4393c3" stroke="#4393c3"/><path d="M185.4 125.3 L187.3 126.8 L190.8 124.5 L188.8 122.9 Z" fill="#d2e6f0" stroke="#d2e6f0"/><path d="M109.5 199.1 L111.4 199.6 L114.9 183.2 L113.0 182.7 Z" fill="#cc4c44" stroke="#cc4c44"/><path d="M187.3 126.8 L189.3 128.2 L192.7 125.9 L190.8 124.5 Z" fill="#d7e8f1" stroke="#d7e8f1"/><path d="M66.8 76.3 L68.7 76.5 L72.4 72.6 L70.5 72.4 Z" fill="#1c5c9f" stroke="#1c5c9f"/><path d="M119.4 218.5 L121.4 218.9 L124.8 202.6 L122.9 202.1 Z" fill="#8d0c25" stroke="#8d0c25"/><path d="M189.3 128.2 L191.2 129.3 L194.6 127.0 L192.7 125.9 Z" fill="#d8e9f1" stroke="#d8e9f1"/><path d="M181.3 108.7 L183.2 111.9 L186.6 109.9 L184.7 106.7 Z" fill="#96c7df" stroke="#96c7df"/><path d="M227.3 136.0 L229.3 136.5 L232.6 134.3 L230.7 133.9 Z" fill="#ecf2f5" stroke="#ecf2f5"/><path d="M46.1 82.1 L48.0 82.3 L51.8 78.7 L49.9 78.5 Z" fill="#2870b1" stroke="#2870b1"/><path d="M146.7 93.6 L148.7 94.1 L152.2 91.6 L150.3 91.2 Z" fill="#4393c3" stroke="#4393c3"/><path d="M78.1 73.3 L80.0 73.5 L83.7 69.6 L81.8 69.4 Z" fill="#175290" stroke="#175290"/><path d="M101.5 180.2 L103.4 180.6 L106.8 164.2 L104.9 163.8 Z" fill="#f3a481" stroke="#f3a481"/><path d="M212.2 135.1 L214.1 135.6 L217.5 133.5 L215.5 132.9 Z" fill="#e9f0f4" stroke="#e9f0f4"/><path d="M191.2 129.3 L193.1 130.4 L196.6 128.1 L194.6 127.0 Z" fill="#dbeaf2" stroke="#dbeaf2"/><path d="M133.5 94.6 L135.4 95.2 L139.0 91.8 L137.1 91.2 Z" fill="#4393c3" stroke="#4393c3"/><path d="M161.9 93.7 L163.9 94.1 L167.4 92.4 L165.4 92.0 Z" fill="#4393c3" stroke="#4393c3"/><path d="M57.4 79.4 L59.3 79.6 L63.0 75.8 L61.2 75.6 Z" fill="#2267ac" stroke="#2267ac"/><path d="M93.5 160.9 L95.4 161.7 L98.8 146.5 L96.9 145.6 Z" fill="#fcdfcf" stroke="#fcdfcf"/><path d="M89.4 70.3 L91.3 70.5 L94.9 67.0 L93.0 66.8 Z" fill="#124984" stroke="#124984"/><path d="M91.5 158.2 L93.5 160.9 L96.9 145.6 L95.0 143.4 Z" fill="#fce2d2" stroke="#fce2d2"/><path d="M183.5 121.4 L185.4 125.3 L188.8 122.9 L187.0 119.1 Z" fill="#c7e0ed" stroke="#c7e0ed"/><path d="M111.4 199.6 L113.3 200.0 L116.8 183.6 L114.9 183.2 Z" fill="#cc4c44" stroke="#cc4c44"/><path d="M193.1 130.4 L195.1 131.4 L198.5 129.2 L196.6 128.1 Z" fill="#ddebf2" stroke="#ddebf2"/><path d="M68.7 76.5 L70.6 76.7 L74.3 72.8 L72.4 72.6 Z" fill="#1c5c9f" stroke="#1c5c9f"/><path d="M121.4 218.9 L123.3 219.3 L126.8 203.0 L124.8 202.6 Z" fill="#8d0c25" stroke="#8d0c25"/><path d="M148.7 94.1 L150.6 94.5 L154.2 92.0 L152.2 91.6 Z" fill="#4393c3" stroke="#4393c3"/><path d="M214.1 135.6 L216.1 136.1 L219.5 134.0 L217.5 133.5 Z" fill="#e9f0f4" stroke="#e9f0f4"/><path d="M118.3 92.9 L120.3 94.6 L123.9 90.1 L122.0 88.5 Z" fill="#3f8ec0" stroke="#3f8ec0"/><path d="M103.4 180.6 L105.3 181.1 L108.8 164.6 L106.8 164.2 Z" fill="#f3a481" stroke="#f3a481"/><path d="M195.1 131.4 L197.0 132.4 L200.5 130.2 L198.5 129.2 Z" fill="#e0ecf3" stroke="#e0ecf3"/><path d="M120.3 94.6 L122.2 95.9 L125.8 91.4 L123.9 90.1 Z" fill="#4393c3" stroke="#4393c3"/><path d="M95.4 161.7 L97.3 162.1 L100.7 147.0 L98.8 146.5 Z" fill="#fcdecd" stroke="#fcdecd"/><path d="M48.0 82.3 L49.9 82.5 L53.6 79.0 L51.8 78.7 Z" fill="#2870b1" stroke="#2870b1"/><path d="M135.4 95.2 L137.4 95.7 L141.0 92.3 L139.0 91.8 Z" fill="#4695c4" stroke="#4695c4"/><path d="M163.9 94.1 L165.8 94.6 L169.3 92.9 L167.4 92.4 Z" fill="#4393c3" stroke="#4393c3"/><path d="M80.0 73.5 L81.9 73.7 L85.6 69.9 L83.7 69.6 Z" fill="#175290" stroke="#175290"/><path d="M179.3 105.4 L181.3 108.7 L184.7 106.7 L182.8 103.5 Z" fill="#84bcd9" stroke="#84bcd9"/><path d="M116.4 90.7 L118.3 92.9 L122.0 88.5 L120.0 86.4 Z" fill="#3b88be" stroke="#3b88be"/><path d="M59.3 79.6 L61.2 79.9 L64.9 76.1 L63.0 75.8 Z" fill="#2267ac" stroke="#2267ac"/><path d="M122.2 95.9 L124.1 97.0 L127.7 92.5 L125.8 91.4 Z" fill="#4695c4" stroke="#4695c4"/><path d="M113.3 200.0 L115.3 200.4 L118.7 184.0 L116.8 183.6 Z" fill="#cc4c44" stroke="#cc4c44"/><path d="M91.3 70.5 L93.2 70.7 L96.8 67.2 L94.9 67.0 Z" fill="#114781" stroke="#114781"/><path d="M197.0 132.4 L199.0 133.4 L202.4 131.2 L200.5 130.2 Z" fill="#e1edf3" stroke="#e1edf3"/><path d="M97.0 73.8 L99.0 75.3 L102.7 72.6 L100.7 71.0 Z" fill="#195696" stroke="#195696"/><path d="M70.6 76.7 L72.5 76.9 L76.2 73.0 L74.3 72.8 Z" fill="#1c5c9f" stroke="#1c5c9f"/><path d="M114.4 88.1 L116.4 90.7 L120.0 86.4 L118.1 84.0 Z" fill="#3681ba" stroke="#3681ba"/><path d="M216.1 136.1 L218.1 136.7 L221.4 134.5 L219.5 134.0 Z" fill="#eaf1f5" stroke="#eaf1f5"/><path d="M150.6 94.5 L152.5 94.9 L156.1 92.4 L154.2 92.0 Z" fill="#4393c3" stroke="#4393c3"/><path d="M99.0 75.3 L100.9 76.5 L104.6 74.0 L102.7 72.6 Z" fill="#1b5a9c" stroke="#1b5a9c"/><path d="M124.1 97.0 L126.1 97.8 L129.7 93.3 L127.7 92.5 Z" fill="#4c99c6" stroke="#4c99c6"/><path d="M137.4 95.7 L139.3 96.1 L142.9 92.8 L141.0 92.3 Z" fill="#4695c4" stroke="#4695c4"/><path d="M89.5 153.1 L91.5 158.2 L95.0 143.4 L93.0 139.1 Z" fill="#fae9df" stroke="#fae9df"/><path d="M95.1 71.8 L97.0 73.8 L100.7 71.0 L98.8 68.7 Z" fill="#15508d" stroke="#15508d"/><path d="M105.3 181.1 L107.2 181.5 L110.7 165.0 L108.8 164.6 Z" fill="#f3a481" stroke="#f3a481"/><path d="M97.3 162.1 L99.2 162.5 L102.7 147.5 L100.7 147.0 Z" fill="#fcdecd" stroke="#fcdecd"/><path d="M165.8 94.6 L167.7 95.1 L171.2 93.4 L169.3 92.9 Z" fill="#4695c4" stroke="#4695c4"/><path d="M83.9 156.8 L86.1 167.7 L89.5 153.1 L87.4 144.6 Z" fill="#fdddcb" stroke="#fdddcb"/><path d="M100.9 76.5 L102.8 77.8 L106.5 75.4 L104.6 74.0 Z" fill="#1d5fa2" stroke="#1d5fa2"/><path d="M93.2 70.7 L95.1 71.8 L98.8 68.7 L96.8 67.2 Z" fill="#124984" stroke="#124984"/><path d="M199.0 133.4 L200.9 134.2 L204.4 132.0 L202.4 131.2 Z" fill="#e3edf3" stroke="#e3edf3"/><path d="M49.9 82.5 L51.8 82.7 L55.5 79.2 L53.6 79.0 Z" fill="#276eb0" stroke="#276eb0"/><path d="M102.8 77.8 L104.8 79.3 L108.4 76.8 L106.5 75.4 Z" fill="#2065ab" stroke="#2065ab"/><path d="M81.9 73.7 L83.8 73.9 L87.5 70.1 L85.6 69.9 Z" fill="#175290" stroke="#175290"/><path d="M181.6 117.5 L183.5 121.4 L187.0 119.1 L185.1 115.3 Z" fill="#b6d7e8" stroke="#b6d7e8"/><path d="M104.8 79.3 L106.7 80.9 L110.4 78.3 L108.4 76.8 Z" fill="#2369ad" stroke="#2369ad"/><path d="M123.3 219.3 L125.2 218.5 L128.7 202.1 L126.8 203.0 Z" fill="#930e26" stroke="#930e26"/><path d="M115.3 200.4 L117.2 200.8 L120.6 184.4 L118.7 184.0 Z" fill="#cc4c44" stroke="#cc4c44"/><path d="M106.7 80.9 L108.6 82.3 L112.3 79.5 L110.4 78.3 Z" fill="#266caf" stroke="#266caf"/><path d="M61.2 79.9 L63.1 80.1 L66.8 76.3 L64.9 76.1 Z" fill="#2267ac" stroke="#2267ac"/><path d="M126.1 97.8 L128.0 98.5 L131.6 94.0 L129.7 93.3 Z" fill="#4c99c6" stroke="#4c99c6"/><path d="M112.5 85.3 L114.4 88.1 L118.1 84.0 L116.1 81.6 Z" fill="#2f79b5" stroke="#2f79b5"/><path d="M177.4 101.8 L179.3 105.4 L182.8 103.5 L180.9 100.2 Z" fill="#6eaed2" stroke="#6eaed2"/><path d="M200.9 134.2 L202.9 135.0 L206.3 132.9 L204.4 132.0 Z" fill="#e4eef4" stroke="#e4eef4"/><path d="M218.1 136.7 L220.0 137.2 L223.4 135.0 L221.4 134.5 Z" fill="#eaf1f5" stroke="#eaf1f5"/><path d="M152.5 94.9 L154.5 95.3 L158.0 92.9 L156.1 92.4 Z" fill="#4393c3" stroke="#4393c3"/><path d="M167.7 95.1 L169.7 95.7 L173.2 94.1 L171.2 93.4 Z" fill="#4695c4" stroke="#4695c4"/><path d="M72.5 76.9 L74.4 77.1 L78.1 73.3 L76.2 73.0 Z" fill="#1c5c9f" stroke="#1c5c9f"/><path d="M139.3 96.1 L141.2 96.6 L144.8 93.2 L142.9 92.8 Z" fill="#4695c4" stroke="#4695c4"/><path d="M108.6 82.3 L110.5 83.0 L114.2 79.9 L112.3 79.5 Z" fill="#276eb0" stroke="#276eb0"/><path d="M99.2 162.5 L101.1 162.9 L104.6 147.9 L102.7 147.5 Z" fill="#fcdecd" stroke="#fcdecd"/><path d="M107.2 181.5 L109.1 181.9 L112.6 165.4 L110.7 165.0 Z" fill="#f3a481" stroke="#f3a481"/><path d="M110.5 83.0 L112.5 85.3 L116.1 81.6 L114.2 79.9 Z" fill="#2a71b2" stroke="#2a71b2"/><path d="M51.8 82.7 L53.6 82.9 L57.4 79.4 L55.5 79.2 Z" fill="#276eb0" stroke="#276eb0"/><path d="M128.0 98.5 L129.9 99.1 L133.5 94.6 L131.6 94.0 Z" fill="#4f9bc7" stroke="#4f9bc7"/><path d="M202.9 135.0 L204.8 135.9 L208.3 133.7 L206.3 132.9 Z" fill="#e6eff4" stroke="#e6eff4"/><path d="M117.2 200.8 L119.1 201.3 L122.6 184.9 L120.6 184.4 Z" fill="#cc4c44" stroke="#cc4c44"/><path d="M83.8 73.9 L85.7 74.1 L89.4 70.3 L87.5 70.1 Z" fill="#15508d" stroke="#15508d"/><path d="M169.7 95.7 L171.6 96.5 L175.1 94.9 L173.2 94.1 Z" fill="#4997c5" stroke="#4997c5"/><path d="M63.1 80.1 L65.0 80.3 L68.7 76.5 L66.8 76.3 Z" fill="#2065ab" stroke="#2065ab"/><path d="M220.0 137.2 L222.0 137.7 L225.4 135.5 L223.4 135.0 Z" fill="#eaf1f5" stroke="#eaf1f5"/><path d="M154.5 95.3 L156.4 95.7 L160.0 93.3 L158.0 92.9 Z" fill="#4393c3" stroke="#4393c3"/><path d="M175.5 99.3 L177.4 101.8 L180.9 100.2 L179.0 97.7 Z" fill="#5fa5cd" stroke="#5fa5cd"/><path d="M141.2 96.6 L143.2 97.0 L146.7 93.6 L144.8 93.2 Z" fill="#4695c4" stroke="#4695c4"/><path d="M179.7 114.1 L181.6 117.5 L185.1 115.3 L183.2 111.9 Z" fill="#a5cee3" stroke="#a5cee3"/><path d="M114.7 98.7 L116.7 100.4 L120.3 94.6 L118.3 92.9 Z" fill="#4f9bc7" stroke="#4f9bc7"/><path d="M101.1 162.9 L103.0 163.4 L106.5 148.3 L104.6 147.9 Z" fill="#fcdecd" stroke="#fcdecd"/><path d="M109.1 181.9 L111.1 182.3 L114.5 165.8 L112.6 165.4 Z" fill="#f3a481" stroke="#f3a481"/><path d="M74.4 77.1 L76.3 77.3 L80.0 73.5 L78.1 73.3 Z" fill="#1b5a9c" stroke="#1b5a9c"/><path d="M116.7 100.4 L118.6 101.7 L122.2 95.9 L120.3 94.6 Z" fill="#569fc9" stroke="#569fc9"/><path d="M96.9 145.6 L98.8 146.5 L102.4 135.5 L100.4 134.2 Z" fill="#f3f5f6" stroke="#f3f5f6"/><path d="M204.8 135.9 L206.8 136.6 L210.2 134.5 L208.3 133.7 Z" fill="#e7f0f4" stroke="#e7f0f4"/><path d="M171.6 96.5 L173.6 97.6 L177.1 96.0 L175.1 94.9 Z" fill="#4c99c6" stroke="#4c99c6"/><path d="M95.0 143.4 L96.9 145.6 L100.4 134.2 L98.5 131.8 Z" fill="#f0f4f6" stroke="#f0f4f6"/><path d="M129.9 99.1 L131.8 99.6 L135.4 95.2 L133.5 94.6 Z" fill="#4f9bc7" stroke="#4f9bc7"/><path d="M173.6 97.6 L175.5 99.3 L179.0 97.7 L177.1 96.0 Z" fill="#529dc8" stroke="#529dc8"/><path d="M112.8 96.4 L114.7 98.7 L118.3 92.9 L116.4 90.7 Z" fill="#4393c3" stroke="#4393c3"/><path d="M119.1 201.3 L121.0 201.7 L124.5 185.3 L122.6 184.9 Z" fill="#cc4c44" stroke="#cc4c44"/><path d="M118.6 101.7 L120.5 102.7 L124.1 97.0 L122.2 95.9 Z" fill="#5ca3cb" stroke="#5ca3cb"/><path d="M42.3 85.3 L44.2 85.5 L48.0 82.3 L46.1 82.1 Z" fill="#2c75b4" stroke="#2c75b4"/><path d="M53.6 82.9 L55.5 83.1 L59.3 79.6 L57.4 79.4 Z" fill="#276eb0" stroke="#276eb0"/><path d="M85.7 74.1 L87.6 74.3 L91.3 70.5 L89.4 70.3 Z" fill="#15508d" stroke="#15508d"/><path d="M222.0 137.7 L224.0 138.2 L227.3 136.0 L225.4 135.5 Z" fill="#eaf1f5" stroke="#eaf1f5"/><path d="M98.8 146.5 L100.7 147.0 L104.3 136.3 L102.4 135.5 Z" fill="#f6f7f7" stroke="#f6f7f7"/><path d="M65.0 80.3 L66.8 80.5 L70.6 76.7 L68.7 76.5 Z" fill="#2065ab" stroke="#2065ab"/><path d="M181.9 127.7 L183.9 129.2 L187.3 126.8 L185.4 125.3 Z" fill="#d4e6f1" stroke="#d4e6f1"/><path d="M156.4 95.7 L158.4 96.1 L161.9 93.7 L160.0 93.3 Z" fill="#4393c3" stroke="#4393c3"/><path d="M143.2 97.0 L145.1 97.4 L148.7 94.1 L146.7 93.6 Z" fill="#4695c4" stroke="#4695c4"/><path d="M206.8 136.6 L208.8 137.2 L212.2 135.1 L210.2 134.5 Z" fill="#e7f0f4" stroke="#e7f0f4"/><path d="M183.9 129.2 L185.8 130.5 L189.3 128.2 L187.3 126.8 Z" fill="#d7e8f1" stroke="#d7e8f1"/><path d="M120.5 102.7 L122.5 103.5 L126.1 97.8 L124.1 97.0 Z" fill="#5fa5cd" stroke="#5fa5cd"/><path d="M103.0 163.4 L104.9 163.8 L108.4 148.7 L106.5 148.3 Z" fill="#fcdecd" stroke="#fcdecd"/><path d="M111.1 182.3 L113.0 182.7 L116.4 166.3 L114.5 165.8 Z" fill="#f3a481" stroke="#f3a481"/><path d="M131.8 99.6 L133.8 100.1 L137.4 95.7 L135.4 95.2 Z" fill="#529dc8" stroke="#529dc8"/><path d="M110.8 93.4 L112.8 96.4 L116.4 90.7 L114.4 88.1 Z" fill="#3e8cbf" stroke="#3e8cbf"/><path d="M76.3 77.3 L78.2 77.5 L81.9 73.7 L80.0 73.5 Z" fill="#1b5a9c" stroke="#1b5a9c"/><path d="M185.8 130.5 L187.7 131.6 L191.2 129.3 L189.3 128.2 Z" fill="#dae9f2" stroke="#dae9f2"/><path d="M177.8 110.9 L179.7 114.1 L183.2 111.9 L181.3 108.7 Z" fill="#96c7df" stroke="#96c7df"/><path d="M121.0 201.7 L122.9 202.1 L126.4 185.7 L124.5 185.3 Z" fill="#cc4c44" stroke="#cc4c44"/><path d="M100.7 147.0 L102.7 147.5 L106.2 136.9 L104.3 136.3 Z" fill="#f6f7f7" stroke="#f6f7f7"/><path d="M224.0 138.2 L225.9 138.7 L229.3 136.5 L227.3 136.0 Z" fill="#ecf2f5" stroke="#ecf2f5"/><path d="M44.2 85.5 L46.1 85.7 L49.9 82.5 L48.0 82.3 Z" fill="#2b73b3" stroke="#2b73b3"/><path d="M93.0 139.1 L95.0 143.4 L98.5 131.8 L96.5 127.6 Z" fill="#e6eff4" stroke="#e6eff4"/><path d="M55.5 83.1 L57.4 83.3 L61.2 79.9 L59.3 79.6 Z" fill="#266caf" stroke="#266caf"/><path d="M187.7 131.6 L189.7 132.6 L193.1 130.4 L191.2 129.3 Z" fill="#dbeaf2" stroke="#dbeaf2"/><path d="M122.5 103.5 L124.4 104.2 L128.0 98.5 L126.1 97.8 Z" fill="#62a7ce" stroke="#62a7ce"/><path d="M87.6 74.3 L89.5 74.5 L93.2 70.7 L91.3 70.5 Z" fill="#15508d" stroke="#15508d"/><path d="M208.8 137.2 L210.7 137.8 L214.1 135.6 L212.2 135.1 Z" fill="#e9f0f4" stroke="#e9f0f4"/><path d="M100.4 134.2 L102.4 135.5 L105.9 125.3 L104.0 123.7 Z" fill="#d8e9f1" stroke="#d8e9f1"/><path d="M180.0 123.7 L181.9 127.7 L185.4 125.3 L183.5 121.4 Z" fill="#cae1ee" stroke="#cae1ee"/><path d="M158.4 96.1 L160.3 96.6 L163.9 94.1 L161.9 93.7 Z" fill="#4393c3" stroke="#4393c3"/><path d="M145.1 97.4 L147.0 97.8 L150.6 94.5 L148.7 94.1 Z" fill="#4695c4" stroke="#4695c4"/><path d="M66.8 80.5 L68.7 80.7 L72.5 76.9 L70.6 76.7 Z" fill="#2065ab" stroke="#2065ab"/><path d="M87.4 144.6 L89.5 153.1 L93.0 139.1 L90.9 132.3 Z" fill="#f6f7f7" stroke="#f6f7f7"/><path d="M111.1 105.8 L113.1 107.5 L116.7 100.4 L114.7 98.7 Z" fill="#6bacd1" stroke="#6bacd1"/><path d="M104.9 163.8 L106.8 164.2 L110.3 149.1 L108.4 148.7 Z" fill="#fcdecd" stroke="#fcdecd"/><path d="M113.1 107.5 L115.0 108.8 L118.6 101.7 L116.7 100.4 Z" fill="#71b0d3" stroke="#71b0d3"/><path d="M113.0 182.7 L114.9 183.2 L118.4 166.7 L116.4 166.3 Z" fill="#f3a481" stroke="#f3a481"/><path d="M133.8 100.1 L135.7 100.6 L139.3 96.1 L137.4 95.7 Z" fill="#529dc8" stroke="#529dc8"/><path d="M98.5 131.8 L100.4 134.2 L104.0 123.7 L102.0 121.2 Z" fill="#d4e6f1" stroke="#d4e6f1"/><path d="M102.4 135.5 L104.3 136.3 L107.8 126.3 L105.9 125.3 Z" fill="#dbeaf2" stroke="#dbeaf2"/><path d="M189.7 132.6 L191.6 133.7 L195.1 131.4 L193.1 130.4 Z" fill="#deebf2" stroke="#deebf2"/><path d="M108.9 90.0 L110.8 93.4 L114.4 88.1 L112.5 85.3 Z" fill="#3681ba" stroke="#3681ba"/><path d="M78.2 77.5 L80.1 77.7 L83.8 73.9 L81.9 73.7 Z" fill="#1a5899" stroke="#1a5899"/><path d="M109.2 103.3 L111.1 105.8 L114.7 98.7 L112.8 96.4 Z" fill="#5fa5cd" stroke="#5fa5cd"/><path d="M115.0 108.8 L116.9 109.7 L120.5 102.7 L118.6 101.7 Z" fill="#78b4d5" stroke="#78b4d5"/><path d="M122.9 202.1 L124.8 202.6 L128.4 186.1 L126.4 185.7 Z" fill="#cc4c44" stroke="#cc4c44"/><path d="M102.7 147.5 L104.6 147.9 L108.1 137.5 L106.2 136.9 Z" fill="#f6f7f7" stroke="#f6f7f7"/><path d="M124.4 104.2 L126.3 104.8 L129.9 99.1 L128.0 98.5 Z" fill="#62a7ce" stroke="#62a7ce"/><path d="M89.5 74.5 L91.4 75.2 L95.1 71.8 L93.2 70.7 Z" fill="#15508d" stroke="#15508d"/><path d="M125.2 218.5 L127.0 212.4 L130.6 197.2 L128.7 202.1 Z" fill="#ab162a" stroke="#ab162a"/><path d="M210.7 137.8 L212.7 138.3 L216.1 136.1 L214.1 135.6 Z" fill="#e9f0f4" stroke="#e9f0f4"/><path d="M191.6 133.7 L193.6 134.6 L197.0 132.4 L195.1 131.4 Z" fill="#e0ecf3" stroke="#e0ecf3"/><path d="M46.1 85.7 L47.9 85.9 L51.8 82.7 L49.9 82.5 Z" fill="#2b73b3" stroke="#2b73b3"/><path d="M104.0 123.7 L105.9 125.3 L109.5 115.9 L107.5 114.2 Z" fill="#b3d6e8" stroke="#b3d6e8"/><path d="M160.3 96.6 L162.3 97.0 L165.8 94.6 L163.9 94.1 Z" fill="#4393c3" stroke="#4393c3"/><path d="M91.4 75.2 L93.3 76.7 L97.0 73.8 L95.1 71.8 Z" fill="#185493" stroke="#185493"/><path d="M57.4 83.3 L59.3 83.5 L63.1 80.1 L61.2 79.9 Z" fill="#266caf" stroke="#266caf"/><path d="M93.3 76.7 L95.3 77.9 L99.0 75.3 L97.0 73.8 Z" fill="#1b5a9c" stroke="#1b5a9c"/><path d="M104.3 136.3 L106.2 136.9 L109.8 127.0 L107.8 126.3 Z" fill="#dbeaf2" stroke="#dbeaf2"/><path d="M147.0 97.8 L149.0 98.2 L152.5 94.9 L150.6 94.5 Z" fill="#4997c5" stroke="#4997c5"/><path d="M175.8 107.6 L177.8 110.9 L181.3 108.7 L179.3 105.4 Z" fill="#84bcd9" stroke="#84bcd9"/><path d="M107.5 114.2 L109.5 115.9 L113.1 107.5 L111.1 105.8 Z" fill="#90c4dd" stroke="#90c4dd"/><path d="M105.9 125.3 L107.8 126.3 L111.4 117.0 L109.5 115.9 Z" fill="#b8d8e9" stroke="#b8d8e9"/><path d="M109.5 115.9 L111.4 117.0 L115.0 108.8 L113.1 107.5 Z" fill="#96c7df" stroke="#96c7df"/><path d="M135.7 100.6 L137.6 101.0 L141.2 96.6 L139.3 96.1 Z" fill="#529dc8" stroke="#529dc8"/><path d="M116.9 109.7 L118.9 110.5 L122.5 103.5 L120.5 102.7 Z" fill="#7bb6d6" stroke="#7bb6d6"/><path d="M106.8 164.2 L108.8 164.6 L112.2 149.6 L110.3 149.1 Z" fill="#fcdecd" stroke="#fcdecd"/><path d="M95.3 77.9 L97.2 79.1 L100.9 76.5 L99.0 75.3 Z" fill="#1c5c9f" stroke="#1c5c9f"/><path d="M68.7 80.7 L70.6 80.9 L74.4 77.1 L72.5 76.9 Z" fill="#1f63a8" stroke="#1f63a8"/><path d="M114.9 183.2 L116.8 183.6 L120.3 167.1 L118.4 166.7 Z" fill="#f3a481" stroke="#f3a481"/><path d="M102.0 121.2 L104.0 123.7 L107.5 114.2 L105.6 111.7 Z" fill="#acd2e5" stroke="#acd2e5"/><path d="M193.6 134.6 L195.5 135.6 L199.0 133.4 L197.0 132.4 Z" fill="#e1edf3" stroke="#e1edf3"/><path d="M105.6 111.7 L107.5 114.2 L111.1 105.8 L109.2 103.3 Z" fill="#84bcd9" stroke="#84bcd9"/><path d="M97.2 79.1 L99.1 80.3 L102.8 77.8 L100.9 76.5 Z" fill="#1e61a5" stroke="#1e61a5"/><path d="M107.2 100.0 L109.2 103.3 L112.8 96.4 L110.8 93.4 Z" fill="#4f9bc7" stroke="#4f9bc7"/><path d="M126.3 104.8 L128.2 105.3 L131.8 99.6 L129.9 99.1 Z" fill="#65a9cf" stroke="#65a9cf"/><path d="M106.9 86.9 L108.9 90.0 L112.5 85.3 L110.5 83.0 Z" fill="#2f79b5" stroke="#2f79b5"/><path d="M104.6 147.9 L106.5 148.3 L110.0 137.9 L108.1 137.5 Z" fill="#f6f7f7" stroke="#f6f7f7"/><path d="M111.4 117.0 L113.3 117.9 L116.9 109.7 L115.0 108.8 Z" fill="#9bc9e0" stroke="#9bc9e0"/><path d="M103.0 83.5 L105.0 85.4 L108.6 82.3 L106.7 80.9 Z" fill="#2870b1" stroke="#2870b1"/><path d="M124.8 202.6 L126.8 203.0 L130.3 186.5 L128.4 186.1 Z" fill="#cc4c44" stroke="#cc4c44"/><path d="M107.8 126.3 L109.8 127.0 L113.3 117.9 L111.4 117.0 Z" fill="#bddbea" stroke="#bddbea"/><path d="M212.7 138.3 L214.7 138.8 L218.1 136.7 L216.1 136.1 Z" fill="#e9f0f4" stroke="#e9f0f4"/><path d="M96.5 127.6 L98.5 131.8 L102.0 121.2 L100.0 117.2 Z" fill="#c5dfec" stroke="#c5dfec"/><path d="M80.1 77.7 L82.0 77.9 L85.7 74.1 L83.8 73.9 Z" fill="#1a5899" stroke="#1a5899"/><path d="M99.1 80.3 L101.1 81.7 L104.8 79.3 L102.8 77.8 Z" fill="#2065ab" stroke="#2065ab"/><path d="M101.1 81.7 L103.0 83.5 L106.7 80.9 L104.8 79.3 Z" fill="#246aae" stroke="#246aae"/><path d="M106.2 136.9 L108.1 137.5 L111.7 127.6 L109.8 127.0 Z" fill="#ddebf2" stroke="#ddebf2"/><path d="M105.0 85.4 L106.9 86.9 L110.5 83.0 L108.6 82.3 Z" fill="#2b73b3" stroke="#2b73b3"/><path d="M162.3 97.0 L164.2 97.5 L167.7 95.1 L165.8 94.6 Z" fill="#4695c4" stroke="#4695c4"/><path d="M178.1 119.9 L180.0 123.7 L183.5 121.4 L181.6 117.5 Z" fill="#b6d7e8" stroke="#b6d7e8"/><path d="M195.5 135.6 L197.5 136.4 L200.9 134.2 L199.0 133.4 Z" fill="#e3edf3" stroke="#e3edf3"/><path d="M118.9 110.5 L120.8 111.1 L124.4 104.2 L122.5 103.5 Z" fill="#7eb8d7" stroke="#7eb8d7"/><path d="M149.0 98.2 L150.9 98.7 L154.5 95.3 L152.5 94.9 Z" fill="#4997c5" stroke="#4997c5"/><path d="M47.9 85.9 L49.8 86.0 L53.6 82.9 L51.8 82.7 Z" fill="#2b73b3" stroke="#2b73b3"/><path d="M59.3 83.5 L61.2 83.7 L65.0 80.3 L63.1 80.1 Z" fill="#266caf" stroke="#266caf"/><path d="M137.6 101.0 L139.6 101.4 L143.2 97.0 L141.2 96.6 Z" fill="#529dc8" stroke="#529dc8"/><path d="M108.8 164.6 L110.7 165.0 L114.2 150.0 L112.2 149.6 Z" fill="#fcdecd" stroke="#fcdecd"/><path d="M116.8 183.6 L118.7 184.0 L122.2 167.5 L120.3 167.1 Z" fill="#f3a481" stroke="#f3a481"/><path d="M113.3 117.9 L115.3 118.6 L118.9 110.5 L116.9 109.7 Z" fill="#9bc9e0" stroke="#9bc9e0"/><path d="M70.6 80.9 L72.5 81.0 L76.3 77.3 L74.4 77.1 Z" fill="#1f63a8" stroke="#1f63a8"/><path d="M109.8 127.0 L111.7 127.6 L115.3 118.6 L113.3 117.9 Z" fill="#bddbea" stroke="#bddbea"/><path d="M128.2 105.3 L130.2 105.8 L133.8 100.1 L131.8 99.6 Z" fill="#65a9cf" stroke="#65a9cf"/><path d="M106.5 148.3 L108.4 148.7 L112.0 138.4 L110.0 137.9 Z" fill="#f6f7f7" stroke="#f6f7f7"/><path d="M197.5 136.4 L199.5 137.2 L202.9 135.0 L200.9 134.2 Z" fill="#e4eef4" stroke="#e4eef4"/><path d="M214.7 138.8 L216.6 139.4 L220.0 137.2 L218.1 136.7 Z" fill="#eaf1f5" stroke="#eaf1f5"/><path d="M173.9 103.9 L175.8 107.6 L179.3 105.4 L177.4 101.8 Z" fill="#6eaed2" stroke="#6eaed2"/><path d="M103.6 108.0 L105.6 111.7 L109.2 103.3 L107.2 100.0 Z" fill="#75b2d4" stroke="#75b2d4"/><path d="M100.0 117.2 L102.0 121.2 L105.6 111.7 L103.6 108.0 Z" fill="#9dcbe1" stroke="#9dcbe1"/><path d="M108.1 137.5 L110.0 137.9 L113.6 128.2 L111.7 127.6 Z" fill="#ddebf2" stroke="#ddebf2"/><path d="M164.2 97.5 L166.2 98.1 L169.7 95.7 L167.7 95.1 Z" fill="#4695c4" stroke="#4695c4"/><path d="M120.8 111.1 L122.7 111.6 L126.3 104.8 L124.4 104.2 Z" fill="#7eb8d7" stroke="#7eb8d7"/><path d="M82.0 77.9 L83.9 78.1 L87.6 74.3 L85.7 74.1 Z" fill="#1a5899" stroke="#1a5899"/><path d="M74.4 157.5 L77.0 181.2 L80.4 169.0 L77.9 147.4 Z" fill="#fbccb4" stroke="#fbccb4"/><path d="M150.9 98.7 L152.9 99.1 L156.4 95.7 L154.5 95.3 Z" fill="#4997c5" stroke="#4997c5"/><path d="M115.3 118.6 L117.2 119.1 L120.8 111.1 L118.9 110.5 Z" fill="#9dcbe1" stroke="#9dcbe1"/><path d="M105.2 95.8 L107.2 100.0 L110.8 93.4 L108.9 90.0 Z" fill="#408fc1" stroke="#408fc1"/><path d="M90.9 132.3 L93.0 139.1 L96.5 127.6 L94.4 120.8 Z" fill="#d5e7f1" stroke="#d5e7f1"/><path d="M139.6 101.4 L141.5 101.8 L145.1 97.4 L143.2 97.0 Z" fill="#529dc8" stroke="#529dc8"/><path d="M49.8 86.0 L51.7 86.2 L55.5 83.1 L53.6 82.9 Z" fill="#2a71b2" stroke="#2a71b2"/><path d="M110.7 165.0 L112.6 165.4 L116.1 150.4 L114.2 150.0 Z" fill="#fcdecd" stroke="#fcdecd"/><path d="M199.5 137.2 L201.4 138.0 L204.8 135.9 L202.9 135.0 Z" fill="#e6eff4" stroke="#e6eff4"/><path d="M111.7 127.6 L113.6 128.2 L117.2 119.1 L115.3 118.6 Z" fill="#c0dceb" stroke="#c0dceb"/><path d="M126.8 203.0 L128.7 202.1 L132.2 185.6 L130.3 186.5 Z" fill="#cf5246" stroke="#cf5246"/><path d="M118.7 184.0 L120.6 184.4 L124.2 167.9 L122.2 167.5 Z" fill="#f3a481" stroke="#f3a481"/><path d="M61.2 83.7 L63.1 83.9 L66.8 80.5 L65.0 80.3 Z" fill="#246aae" stroke="#246aae"/><path d="M130.2 105.8 L132.1 106.2 L135.7 100.6 L133.8 100.1 Z" fill="#65a9cf" stroke="#65a9cf"/><path d="M38.5 88.1 L40.3 88.3 L44.2 85.5 L42.3 85.3 Z" fill="#2f79b5" stroke="#2f79b5"/><path d="M166.2 98.1 L168.1 98.8 L171.6 96.5 L169.7 95.7 Z" fill="#4695c4" stroke="#4695c4"/><path d="M216.6 139.4 L218.6 139.9 L222.0 137.7 L220.0 137.2 Z" fill="#eaf1f5" stroke="#eaf1f5"/><path d="M108.4 148.7 L110.3 149.1 L113.9 138.8 L112.0 138.4 Z" fill="#f6f7f7" stroke="#f6f7f7"/><path d="M72.5 81.0 L74.4 81.2 L78.2 77.5 L76.3 77.3 Z" fill="#1e61a5" stroke="#1e61a5"/><path d="M176.2 116.6 L178.1 119.9 L181.6 117.5 L179.7 114.1 Z" fill="#a5cee3" stroke="#a5cee3"/><path d="M110.0 137.9 L112.0 138.4 L115.5 128.7 L113.6 128.2 Z" fill="#ddebf2" stroke="#ddebf2"/><path d="M122.7 111.6 L124.6 112.2 L128.2 105.3 L126.3 104.8 Z" fill="#7eb8d7" stroke="#7eb8d7"/><path d="M172.0 101.4 L173.9 103.9 L177.4 101.8 L175.5 99.3 Z" fill="#5ca3cb" stroke="#5ca3cb"/><path d="M117.2 119.1 L119.1 119.7 L122.7 111.6 L120.8 111.1 Z" fill="#9dcbe1" stroke="#9dcbe1"/><path d="M201.4 138.0 L203.4 138.7 L206.8 136.6 L204.8 135.9 Z" fill="#e7f0f4" stroke="#e7f0f4"/><path d="M152.9 99.1 L154.8 99.5 L158.4 96.1 L156.4 95.7 Z" fill="#4997c5" stroke="#4997c5"/><path d="M83.9 78.1 L85.8 78.3 L89.5 74.5 L87.6 74.3 Z" fill="#195696" stroke="#195696"/><path d="M168.1 98.8 L170.1 99.8 L173.6 97.6 L171.6 96.5 Z" fill="#4c99c6" stroke="#4c99c6"/><path d="M141.5 101.8 L143.5 102.3 L147.0 97.8 L145.1 97.4 Z" fill="#529dc8" stroke="#529dc8"/><path d="M113.6 128.2 L115.5 128.7 L119.1 119.7 L117.2 119.1 Z" fill="#c0dceb" stroke="#c0dceb"/><path d="M112.6 165.4 L114.5 165.8 L118.0 150.8 L116.1 150.4 Z" fill="#fcdecd" stroke="#fcdecd"/><path d="M120.6 184.4 L122.6 184.9 L126.1 168.3 L124.2 167.9 Z" fill="#f3a481" stroke="#f3a481"/><path d="M170.1 99.8 L172.0 101.4 L175.5 99.3 L173.6 97.6 Z" fill="#529dc8" stroke="#529dc8"/><path d="M132.1 106.2 L134.0 106.7 L137.6 101.0 L135.7 100.6 Z" fill="#65a9cf" stroke="#65a9cf"/><path d="M51.7 86.2 L53.6 86.4 L57.4 83.3 L55.5 83.1 Z" fill="#2a71b2" stroke="#2a71b2"/><path d="M178.4 130.2 L180.4 131.6 L183.9 129.2 L181.9 127.7 Z" fill="#d4e6f1" stroke="#d4e6f1"/><path d="M218.6 139.9 L220.6 140.4 L224.0 138.2 L222.0 137.7 Z" fill="#eaf1f5" stroke="#eaf1f5"/><path d="M63.1 83.9 L65.0 84.1 L68.7 80.7 L66.8 80.5 Z" fill="#246aae" stroke="#246aae"/><path d="M110.3 149.1 L112.2 149.6 L115.8 139.3 L113.9 138.8 Z" fill="#f6f7f7" stroke="#f6f7f7"/><path d="M124.6 112.2 L126.6 112.6 L130.2 105.8 L128.2 105.3 Z" fill="#81bad8" stroke="#81bad8"/><path d="M112.0 138.4 L113.9 138.8 L117.5 129.1 L115.5 128.7 Z" fill="#deebf2" stroke="#deebf2"/><path d="M40.3 88.3 L42.2 88.5 L46.1 85.7 L44.2 85.5 Z" fill="#2e77b5" stroke="#2e77b5"/><path d="M180.4 131.6 L182.3 132.8 L185.8 130.5 L183.9 129.2 Z" fill="#d7e8f1" stroke="#d7e8f1"/><path d="M203.4 138.7 L205.4 139.4 L208.8 137.2 L206.8 136.6 Z" fill="#e7f0f4" stroke="#e7f0f4"/><path d="M74.4 81.2 L76.3 81.4 L80.1 77.7 L78.2 77.5 Z" fill="#1e61a5" stroke="#1e61a5"/><path d="M101.6 102.9 L103.6 108.0 L107.2 100.0 L105.2 95.8 Z" fill="#5ca3cb" stroke="#5ca3cb"/><path d="M94.4 120.8 L96.5 127.6 L100.0 117.2 L98.0 111.2 Z" fill="#acd2e5" stroke="#acd2e5"/><path d="M119.1 119.7 L121.0 120.2 L124.6 112.2 L122.7 111.6 Z" fill="#a0cce2" stroke="#a0cce2"/><path d="M103.2 91.6 L105.2 95.8 L108.9 90.0 L106.9 86.9 Z" fill="#3783bb" stroke="#3783bb"/><path d="M154.8 99.5 L156.8 99.9 L160.3 96.6 L158.4 96.1 Z" fill="#4997c5" stroke="#4997c5"/><path d="M77.9 147.4 L80.4 169.0 L83.9 156.8 L81.5 137.3 Z" fill="#fae8de" stroke="#fae8de"/><path d="M182.3 132.8 L184.3 133.9 L187.7 131.6 L185.8 130.5 Z" fill="#dae9f2" stroke="#dae9f2"/><path d="M85.8 78.3 L87.7 78.7 L91.4 75.2 L89.5 74.5 Z" fill="#195696" stroke="#195696"/><path d="M174.3 113.5 L176.2 116.6 L179.7 114.1 L177.8 110.9 Z" fill="#96c7df" stroke="#96c7df"/><path d="M115.5 128.7 L117.5 129.1 L121.0 120.2 L119.1 119.7 Z" fill="#c0dceb" stroke="#c0dceb"/><path d="M143.5 102.3 L145.4 102.7 L149.0 98.2 L147.0 97.8 Z" fill="#529dc8" stroke="#529dc8"/><path d="M114.5 165.8 L116.4 166.3 L120.0 151.2 L118.0 150.8 Z" fill="#fcdecd" stroke="#fcdecd"/><path d="M122.6 184.9 L124.5 185.3 L128.0 168.8 L126.1 168.3 Z" fill="#f3a481" stroke="#f3a481"/><path d="M98.0 111.2 L100.0 117.2 L103.6 108.0 L101.6 102.9 Z" fill="#84bcd9" stroke="#84bcd9"/><path d="M134.0 106.7 L136.0 107.1 L139.6 101.4 L137.6 101.0 Z" fill="#65a9cf" stroke="#65a9cf"/><path d="M220.6 140.4 L222.6 140.9 L225.9 138.7 L224.0 138.2 Z" fill="#eaf1f5" stroke="#eaf1f5"/><path d="M176.5 126.2 L178.4 130.2 L181.9 127.7 L180.0 123.7 Z" fill="#cae1ee" stroke="#cae1ee"/><path d="M184.3 133.9 L186.2 134.9 L189.7 132.6 L187.7 131.6 Z" fill="#dbeaf2" stroke="#dbeaf2"/><path d="M126.6 112.6 L128.5 113.1 L132.1 106.2 L130.2 105.8 Z" fill="#81bad8" stroke="#81bad8"/><path d="M112.2 149.6 L114.2 150.0 L117.7 139.7 L115.8 139.3 Z" fill="#f6f7f7" stroke="#f6f7f7"/><path d="M205.4 139.4 L207.3 139.9 L210.7 137.8 L208.8 137.2 Z" fill="#e9f0f4" stroke="#e9f0f4"/><path d="M53.6 86.4 L55.5 86.6 L59.3 83.5 L57.4 83.3 Z" fill="#2870b1" stroke="#2870b1"/><path d="M113.9 138.8 L115.8 139.3 L119.4 129.6 L117.5 129.1 Z" fill="#deebf2" stroke="#deebf2"/><path d="M87.7 78.7 L89.6 79.7 L93.3 76.7 L91.4 75.2 Z" fill="#1b5a9c" stroke="#1b5a9c"/><path d="M65.0 84.1 L66.9 84.3 L70.6 80.9 L68.7 80.7 Z" fill="#2369ad" stroke="#2369ad"/><path d="M121.0 120.2 L123.0 120.6 L126.6 112.6 L124.6 112.2 Z" fill="#a0cce2" stroke="#a0cce2"/><path d="M42.2 88.5 L44.1 88.6 L47.9 85.9 L46.1 85.7 Z" fill="#2e77b5" stroke="#2e77b5"/><path d="M76.3 81.4 L78.2 81.6 L82.0 77.9 L80.1 77.7 Z" fill="#1e61a5" stroke="#1e61a5"/><path d="M156.8 99.9 L158.7 100.4 L162.3 97.0 L160.3 96.6 Z" fill="#4997c5" stroke="#4997c5"/><path d="M186.2 134.9 L188.2 135.9 L191.6 133.7 L189.7 132.6 Z" fill="#deebf2" stroke="#deebf2"/><path d="M89.6 79.7 L91.5 80.6 L95.3 77.9 L93.3 76.7 Z" fill="#1c5c9f" stroke="#1c5c9f"/><path d="M117.5 129.1 L119.4 129.6 L123.0 120.6 L121.0 120.2 Z" fill="#c0dceb" stroke="#c0dceb"/><path d="M101.3 88.7 L103.2 91.6 L106.9 86.9 L105.0 85.4 Z" fill="#2f79b5" stroke="#2f79b5"/><path d="M145.4 102.7 L147.3 103.1 L150.9 98.7 L149.0 98.2 Z" fill="#529dc8" stroke="#529dc8"/><path d="M116.4 166.3 L118.4 166.7 L121.9 151.6 L120.0 151.2 Z" fill="#fcdecd" stroke="#fcdecd"/><path d="M136.0 107.1 L137.9 107.5 L141.5 101.8 L139.6 101.4 Z" fill="#65a9cf" stroke="#65a9cf"/><path d="M124.5 185.3 L126.4 185.7 L130.0 169.2 L128.0 168.8 Z" fill="#f3a481" stroke="#f3a481"/><path d="M91.5 80.6 L93.5 81.6 L97.2 79.1 L95.3 77.9 Z" fill="#1e61a5" stroke="#1e61a5"/><path d="M188.2 135.9 L190.1 136.9 L193.6 134.6 L191.6 133.7 Z" fill="#e0ecf3" stroke="#e0ecf3"/><path d="M172.3 110.2 L174.3 113.5 L177.8 110.9 L175.8 107.6 Z" fill="#84bcd9" stroke="#84bcd9"/><path d="M207.3 139.9 L209.3 140.5 L212.7 138.3 L210.7 137.8 Z" fill="#e9f0f4" stroke="#e9f0f4"/><path d="M128.5 113.1 L130.4 113.5 L134.0 106.7 L132.1 106.2 Z" fill="#81bad8" stroke="#81bad8"/><path d="M114.2 150.0 L116.1 150.4 L119.7 140.1 L117.7 139.7 Z" fill="#f6f7f7" stroke="#f6f7f7"/><path d="M115.8 139.3 L117.7 139.7 L121.3 130.0 L119.4 129.6 Z" fill="#deebf2" stroke="#deebf2"/><path d="M99.3 86.1 L101.3 88.7 L105.0 85.4 L103.0 83.5 Z" fill="#2a71b2" stroke="#2a71b2"/><path d="M123.0 120.6 L124.9 121.1 L128.5 113.1 L126.6 112.6 Z" fill="#a0cce2" stroke="#a0cce2"/><path d="M55.5 86.6 L57.4 86.8 L61.2 83.7 L59.3 83.5 Z" fill="#2870b1" stroke="#2870b1"/><path d="M66.9 84.3 L68.8 84.4 L72.5 81.0 L70.6 80.9 Z" fill="#2369ad" stroke="#2369ad"/><path d="M93.5 81.6 L95.4 82.7 L99.1 80.3 L97.2 79.1 Z" fill="#1f63a8" stroke="#1f63a8"/><path d="M158.7 100.4 L160.7 100.8 L164.2 97.5 L162.3 97.0 Z" fill="#4997c5" stroke="#4997c5"/><path d="M128.7 202.1 L130.6 197.2 L134.1 181.9 L132.2 185.6 Z" fill="#d86551" stroke="#d86551"/><path d="M44.1 88.6 L46.0 88.8 L49.8 86.0 L47.9 85.9 Z" fill="#2c75b4" stroke="#2c75b4"/><path d="M190.1 136.9 L192.1 137.8 L195.5 135.6 L193.6 134.6 Z" fill="#e1edf3" stroke="#e1edf3"/><path d="M81.5 137.3 L83.9 156.8 L87.4 144.6 L85.1 127.2 Z" fill="#eff3f5" stroke="#eff3f5"/><path d="M97.3 84.1 L99.3 86.1 L103.0 83.5 L101.1 81.7 Z" fill="#266caf" stroke="#266caf"/><path d="M119.4 129.6 L121.3 130.0 L124.9 121.1 L123.0 120.6 Z" fill="#c0dceb" stroke="#c0dceb"/><path d="M95.4 82.7 L97.3 84.1 L101.1 81.7 L99.1 80.3 Z" fill="#2267ac" stroke="#2267ac"/><path d="M78.2 81.6 L80.1 81.8 L83.9 78.1 L82.0 77.9 Z" fill="#1d5fa2" stroke="#1d5fa2"/><path d="M147.3 103.1 L149.3 103.5 L152.9 99.1 L150.9 98.7 Z" fill="#529dc8" stroke="#529dc8"/><path d="M118.4 166.7 L120.3 167.1 L123.8 152.0 L121.9 151.6 Z" fill="#fcdecd" stroke="#fcdecd"/><path d="M137.9 107.5 L139.9 107.9 L143.5 102.3 L141.5 101.8 Z" fill="#65a9cf" stroke="#65a9cf"/><path d="M174.6 122.5 L176.5 126.2 L180.0 123.7 L178.1 119.9 Z" fill="#b8d8e9" stroke="#b8d8e9"/><path d="M126.4 185.7 L128.4 186.1 L131.9 169.6 L130.0 169.2 Z" fill="#f3a481" stroke="#f3a481"/><path d="M209.3 140.5 L211.3 141.0 L214.7 138.8 L212.7 138.3 Z" fill="#e9f0f4" stroke="#e9f0f4"/><path d="M127.0 212.4 L128.9 205.4 L132.5 191.3 L130.6 197.2 Z" fill="#c2383a" stroke="#c2383a"/><path d="M130.4 113.5 L132.4 113.9 L136.0 107.1 L134.0 106.7 Z" fill="#81bad8" stroke="#81bad8"/><path d="M99.6 96.9 L101.6 102.9 L105.2 95.8 L103.2 91.6 Z" fill="#408fc1" stroke="#408fc1"/><path d="M117.7 139.7 L119.7 140.1 L123.2 130.4 L121.3 130.0 Z" fill="#deebf2" stroke="#deebf2"/><path d="M116.1 150.4 L118.0 150.8 L121.6 140.5 L119.7 140.1 Z" fill="#f7f6f6" stroke="#f7f6f6"/><path d="M192.1 137.8 L194.1 138.6 L197.5 136.4 L195.5 135.6 Z" fill="#e3edf3" stroke="#e3edf3"/><path d="M124.9 121.1 L126.8 121.5 L130.4 113.5 L128.5 113.1 Z" fill="#a0cce2" stroke="#a0cce2"/><path d="M160.7 100.8 L162.6 101.3 L166.2 98.1 L164.2 97.5 Z" fill="#4997c5" stroke="#4997c5"/><path d="M57.4 86.8 L59.3 87.0 L63.1 83.9 L61.2 83.7 Z" fill="#2870b1" stroke="#2870b1"/><path d="M68.8 84.4 L70.7 84.6 L74.4 81.2 L72.5 81.0 Z" fill="#2369ad" stroke="#2369ad"/><path d="M121.3 130.0 L123.2 130.4 L126.8 121.5 L124.9 121.1 Z" fill="#c2ddec" stroke="#c2ddec"/><path d="M170.4 106.6 L172.3 110.2 L175.8 107.6 L173.9 103.9 Z" fill="#6eaed2" stroke="#6eaed2"/><path d="M149.3 103.5 L151.2 103.9 L154.8 99.5 L152.9 99.1 Z" fill="#529dc8" stroke="#529dc8"/><path d="M46.0 88.8 L47.9 89.0 L51.7 86.2 L49.8 86.0 Z" fill="#2c75b4" stroke="#2c75b4"/><path d="M80.1 81.8 L82.0 82.0 L85.8 78.3 L83.9 78.1 Z" fill="#1d5fa2" stroke="#1d5fa2"/><path d="M194.1 138.6 L196.0 139.4 L199.5 137.2 L197.5 136.4 Z" fill="#e4eef4" stroke="#e4eef4"/><path d="M211.3 141.0 L213.2 141.5 L216.6 139.4 L214.7 138.8 Z" fill="#eaf1f5" stroke="#eaf1f5"/><path d="M139.9 107.9 L141.8 108.3 L145.4 102.7 L143.5 102.3 Z" fill="#65a9cf" stroke="#65a9cf"/><path d="M120.3 167.1 L122.2 167.5 L125.8 152.4 L123.8 152.0 Z" fill="#fcdecd" stroke="#fcdecd"/><path d="M128.4 186.1 L130.3 186.5 L133.8 169.9 L131.9 169.6 Z" fill="#f3a481" stroke="#f3a481"/><path d="M132.4 113.9 L134.3 114.3 L137.9 107.5 L136.0 107.1 Z" fill="#81bad8" stroke="#81bad8"/><path d="M119.7 140.1 L121.6 140.5 L125.2 130.8 L123.2 130.4 Z" fill="#deebf2" stroke="#deebf2"/><path d="M34.6 90.6 L36.5 90.8 L40.3 88.3 L38.5 88.1 Z" fill="#307ab6" stroke="#307ab6"/><path d="M118.0 150.8 L120.0 151.2 L123.5 140.9 L121.6 140.5 Z" fill="#f7f6f6" stroke="#f7f6f6"/><path d="M162.6 101.3 L164.6 101.9 L168.1 98.8 L166.2 98.1 Z" fill="#4c99c6" stroke="#4c99c6"/><path d="M126.8 121.5 L128.8 121.9 L132.4 113.9 L130.4 113.5 Z" fill="#a0cce2" stroke="#a0cce2"/><path d="M196.0 139.4 L198.0 140.2 L201.4 138.0 L199.5 137.2 Z" fill="#e6eff4" stroke="#e6eff4"/><path d="M172.7 119.3 L174.6 122.5 L178.1 119.9 L176.2 116.6 Z" fill="#a7d0e4" stroke="#a7d0e4"/><path d="M85.1 127.2 L87.4 144.6 L90.9 132.3 L88.6 117.4 Z" fill="#d1e5f0" stroke="#d1e5f0"/><path d="M123.2 130.4 L125.2 130.8 L128.8 121.9 L126.8 121.5 Z" fill="#c2ddec" stroke="#c2ddec"/><path d="M151.2 103.9 L153.2 104.3 L156.8 99.9 L154.8 99.5 Z" fill="#569fc9" stroke="#569fc9"/><path d="M59.3 87.0 L61.2 87.1 L65.0 84.1 L63.1 83.9 Z" fill="#276eb0" stroke="#276eb0"/><path d="M70.7 84.6 L72.6 84.8 L76.3 81.4 L74.4 81.2 Z" fill="#2267ac" stroke="#2267ac"/><path d="M213.2 141.5 L215.2 142.1 L218.6 139.9 L216.6 139.4 Z" fill="#eaf1f5" stroke="#eaf1f5"/><path d="M168.5 104.2 L170.4 106.6 L173.9 103.9 L172.0 101.4 Z" fill="#5fa5cd" stroke="#5fa5cd"/><path d="M164.6 101.9 L166.5 102.8 L170.1 99.8 L168.1 98.8 Z" fill="#4f9bc7" stroke="#4f9bc7"/><path d="M141.8 108.3 L143.7 108.7 L147.3 103.1 L145.4 102.7 Z" fill="#68abd0" stroke="#68abd0"/><path d="M47.9 89.0 L49.8 89.2 L53.6 86.4 L51.7 86.2 Z" fill="#2c75b4" stroke="#2c75b4"/><path d="M122.2 167.5 L124.2 167.9 L127.7 152.8 L125.8 152.4 Z" fill="#fcdecd" stroke="#fcdecd"/><path d="M95.9 102.9 L98.0 111.2 L101.6 102.9 L99.6 96.9 Z" fill="#5ca3cb" stroke="#5ca3cb"/><path d="M82.0 82.0 L84.0 82.2 L87.7 78.7 L85.8 78.3 Z" fill="#1d5fa2" stroke="#1d5fa2"/><path d="M134.3 114.3 L136.3 114.8 L139.9 107.9 L137.9 107.5 Z" fill="#81bad8" stroke="#81bad8"/><path d="M121.6 140.5 L123.5 140.9 L127.1 131.3 L125.2 130.8 Z" fill="#deebf2" stroke="#deebf2"/><path d="M120.0 151.2 L121.9 151.6 L125.5 141.4 L123.5 140.9 Z" fill="#f7f6f6" stroke="#f7f6f6"/><path d="M166.5 102.8 L168.5 104.2 L172.0 101.4 L170.1 99.8 Z" fill="#529dc8" stroke="#529dc8"/><path d="M198.0 140.2 L199.9 140.9 L203.4 138.7 L201.4 138.0 Z" fill="#e7f0f4" stroke="#e7f0f4"/><path d="M128.8 121.9 L130.7 122.3 L134.3 114.3 L132.4 113.9 Z" fill="#a0cce2" stroke="#a0cce2"/><path d="M36.5 90.8 L38.4 91.0 L42.2 88.5 L40.3 88.3 Z" fill="#2f79b5" stroke="#2f79b5"/><path d="M174.9 132.6 L176.9 134.0 L180.4 131.6 L178.4 130.2 Z" fill="#d5e7f1" stroke="#d5e7f1"/><path d="M97.6 92.1 L99.6 96.9 L103.2 91.6 L101.3 88.7 Z" fill="#3681ba" stroke="#3681ba"/><path d="M125.2 130.8 L127.1 131.3 L130.7 122.3 L128.8 121.9 Z" fill="#c2ddec" stroke="#c2ddec"/><path d="M130.3 186.5 L132.2 185.6 L135.8 169.1 L133.8 169.9 Z" fill="#f4a683" stroke="#f4a683"/><path d="M153.2 104.3 L155.1 104.7 L158.7 100.4 L156.8 99.9 Z" fill="#569fc9" stroke="#569fc9"/><path d="M215.2 142.1 L217.2 142.6 L220.6 140.4 L218.6 139.9 Z" fill="#eaf1f5" stroke="#eaf1f5"/><path d="M176.9 134.0 L178.8 135.2 L182.3 132.8 L180.4 131.6 Z" fill="#d7e8f1" stroke="#d7e8f1"/><path d="M170.7 116.4 L172.7 119.3 L176.2 116.6 L174.3 113.5 Z" fill="#98c8e0" stroke="#98c8e0"/><path d="M84.0 82.2 L85.9 82.7 L89.6 79.7 L87.7 78.7 Z" fill="#1d5fa2" stroke="#1d5fa2"/><path d="M88.6 117.4 L90.9 132.3 L94.4 120.8 L92.3 109.5 Z" fill="#a7d0e4" stroke="#a7d0e4"/><path d="M61.2 87.1 L63.1 87.3 L66.9 84.3 L65.0 84.1 Z" fill="#276eb0" stroke="#276eb0"/><path d="M143.7 108.7 L145.7 109.2 L149.3 103.5 L147.3 103.1 Z" fill="#68abd0" stroke="#68abd0"/><path d="M72.6 84.8 L74.5 85.0 L78.2 81.6 L76.3 81.4 Z" fill="#2267ac" stroke="#2267ac"/><path d="M92.3 109.5 L94.4 120.8 L98.0 111.2 L95.9 102.9 Z" fill="#81bad8" stroke="#81bad8"/><path d="M124.2 167.9 L126.1 168.3 L129.6 153.3 L127.7 152.8 Z" fill="#fcdecd" stroke="#fcdecd"/><path d="M199.9 140.9 L201.9 141.5 L205.4 139.4 L203.4 138.7 Z" fill="#e7f0f4" stroke="#e7f0f4"/><path d="M136.3 114.8 L138.2 115.2 L141.8 108.3 L139.9 107.9 Z" fill="#81bad8" stroke="#81bad8"/><path d="M49.8 89.2 L51.7 89.4 L55.5 86.6 L53.6 86.4 Z" fill="#2b73b3" stroke="#2b73b3"/><path d="M178.8 135.2 L180.8 136.2 L184.3 133.9 L182.3 132.8 Z" fill="#dae9f2" stroke="#dae9f2"/><path d="M123.5 140.9 L125.5 141.4 L129.1 131.7 L127.1 131.3 Z" fill="#deebf2" stroke="#deebf2"/><path d="M121.9 151.6 L123.8 152.0 L127.4 141.8 L125.5 141.4 Z" fill="#f7f6f6" stroke="#f7f6f6"/><path d="M130.7 122.3 L132.7 122.7 L136.3 114.8 L134.3 114.3 Z" fill="#a0cce2" stroke="#a0cce2"/><path d="M173.0 128.9 L174.9 132.6 L178.4 130.2 L176.5 126.2 Z" fill="#cce2ef" stroke="#cce2ef"/><path d="M38.4 91.0 L40.2 91.2 L44.1 88.6 L42.2 88.5 Z" fill="#2f79b5" stroke="#2f79b5"/><path d="M85.9 82.7 L87.8 83.3 L91.5 80.6 L89.6 79.7 Z" fill="#1e61a5" stroke="#1e61a5"/><path d="M127.1 131.3 L129.1 131.7 L132.7 122.7 L130.7 122.3 Z" fill="#c2ddec" stroke="#c2ddec"/><path d="M180.8 136.2 L182.7 137.2 L186.2 134.9 L184.3 133.9 Z" fill="#dbeaf2" stroke="#dbeaf2"/><path d="M217.2 142.6 L219.2 143.1 L222.6 140.9 L220.6 140.4 Z" fill="#eaf1f5" stroke="#eaf1f5"/><path d="M155.1 104.7 L157.1 105.1 L160.7 100.8 L158.7 100.4 Z" fill="#569fc9" stroke="#569fc9"/><path d="M201.9 141.5 L203.9 142.1 L207.3 139.9 L205.4 139.4 Z" fill="#e9f0f4" stroke="#e9f0f4"/><path d="M145.7 109.2 L147.6 109.6 L151.2 103.9 L149.3 103.5 Z" fill="#68abd0" stroke="#68abd0"/><path d="M126.1 168.3 L128.0 168.8 L131.6 153.7 L129.6 153.3 Z" fill="#fcdecd" stroke="#fcdecd"/><path d="M63.1 87.3 L65.0 87.5 L68.8 84.4 L66.9 84.3 Z" fill="#266caf" stroke="#266caf"/><path d="M138.2 115.2 L140.1 115.6 L143.7 108.7 L141.8 108.3 Z" fill="#81bad8" stroke="#81bad8"/><path d="M74.5 85.0 L76.4 85.2 L80.1 81.8 L78.2 81.6 Z" fill="#2065ab" stroke="#2065ab"/><path d="M168.8 113.4 L170.7 116.4 L174.3 113.5 L172.3 110.2 Z" fill="#87beda" stroke="#87beda"/><path d="M182.7 137.2 L184.7 138.2 L188.2 135.9 L186.2 134.9 Z" fill="#deebf2" stroke="#deebf2"/><path d="M95.6 88.5 L97.6 92.1 L101.3 88.7 L99.3 86.1 Z" fill="#2c75b4" stroke="#2c75b4"/><path d="M125.5 141.4 L127.4 141.8 L131.0 132.1 L129.1 131.7 Z" fill="#deebf2" stroke="#deebf2"/><path d="M87.8 83.3 L89.7 84.1 L93.5 81.6 L91.5 80.6 Z" fill="#1f63a8" stroke="#1f63a8"/><path d="M123.8 152.0 L125.8 152.4 L129.3 142.2 L127.4 141.8 Z" fill="#f7f6f6" stroke="#f7f6f6"/><path d="M132.7 122.7 L134.6 123.1 L138.2 115.2 L136.3 114.8 Z" fill="#a0cce2" stroke="#a0cce2"/><path d="M51.7 89.4 L53.6 89.5 L57.4 86.8 L55.5 86.6 Z" fill="#2b73b3" stroke="#2b73b3"/><path d="M129.1 131.7 L131.0 132.1 L134.6 123.1 L132.7 122.7 Z" fill="#c2ddec" stroke="#c2ddec"/><path d="M157.1 105.1 L159.0 105.6 L162.6 101.3 L160.7 100.8 Z" fill="#569fc9" stroke="#569fc9"/><path d="M184.7 138.2 L186.6 139.1 L190.1 136.9 L188.2 135.9 Z" fill="#e0ecf3" stroke="#e0ecf3"/><path d="M40.2 91.2 L42.1 91.4 L46.0 88.8 L44.1 88.6 Z" fill="#2f79b5" stroke="#2f79b5"/><path d="M89.7 84.1 L91.7 85.0 L95.4 82.7 L93.5 81.6 Z" fill="#2065ab" stroke="#2065ab"/><path d="M203.9 142.1 L205.9 142.7 L209.3 140.5 L207.3 139.9 Z" fill="#e9f0f4" stroke="#e9f0f4"/><path d="M147.6 109.6 L149.6 110.0 L153.2 104.3 L151.2 103.9 Z" fill="#68abd0" stroke="#68abd0"/><path d="M93.6 86.4 L95.6 88.5 L99.3 86.1 L97.3 84.1 Z" fill="#266caf" stroke="#266caf"/><path d="M128.0 168.8 L130.0 169.2 L133.5 154.1 L131.6 153.7 Z" fill="#fcdecd" stroke="#fcdecd"/><path d="M140.1 115.6 L142.1 116.0 L145.7 109.2 L143.7 108.7 Z" fill="#81bad8" stroke="#81bad8"/><path d="M91.7 85.0 L93.6 86.4 L97.3 84.1 L95.4 82.7 Z" fill="#2369ad" stroke="#2369ad"/><path d="M130.6 197.2 L132.5 191.3 L136.0 177.1 L134.1 181.9 Z" fill="#e58368" stroke="#e58368"/><path d="M171.1 125.3 L173.0 128.9 L176.5 126.2 L174.6 122.5 Z" fill="#bbdaea" stroke="#bbdaea"/><path d="M127.4 141.8 L129.3 142.2 L132.9 132.5 L131.0 132.1 Z" fill="#deebf2" stroke="#deebf2"/><path d="M186.6 139.1 L188.6 140.0 L192.1 137.8 L190.1 136.9 Z" fill="#e1edf3" stroke="#e1edf3"/><path d="M125.8 152.4 L127.7 152.8 L131.3 142.6 L129.3 142.2 Z" fill="#f7f6f6" stroke="#f7f6f6"/><path d="M65.0 87.5 L66.9 87.7 L70.7 84.6 L68.8 84.4 Z" fill="#266caf" stroke="#266caf"/><path d="M134.6 123.1 L136.5 123.6 L140.1 115.6 L138.2 115.2 Z" fill="#a0cce2" stroke="#a0cce2"/><path d="M76.4 85.2 L78.3 85.3 L82.0 82.0 L80.1 81.8 Z" fill="#2065ab" stroke="#2065ab"/><path d="M53.6 89.5 L55.5 89.7 L59.3 87.0 L57.4 86.8 Z" fill="#2a71b2" stroke="#2a71b2"/><path d="M159.0 105.6 L161.0 106.0 L164.6 101.9 L162.6 101.3 Z" fill="#569fc9" stroke="#569fc9"/><path d="M166.9 109.9 L168.8 113.4 L172.3 110.2 L170.4 106.6 Z" fill="#75b2d4" stroke="#75b2d4"/><path d="M131.0 132.1 L132.9 132.5 L136.5 123.6 L134.6 123.1 Z" fill="#c2ddec" stroke="#c2ddec"/><path d="M205.9 142.7 L207.8 143.2 L211.3 141.0 L209.3 140.5 Z" fill="#e9f0f4" stroke="#e9f0f4"/><path d="M132.2 185.6 L134.1 181.9 L137.7 166.5 L135.8 169.1 Z" fill="#f6b191" stroke="#f6b191"/><path d="M188.6 140.0 L190.6 140.8 L194.1 138.6 L192.1 137.8 Z" fill="#e3edf3" stroke="#e3edf3"/><path d="M149.6 110.0 L151.5 110.4 L155.1 104.7 L153.2 104.3 Z" fill="#68abd0" stroke="#68abd0"/><path d="M42.1 91.4 L44.0 91.5 L47.9 89.0 L46.0 88.8 Z" fill="#2e77b5" stroke="#2e77b5"/><path d="M130.0 169.2 L131.9 169.6 L135.5 154.5 L133.5 154.1 Z" fill="#fcdecd" stroke="#fcdecd"/><path d="M142.1 116.0 L144.0 116.4 L147.6 109.6 L145.7 109.2 Z" fill="#81bad8" stroke="#81bad8"/><path d="M129.3 142.2 L131.3 142.6 L134.9 132.9 L132.9 132.5 Z" fill="#deebf2" stroke="#deebf2"/><path d="M127.7 152.8 L129.6 153.3 L133.2 143.0 L131.3 142.6 Z" fill="#f7f6f6" stroke="#f7f6f6"/><path d="M93.8 95.1 L95.9 102.9 L99.6 96.9 L97.6 92.1 Z" fill="#3b88be" stroke="#3b88be"/><path d="M136.5 123.6 L138.5 124.0 L142.1 116.0 L140.1 115.6 Z" fill="#a0cce2" stroke="#a0cce2"/><path d="M161.0 106.0 L163.0 106.7 L166.5 102.8 L164.6 101.9 Z" fill="#59a1ca" stroke="#59a1ca"/><path d="M66.9 87.7 L68.8 87.9 L72.6 84.8 L70.7 84.6 Z" fill="#266caf" stroke="#266caf"/><path d="M78.3 85.3 L80.2 85.5 L84.0 82.2 L82.0 82.0 Z" fill="#2065ab" stroke="#2065ab"/><path d="M30.7 93.0 L32.6 93.2 L36.5 90.8 L34.6 90.6 Z" fill="#327cb7" stroke="#327cb7"/><path d="M190.6 140.8 L192.5 141.6 L196.0 139.4 L194.1 138.6 Z" fill="#e4eef4" stroke="#e4eef4"/><path d="M207.8 143.2 L209.8 143.7 L213.2 141.5 L211.3 141.0 Z" fill="#e9f0f4" stroke="#e9f0f4"/><path d="M132.9 132.5 L134.9 132.9 L138.5 124.0 L136.5 123.6 Z" fill="#c2ddec" stroke="#c2ddec"/><path d="M169.1 122.4 L171.1 125.3 L174.6 122.5 L172.7 119.3 Z" fill="#a9d1e5" stroke="#a9d1e5"/><path d="M55.5 89.7 L57.4 89.9 L61.2 87.1 L59.3 87.0 Z" fill="#2a71b2" stroke="#2a71b2"/><path d="M164.9 107.8 L166.9 109.9 L170.4 106.6 L168.5 104.2 Z" fill="#65a9cf" stroke="#65a9cf"/><path d="M163.0 106.7 L164.9 107.8 L168.5 104.2 L166.5 102.8 Z" fill="#5ca3cb" stroke="#5ca3cb"/><path d="M151.5 110.4 L153.5 110.7 L157.1 105.1 L155.1 104.7 Z" fill="#68abd0" stroke="#68abd0"/><path d="M144.0 116.4 L146.0 116.8 L149.6 110.0 L147.6 109.6 Z" fill="#81bad8" stroke="#81bad8"/><path d="M44.0 91.5 L45.9 91.7 L49.8 89.2 L47.9 89.0 Z" fill="#2e77b5" stroke="#2e77b5"/><path d="M131.9 169.6 L133.8 169.9 L137.4 154.7 L135.5 154.5 Z" fill="#fcdecd" stroke="#fcdecd"/><path d="M192.5 141.6 L194.5 142.4 L198.0 140.2 L196.0 139.4 Z" fill="#e6eff4" stroke="#e6eff4"/><path d="M131.3 142.6 L133.2 143.0 L136.8 133.3 L134.9 132.9 Z" fill="#deebf2" stroke="#deebf2"/><path d="M129.6 153.3 L131.6 153.7 L135.2 143.4 L133.2 143.0 Z" fill="#f7f6f6" stroke="#f7f6f6"/><path d="M138.5 124.0 L140.4 124.4 L144.0 116.4 L142.1 116.0 Z" fill="#a0cce2" stroke="#a0cce2"/><path d="M209.8 143.7 L211.8 144.3 L215.2 142.1 L213.2 141.5 Z" fill="#eaf1f5" stroke="#eaf1f5"/><path d="M80.2 85.5 L82.1 85.7 L85.9 82.7 L84.0 82.2 Z" fill="#1f63a8" stroke="#1f63a8"/><path d="M68.8 87.9 L70.7 88.0 L74.5 85.0 L72.6 84.8 Z" fill="#246aae" stroke="#246aae"/><path d="M134.9 132.9 L136.8 133.3 L140.4 124.4 L138.5 124.0 Z" fill="#c2ddec" stroke="#c2ddec"/><path d="M32.6 93.2 L34.4 93.4 L38.4 91.0 L36.5 90.8 Z" fill="#307ab6" stroke="#307ab6"/><path d="M167.2 119.8 L169.1 122.4 L172.7 119.3 L170.7 116.4 Z" fill="#9dcbe1" stroke="#9dcbe1"/><path d="M57.4 89.9 L59.3 90.1 L63.1 87.3 L61.2 87.1 Z" fill="#2870b1" stroke="#2870b1"/><path d="M153.5 110.7 L155.4 111.1 L159.0 105.6 L157.1 105.1 Z" fill="#68abd0" stroke="#68abd0"/><path d="M194.5 142.4 L196.5 143.1 L199.9 140.9 L198.0 140.2 Z" fill="#e6eff4" stroke="#e6eff4"/><path d="M171.4 135.1 L173.3 136.4 L176.9 134.0 L174.9 132.6 Z" fill="#d5e7f1" stroke="#d5e7f1"/><path d="M146.0 116.8 L147.9 117.2 L151.5 110.4 L149.6 110.0 Z" fill="#81bad8" stroke="#81bad8"/><path d="M133.2 143.0 L135.2 143.4 L138.8 133.7 L136.8 133.3 Z" fill="#deebf2" stroke="#deebf2"/><path d="M173.3 136.4 L175.3 137.5 L178.8 135.2 L176.9 134.0 Z" fill="#d8e9f1" stroke="#d8e9f1"/><path d="M45.9 91.7 L47.8 91.9 L51.7 89.4 L49.8 89.2 Z" fill="#2c75b4" stroke="#2c75b4"/><path d="M131.6 153.7 L133.5 154.1 L137.1 143.8 L135.2 143.4 Z" fill="#f7f6f6" stroke="#f7f6f6"/><path d="M140.4 124.4 L142.4 124.8 L146.0 116.8 L144.0 116.4 Z" fill="#a0cce2" stroke="#a0cce2"/><path d="M211.8 144.3 L213.8 144.8 L217.2 142.6 L215.2 142.1 Z" fill="#eaf1f5" stroke="#eaf1f5"/><path d="M82.1 85.7 L84.0 86.0 L87.8 83.3 L85.9 82.7 Z" fill="#1f63a8" stroke="#1f63a8"/><path d="M136.8 133.3 L138.8 133.7 L142.4 124.8 L140.4 124.4 Z" fill="#c2ddec" stroke="#c2ddec"/><path d="M175.3 137.5 L177.3 138.5 L180.8 136.2 L178.8 135.2 Z" fill="#dae9f2" stroke="#dae9f2"/><path d="M169.4 131.6 L171.4 135.1 L174.9 132.6 L173.0 128.9 Z" fill="#cfe4ef" stroke="#cfe4ef"/><path d="M133.8 169.9 L135.8 169.1 L139.4 153.9 L137.4 154.7 Z" fill="#fce0d0" stroke="#fce0d0"/><path d="M196.5 143.1 L198.5 143.7 L201.9 141.5 L199.9 140.9 Z" fill="#e7f0f4" stroke="#e7f0f4"/><path d="M128.9 205.4 L130.8 194.2 L134.4 182.0 L132.5 191.3 Z" fill="#dc6e57" stroke="#dc6e57"/><path d="M70.7 88.0 L72.6 88.2 L76.4 85.2 L74.5 85.0 Z" fill="#246aae" stroke="#246aae"/><path d="M165.2 117.1 L167.2 119.8 L170.7 116.4 L168.8 113.4 Z" fill="#90c4dd" stroke="#90c4dd"/><path d="M34.4 93.4 L36.3 93.5 L40.2 91.2 L38.4 91.0 Z" fill="#307ab6" stroke="#307ab6"/><path d="M155.4 111.1 L157.4 111.4 L161.0 106.0 L159.0 105.6 Z" fill="#68abd0" stroke="#68abd0"/><path d="M59.3 90.1 L61.2 90.2 L65.0 87.5 L63.1 87.3 Z" fill="#2870b1" stroke="#2870b1"/><path d="M147.9 117.2 L149.9 117.5 L153.5 110.7 L151.5 110.4 Z" fill="#81bad8" stroke="#81bad8"/><path d="M177.3 138.5 L179.2 139.5 L182.7 137.2 L180.8 136.2 Z" fill="#ddebf2" stroke="#ddebf2"/><path d="M91.8 90.6 L93.8 95.1 L97.6 92.1 L95.6 88.5 Z" fill="#2e77b5" stroke="#2e77b5"/><path d="M135.2 143.4 L137.1 143.8 L140.7 134.1 L138.8 133.7 Z" fill="#deebf2" stroke="#deebf2"/><path d="M213.8 144.8 L215.8 145.3 L219.2 143.1 L217.2 142.6 Z" fill="#eaf1f5" stroke="#eaf1f5"/><path d="M142.4 124.8 L144.3 125.1 L147.9 117.2 L146.0 116.8 Z" fill="#a0cce2" stroke="#a0cce2"/><path d="M133.5 154.1 L135.5 154.5 L139.1 144.1 L137.1 143.8 Z" fill="#f6f7f7" stroke="#f6f7f7"/><path d="M84.0 86.0 L86.0 86.6 L89.7 84.1 L87.8 83.3 Z" fill="#2065ab" stroke="#2065ab"/><path d="M47.8 91.9 L49.7 92.1 L53.6 89.5 L51.7 89.4 Z" fill="#2c75b4" stroke="#2c75b4"/><path d="M198.5 143.7 L200.4 144.3 L203.9 142.1 L201.9 141.5 Z" fill="#e7f0f4" stroke="#e7f0f4"/><path d="M138.8 133.7 L140.7 134.1 L144.3 125.1 L142.4 124.8 Z" fill="#c2ddec" stroke="#c2ddec"/><path d="M179.2 139.5 L181.2 140.4 L184.7 138.2 L182.7 137.2 Z" fill="#deebf2" stroke="#deebf2"/><path d="M157.4 111.4 L159.4 111.7 L163.0 106.7 L161.0 106.0 Z" fill="#68abd0" stroke="#68abd0"/><path d="M90.1 97.4 L92.3 109.5 L95.9 102.9 L93.8 95.1 Z" fill="#4291c2" stroke="#4291c2"/><path d="M72.6 88.2 L74.5 88.4 L78.3 85.3 L76.4 85.2 Z" fill="#2369ad" stroke="#2369ad"/><path d="M163.3 114.1 L165.2 117.1 L168.8 113.4 L166.9 109.9 Z" fill="#7eb8d7" stroke="#7eb8d7"/><path d="M36.3 93.5 L38.2 93.7 L42.1 91.4 L40.2 91.2 Z" fill="#2f79b5" stroke="#2f79b5"/><path d="M86.0 86.6 L87.9 87.3 L91.7 85.0 L89.7 84.1 Z" fill="#2267ac" stroke="#2267ac"/><path d="M149.9 117.5 L151.8 117.7 L155.4 111.1 L153.5 110.7 Z" fill="#81bad8" stroke="#81bad8"/><path d="M61.2 90.2 L63.1 90.4 L66.9 87.7 L65.0 87.5 Z" fill="#2870b1" stroke="#2870b1"/><path d="M181.2 140.4 L183.1 141.4 L186.6 139.1 L184.7 138.2 Z" fill="#e0ecf3" stroke="#e0ecf3"/><path d="M167.5 128.4 L169.4 131.6 L173.0 128.9 L171.1 125.3 Z" fill="#bddbea" stroke="#bddbea"/><path d="M134.1 181.9 L136.0 177.1 L139.6 162.9 L137.7 166.5 Z" fill="#f9c4a9" stroke="#f9c4a9"/><path d="M137.1 143.8 L139.1 144.1 L142.7 134.4 L140.7 134.1 Z" fill="#deebf2" stroke="#deebf2"/><path d="M144.3 125.1 L146.3 125.4 L149.9 117.5 L147.9 117.2 Z" fill="#a0cce2" stroke="#a0cce2"/><path d="M200.4 144.3 L202.4 144.8 L205.9 142.7 L203.9 142.1 Z" fill="#e9f0f4" stroke="#e9f0f4"/><path d="M135.5 154.5 L137.4 154.7 L141.0 144.2 L139.1 144.1 Z" fill="#f6f7f7" stroke="#f6f7f7"/><path d="M89.8 88.4 L91.8 90.6 L95.6 88.5 L93.6 86.4 Z" fill="#276eb0" stroke="#276eb0"/><path d="M87.9 87.3 L89.8 88.4 L93.6 86.4 L91.7 85.0 Z" fill="#2369ad" stroke="#2369ad"/><path d="M159.4 111.7 L161.3 112.5 L164.9 107.8 L163.0 106.7 Z" fill="#6bacd1" stroke="#6bacd1"/><path d="M49.7 92.1 L51.6 92.2 L55.5 89.7 L53.6 89.5 Z" fill="#2b73b3" stroke="#2b73b3"/><path d="M140.7 134.1 L142.7 134.4 L146.3 125.4 L144.3 125.1 Z" fill="#c2ddec" stroke="#c2ddec"/><path d="M161.3 112.5 L163.3 114.1 L166.9 109.9 L164.9 107.8 Z" fill="#71b0d3" stroke="#71b0d3"/><path d="M183.1 141.4 L185.1 142.2 L188.6 140.0 L186.6 139.1 Z" fill="#e1edf3" stroke="#e1edf3"/><path d="M74.5 88.4 L76.4 88.6 L80.2 85.5 L78.3 85.3 Z" fill="#2369ad" stroke="#2369ad"/><path d="M38.2 93.7 L40.1 93.9 L44.0 91.5 L42.1 91.4 Z" fill="#2f79b5" stroke="#2f79b5"/><path d="M135.8 169.1 L137.7 166.5 L141.3 152.4 L139.4 153.9 Z" fill="#fbe5d8" stroke="#fbe5d8"/><path d="M202.4 144.8 L204.4 145.4 L207.8 143.2 L205.9 142.7 Z" fill="#e9f0f4" stroke="#e9f0f4"/><path d="M151.8 117.7 L153.8 117.8 L157.4 111.4 L155.4 111.1 Z" fill="#81bad8" stroke="#81bad8"/><path d="M63.1 90.4 L65.0 90.6 L68.8 87.9 L66.9 87.7 Z" fill="#276eb0" stroke="#276eb0"/><path d="M146.3 125.4 L148.2 125.6 L151.8 117.7 L149.9 117.5 Z" fill="#a0cce2" stroke="#a0cce2"/><path d="M139.1 144.1 L141.0 144.2 L144.6 134.5 L142.7 134.4 Z" fill="#ddebf2" stroke="#ddebf2"/><path d="M185.1 142.2 L187.1 143.0 L190.6 140.8 L188.6 140.0 Z" fill="#e3edf3" stroke="#e3edf3"/><path d="M165.6 125.8 L167.5 128.4 L171.1 125.3 L169.1 122.4 Z" fill="#aed3e6" stroke="#aed3e6"/><path d="M51.6 92.2 L53.5 92.4 L57.4 89.9 L55.5 89.7 Z" fill="#2b73b3" stroke="#2b73b3"/><path d="M142.7 134.4 L144.6 134.5 L148.2 125.6 L146.3 125.4 Z" fill="#c0dceb" stroke="#c0dceb"/><path d="M26.7 95.3 L28.6 95.4 L32.6 93.2 L30.7 93.0 Z" fill="#327cb7" stroke="#327cb7"/><path d="M137.4 154.7 L139.4 153.9 L143.0 143.7 L141.0 144.2 Z" fill="#f5f6f7" stroke="#f5f6f7"/><path d="M187.1 143.0 L189.1 143.8 L192.5 141.6 L190.6 140.8 Z" fill="#e4eef4" stroke="#e4eef4"/><path d="M204.4 145.4 L206.4 146.0 L209.8 143.7 L207.8 143.2 Z" fill="#e9f0f4" stroke="#e9f0f4"/><path d="M76.4 88.6 L78.3 88.7 L82.1 85.7 L80.2 85.5 Z" fill="#2267ac" stroke="#2267ac"/><path d="M163.6 123.4 L165.6 125.8 L169.1 122.4 L167.2 119.8 Z" fill="#a5cee3" stroke="#a5cee3"/><path d="M40.1 93.9 L42.0 94.1 L45.9 91.7 L44.0 91.5 Z" fill="#2e77b5" stroke="#2e77b5"/><path d="M132.5 191.3 L134.4 182.0 L138.0 169.7 L136.0 177.1 Z" fill="#f5ac8b" stroke="#f5ac8b"/><path d="M153.8 117.8 L155.8 117.9 L159.4 111.7 L157.4 111.4 Z" fill="#7eb8d7" stroke="#7eb8d7"/><path d="M65.0 90.6 L66.9 90.8 L70.7 88.0 L68.8 87.9 Z" fill="#276eb0" stroke="#276eb0"/><path d="M148.2 125.6 L150.2 125.5 L153.8 117.8 L151.8 117.7 Z" fill="#9dcbe1" stroke="#9dcbe1"/><path d="M189.1 143.8 L191.0 144.6 L194.5 142.4 L192.5 141.6 Z" fill="#e6eff4" stroke="#e6eff4"/><path d="M141.0 144.2 L143.0 143.7 L146.6 134.2 L144.6 134.5 Z" fill="#dbeaf2" stroke="#dbeaf2"/><path d="M53.5 92.4 L55.4 92.6 L59.3 90.1 L57.4 89.9 Z" fill="#2b73b3" stroke="#2b73b3"/><path d="M206.4 146.0 L208.4 146.5 L211.8 144.3 L209.8 143.7 Z" fill="#eaf1f5" stroke="#eaf1f5"/><path d="M161.6 121.3 L163.6 123.4 L167.2 119.8 L165.2 117.1 Z" fill="#98c8e0" stroke="#98c8e0"/><path d="M28.6 95.4 L30.5 95.6 L34.4 93.4 L32.6 93.2 Z" fill="#327cb7" stroke="#327cb7"/><path d="M144.6 134.5 L146.6 134.2 L150.2 125.5 L148.2 125.6 Z" fill="#bddbea" stroke="#bddbea"/><path d="M167.8 137.6 L169.8 138.8 L173.3 136.4 L171.4 135.1 Z" fill="#d5e7f1" stroke="#d5e7f1"/><path d="M78.3 88.7 L80.3 88.9 L84.0 86.0 L82.1 85.7 Z" fill="#2267ac" stroke="#2267ac"/><path d="M155.8 117.9 L157.7 118.1 L161.3 112.5 L159.4 111.7 Z" fill="#7eb8d7" stroke="#7eb8d7"/><path d="M191.0 144.6 L193.0 145.3 L196.5 143.1 L194.5 142.4 Z" fill="#e6eff4" stroke="#e6eff4"/><path d="M42.0 94.1 L43.9 94.2 L47.8 91.9 L45.9 91.7 Z" fill="#2e77b5" stroke="#2e77b5"/><path d="M169.8 138.8 L171.8 139.9 L175.3 137.5 L173.3 136.4 Z" fill="#d8e9f1" stroke="#d8e9f1"/><path d="M66.9 90.8 L68.8 90.9 L72.6 88.2 L70.7 88.0 Z" fill="#266caf" stroke="#266caf"/><path d="M86.2 97.6 L88.6 117.4 L92.3 109.5 L90.1 97.4 Z" fill="#4f9bc7" stroke="#4f9bc7"/><path d="M159.7 119.0 L161.6 121.3 L165.2 117.1 L163.3 114.1 Z" fill="#8dc2dc" stroke="#8dc2dc"/><path d="M165.9 134.5 L167.8 137.6 L171.4 135.1 L169.4 131.6 Z" fill="#d1e5f0" stroke="#d1e5f0"/><path d="M208.4 146.5 L210.4 147.1 L213.8 144.8 L211.8 144.3 Z" fill="#eaf1f5" stroke="#eaf1f5"/><path d="M157.7 118.1 L159.7 119.0 L163.3 114.1 L161.3 112.5 Z" fill="#81bad8" stroke="#81bad8"/><path d="M150.2 125.5 L152.2 125.2 L155.8 117.9 L153.8 117.8 Z" fill="#9bc9e0" stroke="#9bc9e0"/><path d="M171.8 139.9 L173.7 140.9 L177.3 138.5 L175.3 137.5 Z" fill="#dbeaf2" stroke="#dbeaf2"/><path d="M55.4 92.6 L57.3 92.8 L61.2 90.2 L59.3 90.1 Z" fill="#2a71b2" stroke="#2a71b2"/><path d="M139.4 153.9 L141.3 152.4 L144.9 142.5 L143.0 143.7 Z" fill="#f0f4f6" stroke="#f0f4f6"/><path d="M30.5 95.6 L32.4 95.8 L36.3 93.5 L34.4 93.4 Z" fill="#307ab6" stroke="#307ab6"/><path d="M193.0 145.3 L195.0 145.9 L198.5 143.7 L196.5 143.1 Z" fill="#e7f0f4" stroke="#e7f0f4"/><path d="M80.3 88.9 L82.2 89.1 L86.0 86.6 L84.0 86.0 Z" fill="#2267ac" stroke="#2267ac"/><path d="M173.7 140.9 L175.7 141.8 L179.2 139.5 L177.3 138.5 Z" fill="#ddebf2" stroke="#ddebf2"/><path d="M88.0 92.2 L90.1 97.4 L93.8 95.1 L91.8 90.6 Z" fill="#2f79b5" stroke="#2f79b5"/><path d="M43.9 94.2 L45.8 94.4 L49.7 92.1 L47.8 91.9 Z" fill="#2e77b5" stroke="#2e77b5"/><path d="M137.7 166.5 L139.6 162.9 L143.3 149.8 L141.3 152.4 Z" fill="#f9ebe3" stroke="#f9ebe3"/><path d="M210.4 147.1 L212.4 147.6 L215.8 145.3 L213.8 144.8 Z" fill="#eaf1f5" stroke="#eaf1f5"/><path d="M68.8 90.9 L70.7 91.1 L74.5 88.4 L72.6 88.2 Z" fill="#266caf" stroke="#266caf"/><path d="M143.0 143.7 L144.9 142.5 L148.5 133.4 L146.6 134.2 Z" fill="#d8e9f1" stroke="#d8e9f1"/><path d="M146.6 134.2 L148.5 133.4 L152.2 125.2 L150.2 125.5 Z" fill="#bbdaea" stroke="#bbdaea"/><path d="M163.9 131.7 L165.9 134.5 L169.4 131.6 L167.5 128.4 Z" fill="#c2ddec" stroke="#c2ddec"/><path d="M195.0 145.9 L197.0 146.5 L200.4 144.3 L198.5 143.7 Z" fill="#e7f0f4" stroke="#e7f0f4"/><path d="M175.7 141.8 L177.7 142.7 L181.2 140.4 L179.2 139.5 Z" fill="#deebf2" stroke="#deebf2"/><path d="M57.3 92.8 L59.2 92.9 L63.1 90.4 L61.2 90.2 Z" fill="#2a71b2" stroke="#2a71b2"/><path d="M82.2 89.1 L84.1 89.5 L87.9 87.3 L86.0 86.6 Z" fill="#2267ac" stroke="#2267ac"/><path d="M32.4 95.8 L34.3 96.0 L38.2 93.7 L36.3 93.5 Z" fill="#307ab6" stroke="#307ab6"/><path d="M152.2 125.2 L154.1 124.8 L157.7 118.1 L155.8 117.9 Z" fill="#98c8e0" stroke="#98c8e0"/><path d="M177.7 142.7 L179.6 143.6 L183.1 141.4 L181.2 140.4 Z" fill="#e0ecf3" stroke="#e0ecf3"/><path d="M45.8 94.4 L47.7 94.6 L51.6 92.2 L49.7 92.1 Z" fill="#2c75b4" stroke="#2c75b4"/><path d="M197.0 146.5 L199.0 147.1 L202.4 144.8 L200.4 144.3 Z" fill="#e9f0f4" stroke="#e9f0f4"/><path d="M70.7 91.1 L72.6 91.3 L76.4 88.6 L74.5 88.4 Z" fill="#246aae" stroke="#246aae"/><path d="M162.0 129.4 L163.9 131.7 L167.5 128.4 L165.6 125.8 Z" fill="#b6d7e8" stroke="#b6d7e8"/><path d="M84.1 89.5 L86.1 90.3 L89.8 88.4 L87.9 87.3 Z" fill="#2369ad" stroke="#2369ad"/><path d="M136.0 177.1 L138.0 169.7 L141.6 157.3 L139.6 162.9 Z" fill="#fdddcb" stroke="#fdddcb"/><path d="M86.1 90.3 L88.0 92.2 L91.8 90.6 L89.8 88.4 Z" fill="#266caf" stroke="#266caf"/><path d="M179.6 143.6 L181.6 144.4 L185.1 142.2 L183.1 141.4 Z" fill="#e1edf3" stroke="#e1edf3"/><path d="M59.2 92.9 L61.1 93.1 L65.0 90.6 L63.1 90.4 Z" fill="#2870b1" stroke="#2870b1"/><path d="M34.3 96.0 L36.2 96.1 L40.1 93.9 L38.2 93.7 Z" fill="#2f79b5" stroke="#2f79b5"/><path d="M160.0 127.5 L162.0 129.4 L165.6 125.8 L163.6 123.4 Z" fill="#acd2e5" stroke="#acd2e5"/><path d="M154.1 124.8 L156.1 124.8 L159.7 119.0 L157.7 118.1 Z" fill="#98c8e0" stroke="#98c8e0"/><path d="M148.5 133.4 L150.5 132.3 L154.1 124.8 L152.2 125.2 Z" fill="#b3d6e8" stroke="#b3d6e8"/><path d="M199.0 147.1 L200.9 147.6 L204.4 145.4 L202.4 144.8 Z" fill="#e9f0f4" stroke="#e9f0f4"/><path d="M158.0 125.9 L160.0 127.5 L163.6 123.4 L161.6 121.3 Z" fill="#a2cde3" stroke="#a2cde3"/><path d="M141.3 152.4 L143.3 149.8 L146.9 140.7 L144.9 142.5 Z" fill="#e9f0f4" stroke="#e9f0f4"/><path d="M181.6 144.4 L183.6 145.2 L187.1 143.0 L185.1 142.2 Z" fill="#e3edf3" stroke="#e3edf3"/><path d="M47.7 94.6 L49.6 94.8 L53.5 92.4 L51.6 92.2 Z" fill="#2c75b4" stroke="#2c75b4"/><path d="M156.1 124.8 L158.0 125.9 L161.6 121.3 L159.7 119.0 Z" fill="#9bc9e0" stroke="#9bc9e0"/><path d="M72.6 91.3 L74.5 91.5 L78.3 88.7 L76.4 88.6 Z" fill="#246aae" stroke="#246aae"/><path d="M144.9 142.5 L146.9 140.7 L150.5 132.3 L148.5 133.4 Z" fill="#d2e6f0" stroke="#d2e6f0"/><path d="M22.8 97.5 L24.7 97.6 L28.6 95.4 L26.7 95.3 Z" fill="#327cb7" stroke="#327cb7"/><path d="M61.1 93.1 L63.0 93.3 L66.9 90.8 L65.0 90.6 Z" fill="#2870b1" stroke="#2870b1"/><path d="M183.6 145.2 L185.6 146.0 L189.1 143.8 L187.1 143.0 Z" fill="#e4eef4" stroke="#e4eef4"/><path d="M200.9 147.6 L202.9 148.2 L206.4 146.0 L204.4 145.4 Z" fill="#e9f0f4" stroke="#e9f0f4"/><path d="M82.3 95.4 L85.1 127.2 L88.6 117.4 L86.2 97.6 Z" fill="#5ca3cb" stroke="#5ca3cb"/><path d="M36.2 96.1 L38.1 96.3 L42.0 94.1 L40.1 93.9 Z" fill="#2f79b5" stroke="#2f79b5"/><path d="M49.6 94.8 L51.5 94.9 L55.4 92.6 L53.5 92.4 Z" fill="#2b73b3" stroke="#2b73b3"/><path d="M74.5 91.5 L76.5 91.6 L80.3 88.9 L78.3 88.7 Z" fill="#246aae" stroke="#246aae"/><path d="M185.6 146.0 L187.5 146.8 L191.0 144.6 L189.1 143.8 Z" fill="#e4eef4" stroke="#e4eef4"/><path d="M24.7 97.6 L26.6 97.8 L30.5 95.6 L28.6 95.4 Z" fill="#327cb7" stroke="#327cb7"/><path d="M150.5 132.3 L152.5 131.1 L156.1 124.8 L154.1 124.8 Z" fill="#aed3e6" stroke="#aed3e6"/><path d="M202.9 148.2 L204.9 148.7 L208.4 146.5 L206.4 146.0 Z" fill="#eaf1f5" stroke="#eaf1f5"/><path d="M164.3 140.1 L166.2 141.3 L169.8 138.8 L167.8 137.6 Z" fill="#d7e8f1" stroke="#d7e8f1"/><path d="M63.0 93.3 L65.0 93.5 L68.8 90.9 L66.9 90.8 Z" fill="#276eb0" stroke="#276eb0"/><path d="M38.1 96.3 L40.0 96.5 L43.9 94.2 L42.0 94.1 Z" fill="#2e77b5" stroke="#2e77b5"/><path d="M162.3 137.6 L164.3 140.1 L167.8 137.6 L165.9 134.5 Z" fill="#d2e6f0" stroke="#d2e6f0"/><path d="M166.2 141.3 L168.2 142.3 L171.8 139.9 L169.8 138.8 Z" fill="#d8e9f1" stroke="#d8e9f1"/><path d="M187.5 146.8 L189.5 147.5 L193.0 145.3 L191.0 144.6 Z" fill="#e6eff4" stroke="#e6eff4"/><path d="M139.6 162.9 L141.6 157.3 L145.2 145.9 L143.3 149.8 Z" fill="#f7f5f4" stroke="#f7f5f4"/><path d="M51.5 94.9 L53.4 95.1 L57.3 92.8 L55.4 92.6 Z" fill="#2b73b3" stroke="#2b73b3"/><path d="M204.9 148.7 L206.9 149.3 L210.4 147.1 L208.4 146.5 Z" fill="#eaf1f5" stroke="#eaf1f5"/><path d="M76.5 91.6 L78.4 91.8 L82.2 89.1 L80.3 88.9 Z" fill="#2369ad" stroke="#2369ad"/><path d="M168.2 142.3 L170.2 143.2 L173.7 140.9 L171.8 139.9 Z" fill="#dbeaf2" stroke="#dbeaf2"/><path d="M26.6 97.8 L28.5 98.0 L32.4 95.8 L30.5 95.6 Z" fill="#307ab6" stroke="#307ab6"/><path d="M160.3 135.2 L162.3 137.6 L165.9 134.5 L163.9 131.7 Z" fill="#c7e0ed" stroke="#c7e0ed"/><path d="M189.5 147.5 L191.5 148.1 L195.0 145.9 L193.0 145.3 Z" fill="#e7f0f4" stroke="#e7f0f4"/><path d="M146.9 140.7 L148.8 138.1 L152.5 131.1 L150.5 132.3 Z" fill="#cae1ee" stroke="#cae1ee"/><path d="M65.0 93.5 L66.9 93.6 L70.7 91.1 L68.8 90.9 Z" fill="#276eb0" stroke="#276eb0"/><path d="M152.5 131.1 L154.4 130.8 L158.0 125.9 L156.1 124.8 Z" fill="#acd2e5" stroke="#acd2e5"/><path d="M170.2 143.2 L172.1 144.1 L175.7 141.8 L173.7 140.9 Z" fill="#ddebf2" stroke="#ddebf2"/><path d="M40.0 96.5 L41.9 96.7 L45.8 94.4 L43.9 94.2 Z" fill="#2e77b5" stroke="#2e77b5"/><path d="M206.9 149.3 L208.9 149.8 L212.4 147.6 L210.4 147.1 Z" fill="#eaf1f5" stroke="#eaf1f5"/><path d="M158.4 133.3 L160.3 135.2 L163.9 131.7 L162.0 129.4 Z" fill="#bddbea" stroke="#bddbea"/><path d="M53.4 95.1 L55.3 95.3 L59.2 92.9 L57.3 92.8 Z" fill="#2a71b2" stroke="#2a71b2"/><path d="M143.3 149.8 L145.2 145.9 L148.8 138.1 L146.9 140.7 Z" fill="#deebf2" stroke="#deebf2"/><path d="M78.4 91.8 L80.3 92.0 L84.1 89.5 L82.2 89.1 Z" fill="#2369ad" stroke="#2369ad"/><path d="M172.1 144.1 L174.1 145.0 L177.7 142.7 L175.7 141.8 Z" fill="#deebf2" stroke="#deebf2"/><path d="M154.4 130.8 L156.4 131.7 L160.0 127.5 L158.0 125.9 Z" fill="#aed3e6" stroke="#aed3e6"/><path d="M191.5 148.1 L193.5 148.7 L197.0 146.5 L195.0 145.9 Z" fill="#e7f0f4" stroke="#e7f0f4"/><path d="M156.4 131.7 L158.4 133.3 L162.0 129.4 L160.0 127.5 Z" fill="#b3d6e8" stroke="#b3d6e8"/><path d="M28.5 98.0 L30.4 98.2 L34.3 96.0 L32.4 95.8 Z" fill="#307ab6" stroke="#307ab6"/><path d="M84.2 93.0 L86.2 97.6 L90.1 97.4 L88.0 92.2 Z" fill="#2c75b4" stroke="#2c75b4"/><path d="M78.5 97.4 L81.5 137.3 L85.1 127.2 L82.3 95.4 Z" fill="#6eaed2" stroke="#6eaed2"/><path d="M66.9 93.6 L68.8 93.8 L72.6 91.3 L70.7 91.1 Z" fill="#276eb0" stroke="#276eb0"/><path d="M174.1 145.0 L176.1 145.9 L179.6 143.6 L177.7 142.7 Z" fill="#e0ecf3" stroke="#e0ecf3"/><path d="M41.9 96.7 L43.8 96.8 L47.7 94.6 L45.8 94.4 Z" fill="#2c75b4" stroke="#2c75b4"/><path d="M193.5 148.7 L195.5 149.3 L199.0 147.1 L197.0 146.5 Z" fill="#e7f0f4" stroke="#e7f0f4"/><path d="M80.3 92.0 L82.2 92.2 L86.1 90.3 L84.1 89.5 Z" fill="#2369ad" stroke="#2369ad"/><path d="M55.3 95.3 L57.3 95.5 L61.1 93.1 L59.2 92.9 Z" fill="#2a71b2" stroke="#2a71b2"/><path d="M176.1 145.9 L178.1 146.7 L181.6 144.4 L179.6 143.6 Z" fill="#e1edf3" stroke="#e1edf3"/><path d="M30.4 98.2 L32.3 98.4 L36.2 96.1 L34.3 96.0 Z" fill="#2f79b5" stroke="#2f79b5"/><path d="M82.2 92.2 L84.2 93.0 L88.0 92.2 L86.1 90.3 Z" fill="#246aae" stroke="#246aae"/><path d="M68.8 93.8 L70.7 94.0 L74.5 91.5 L72.6 91.3 Z" fill="#266caf" stroke="#266caf"/><path d="M43.8 96.8 L45.7 97.0 L49.6 94.8 L47.7 94.6 Z" fill="#2c75b4" stroke="#2c75b4"/><path d="M195.5 149.3 L197.5 149.8 L200.9 147.6 L199.0 147.1 Z" fill="#e9f0f4" stroke="#e9f0f4"/><path d="M178.1 146.7 L180.0 147.5 L183.6 145.2 L181.6 144.4 Z" fill="#e3edf3" stroke="#e3edf3"/><path d="M148.8 138.1 L150.8 135.5 L154.4 130.8 L152.5 131.1 Z" fill="#bddbea" stroke="#bddbea"/><path d="M57.3 95.5 L59.2 95.6 L63.0 93.3 L61.1 93.1 Z" fill="#2870b1" stroke="#2870b1"/><path d="M32.3 98.4 L34.2 98.5 L38.1 96.3 L36.2 96.1 Z" fill="#2f79b5" stroke="#2f79b5"/><path d="M180.0 147.5 L182.0 148.2 L185.6 146.0 L183.6 145.2 Z" fill="#e4eef4" stroke="#e4eef4"/><path d="M197.5 149.8 L199.5 150.4 L202.9 148.2 L200.9 147.6 Z" fill="#e9f0f4" stroke="#e9f0f4"/><path d="M74.6 99.7 L77.9 147.4 L81.5 137.3 L78.5 97.4 Z" fill="#87beda" stroke="#87beda"/><path d="M70.7 94.0 L72.6 94.2 L76.5 91.6 L74.5 91.5 Z" fill="#266caf" stroke="#266caf"/><path d="M45.7 97.0 L47.6 97.2 L51.5 94.9 L49.6 94.8 Z" fill="#2c75b4" stroke="#2c75b4"/><path d="M160.7 142.6 L162.6 143.7 L166.2 141.3 L164.3 140.1 Z" fill="#d7e8f1" stroke="#d7e8f1"/><path d="M182.0 148.2 L184.0 149.0 L187.5 146.8 L185.6 146.0 Z" fill="#e4eef4" stroke="#e4eef4"/><path d="M158.7 140.7 L160.7 142.6 L164.3 140.1 L162.3 137.6 Z" fill="#d4e6f1" stroke="#d4e6f1"/><path d="M59.2 95.6 L61.1 95.8 L65.0 93.5 L63.0 93.3 Z" fill="#2870b1" stroke="#2870b1"/><path d="M199.5 150.4 L201.4 151.0 L204.9 148.7 L202.9 148.2 Z" fill="#e9f0f4" stroke="#e9f0f4"/><path d="M150.8 135.5 L152.8 136.0 L156.4 131.7 L154.4 130.8 Z" fill="#bbdaea" stroke="#bbdaea"/><path d="M34.2 98.5 L36.1 98.7 L40.0 96.5 L38.1 96.3 Z" fill="#2f79b5" stroke="#2f79b5"/><path d="M162.6 143.7 L164.6 144.7 L168.2 142.3 L166.2 141.3 Z" fill="#dae9f2" stroke="#dae9f2"/><path d="M156.7 138.9 L158.7 140.7 L162.3 137.6 L160.3 135.2 Z" fill="#cce2ef" stroke="#cce2ef"/><path d="M72.6 94.2 L74.6 94.3 L78.4 91.8 L76.5 91.6 Z" fill="#246aae" stroke="#246aae"/><path d="M184.0 149.0 L186.0 149.7 L189.5 147.5 L187.5 146.8 Z" fill="#e6eff4" stroke="#e6eff4"/><path d="M154.8 137.3 L156.7 138.9 L160.3 135.2 L158.4 133.3 Z" fill="#c5dfec" stroke="#c5dfec"/><path d="M152.8 136.0 L154.8 137.3 L158.4 133.3 L156.4 131.7 Z" fill="#bddbea" stroke="#bddbea"/><path d="M47.6 97.2 L49.5 97.4 L53.4 95.1 L51.5 94.9 Z" fill="#2b73b3" stroke="#2b73b3"/><path d="M164.6 144.7 L166.6 145.6 L170.2 143.2 L168.2 142.3 Z" fill="#dbeaf2" stroke="#dbeaf2"/><path d="M201.4 151.0 L203.4 151.6 L206.9 149.3 L204.9 148.7 Z" fill="#eaf1f5" stroke="#eaf1f5"/><path d="M145.2 145.9 L147.2 139.6 L150.8 135.5 L148.8 138.1 Z" fill="#d1e5f0" stroke="#d1e5f0"/><path d="M61.1 95.8 L63.0 96.0 L66.9 93.6 L65.0 93.5 Z" fill="#2870b1" stroke="#2870b1"/><path d="M186.0 149.7 L188.0 150.3 L191.5 148.1 L189.5 147.5 Z" fill="#e6eff4" stroke="#e6eff4"/><path d="M166.6 145.6 L168.6 146.5 L172.1 144.1 L170.2 143.2 Z" fill="#ddebf2" stroke="#ddebf2"/><path d="M36.1 98.7 L38.0 98.9 L41.9 96.7 L40.0 96.5 Z" fill="#2e77b5" stroke="#2e77b5"/><path d="M70.7 101.9 L74.4 157.5 L77.9 147.4 L74.6 99.7 Z" fill="#a0cce2" stroke="#a0cce2"/><path d="M74.6 94.3 L76.5 94.5 L80.3 92.0 L78.4 91.8 Z" fill="#246aae" stroke="#246aae"/><path d="M203.4 151.6 L205.4 152.1 L208.9 149.8 L206.9 149.3 Z" fill="#eaf1f5" stroke="#eaf1f5"/><path d="M49.5 97.4 L51.4 97.5 L55.3 95.3 L53.4 95.1 Z" fill="#2b73b3" stroke="#2b73b3"/><path d="M168.6 146.5 L170.5 147.3 L174.1 145.0 L172.1 144.1 Z" fill="#deebf2" stroke="#deebf2"/><path d="M188.0 150.3 L190.0 150.9 L193.5 148.7 L191.5 148.1 Z" fill="#e7f0f4" stroke="#e7f0f4"/><path d="M63.0 96.0 L64.9 96.2 L68.8 93.8 L66.9 93.6 Z" fill="#276eb0" stroke="#276eb0"/><path d="M38.0 98.9 L39.9 99.1 L43.8 96.8 L41.9 96.7 Z" fill="#2e77b5" stroke="#2e77b5"/><path d="M170.5 147.3 L172.5 148.2 L176.1 145.9 L174.1 145.0 Z" fill="#e0ecf3" stroke="#e0ecf3"/><path d="M76.5 94.5 L78.4 94.7 L82.2 92.2 L80.3 92.0 Z" fill="#2369ad" stroke="#2369ad"/><path d="M141.6 157.3 L143.5 142.7 L147.2 139.6 L145.2 145.9 Z" fill="#deebf2" stroke="#deebf2"/><path d="M51.4 97.5 L53.4 97.7 L57.3 95.5 L55.3 95.3 Z" fill="#2a71b2" stroke="#2a71b2"/><path d="M190.0 150.9 L192.0 151.5 L195.5 149.3 L193.5 148.7 Z" fill="#e7f0f4" stroke="#e7f0f4"/><path d="M172.5 148.2 L174.5 149.0 L178.1 146.7 L176.1 145.9 Z" fill="#e1edf3" stroke="#e1edf3"/><path d="M64.9 96.2 L66.9 96.3 L70.7 94.0 L68.8 93.8 Z" fill="#276eb0" stroke="#276eb0"/><path d="M39.9 99.1 L41.8 99.2 L45.7 97.0 L43.8 96.8 Z" fill="#2c75b4" stroke="#2c75b4"/><path d="M78.4 94.7 L80.4 94.8 L84.2 93.0 L82.2 92.2 Z" fill="#2369ad" stroke="#2369ad"/><path d="M192.0 151.5 L194.0 152.1 L197.5 149.8 L195.5 149.3 Z" fill="#e9f0f4" stroke="#e9f0f4"/><path d="M147.2 139.6 L149.2 140.4 L152.8 136.0 L150.8 135.5 Z" fill="#c5dfec" stroke="#c5dfec"/><path d="M80.4 94.8 L82.3 95.4 L86.2 97.6 L84.2 93.0 Z" fill="#276eb0" stroke="#276eb0"/><path d="M174.5 149.0 L176.5 149.7 L180.0 147.5 L178.1 146.7 Z" fill="#e3edf3" stroke="#e3edf3"/><path d="M53.4 97.7 L55.3 97.9 L59.2 95.6 L57.3 95.5 Z" fill="#2a71b2" stroke="#2a71b2"/><path d="M138.0 169.7 L139.9 145.7 L143.5 142.7 L141.6 157.3 Z" fill="#f0f4f6" stroke="#f0f4f6"/><path d="M149.2 140.4 L151.1 141.5 L154.8 137.3 L152.8 136.0 Z" fill="#c7e0ed" stroke="#c7e0ed"/><path d="M66.9 96.3 L68.8 96.5 L72.6 94.2 L70.7 94.0 Z" fill="#266caf" stroke="#266caf"/><path d="M176.5 149.7 L178.5 150.5 L182.0 148.2 L180.0 147.5 Z" fill="#e3edf3" stroke="#e3edf3"/><path d="M151.1 141.5 L153.1 142.7 L156.7 138.9 L154.8 137.3 Z" fill="#cce2ef" stroke="#cce2ef"/><path d="M194.0 152.1 L196.0 152.7 L199.5 150.4 L197.5 149.8 Z" fill="#e9f0f4" stroke="#e9f0f4"/><path d="M153.1 142.7 L155.1 144.0 L158.7 140.7 L156.7 138.9 Z" fill="#d2e6f0" stroke="#d2e6f0"/><path d="M155.1 144.0 L157.1 145.2 L160.7 142.6 L158.7 140.7 Z" fill="#d5e7f1" stroke="#d5e7f1"/><path d="M41.8 99.2 L43.7 99.4 L47.6 97.2 L45.7 97.0 Z" fill="#2c75b4" stroke="#2c75b4"/><path d="M157.1 145.2 L159.0 146.2 L162.6 143.7 L160.7 142.6 Z" fill="#d8e9f1" stroke="#d8e9f1"/><path d="M134.4 182.0 L136.2 148.8 L139.9 145.7 L138.0 169.7 Z" fill="#f9f0eb" stroke="#f9f0eb"/><path d="M55.3 97.9 L57.2 98.1 L61.1 95.8 L59.2 95.6 Z" fill="#2870b1" stroke="#2870b1"/><path d="M178.5 150.5 L180.5 151.2 L184.0 149.0 L182.0 148.2 Z" fill="#e4eef4" stroke="#e4eef4"/><path d="M196.0 152.7 L198.0 153.3 L201.4 151.0 L199.5 150.4 Z" fill="#e9f0f4" stroke="#e9f0f4"/><path d="M159.0 146.2 L161.0 147.1 L164.6 144.7 L162.6 143.7 Z" fill="#dae9f2" stroke="#dae9f2"/><path d="M68.8 96.5 L70.7 96.7 L74.6 94.3 L72.6 94.2 Z" fill="#266caf" stroke="#266caf"/><path d="M43.7 99.4 L45.6 99.6 L49.5 97.4 L47.6 97.2 Z" fill="#2b73b3" stroke="#2b73b3"/><path d="M180.5 151.2 L182.5 151.9 L186.0 149.7 L184.0 149.0 Z" fill="#e6eff4" stroke="#e6eff4"/><path d="M130.8 194.2 L132.5 152.2 L136.2 148.8 L134.4 182.0 Z" fill="#fbe3d4" stroke="#fbe3d4"/><path d="M161.0 147.1 L163.0 148.0 L166.6 145.6 L164.6 144.7 Z" fill="#dbeaf2" stroke="#dbeaf2"/><path d="M198.0 153.3 L199.9 153.8 L203.4 151.6 L201.4 151.0 Z" fill="#eaf1f5" stroke="#eaf1f5"/><path d="M57.2 98.1 L59.1 98.3 L63.0 96.0 L61.1 95.8 Z" fill="#2870b1" stroke="#2870b1"/><path d="M163.0 148.0 L165.0 148.8 L168.6 146.5 L166.6 145.6 Z" fill="#ddebf2" stroke="#ddebf2"/><path d="M70.7 96.7 L72.6 96.9 L76.5 94.5 L74.6 94.3 Z" fill="#246aae" stroke="#246aae"/><path d="M182.5 151.9 L184.4 152.5 L188.0 150.3 L186.0 149.7 Z" fill="#e6eff4" stroke="#e6eff4"/><path d="M45.6 99.6 L47.5 99.8 L51.4 97.5 L49.5 97.4 Z" fill="#2b73b3" stroke="#2b73b3"/><path d="M199.9 153.8 L202.0 154.4 L205.4 152.1 L203.4 151.6 Z" fill="#eaf1f5" stroke="#eaf1f5"/><path d="M165.0 148.8 L167.0 149.7 L170.5 147.3 L168.6 146.5 Z" fill="#deebf2" stroke="#deebf2"/><path d="M59.1 98.3 L61.1 98.4 L64.9 96.2 L63.0 96.0 Z" fill="#2870b1" stroke="#2870b1"/><path d="M184.4 152.5 L186.4 153.1 L190.0 150.9 L188.0 150.3 Z" fill="#e7f0f4" stroke="#e7f0f4"/><path d="M72.6 96.9 L74.6 97.0 L78.4 94.7 L76.5 94.5 Z" fill="#246aae" stroke="#246aae"/><path d="M167.0 149.7 L168.9 150.5 L172.5 148.2 L170.5 147.3 Z" fill="#e0ecf3" stroke="#e0ecf3"/><path d="M143.5 142.7 L145.5 143.7 L149.2 140.4 L147.2 139.6 Z" fill="#cce2ef" stroke="#cce2ef"/><path d="M47.5 99.8 L49.4 99.9 L53.4 97.7 L51.4 97.5 Z" fill="#2a71b2" stroke="#2a71b2"/><path d="M186.4 153.1 L188.4 153.7 L192.0 151.5 L190.0 150.9 Z" fill="#e7f0f4" stroke="#e7f0f4"/><path d="M145.5 143.7 L147.5 144.7 L151.1 141.5 L149.2 140.4 Z" fill="#d1e5f0" stroke="#d1e5f0"/><path d="M61.1 98.4 L63.0 98.6 L66.9 96.3 L64.9 96.2 Z" fill="#276eb0" stroke="#276eb0"/><path d="M168.9 150.5 L170.9 151.2 L174.5 149.0 L172.5 148.2 Z" fill="#e1edf3" stroke="#e1edf3"/><path d="M147.5 144.7 L149.5 145.8 L153.1 142.7 L151.1 141.5 Z" fill="#d2e6f0" stroke="#d2e6f0"/><path d="M74.6 97.0 L76.5 97.2 L80.4 94.8 L78.4 94.7 Z" fill="#246aae" stroke="#246aae"/><path d="M188.4 153.7 L190.4 154.3 L194.0 152.1 L192.0 151.5 Z" fill="#e7f0f4" stroke="#e7f0f4"/><path d="M170.9 151.2 L172.9 152.0 L176.5 149.7 L174.5 149.0 Z" fill="#e3edf3" stroke="#e3edf3"/><path d="M149.5 145.8 L151.4 146.8 L155.1 144.0 L153.1 142.7 Z" fill="#d5e7f1" stroke="#d5e7f1"/><path d="M49.4 99.9 L51.4 100.1 L55.3 97.9 L53.4 97.7 Z" fill="#2a71b2" stroke="#2a71b2"/><path d="M63.0 98.6 L64.9 98.8 L68.8 96.5 L66.9 96.3 Z" fill="#276eb0" stroke="#276eb0"/><path d="M151.4 146.8 L153.4 147.8 L157.1 145.2 L155.1 144.0 Z" fill="#d7e8f1" stroke="#d7e8f1"/><path d="M172.9 152.0 L174.9 152.7 L178.5 150.5 L176.5 149.7 Z" fill="#e3edf3" stroke="#e3edf3"/><path d="M190.4 154.3 L192.4 154.9 L196.0 152.7 L194.0 152.1 Z" fill="#e9f0f4" stroke="#e9f0f4"/><path d="M76.5 97.2 L78.5 97.4 L82.3 95.4 L80.4 94.8 Z" fill="#2369ad" stroke="#2369ad"/><path d="M153.4 147.8 L155.4 148.7 L159.0 146.2 L157.1 145.2 Z" fill="#d8e9f1" stroke="#d8e9f1"/><path d="M51.4 100.1 L53.3 100.3 L57.2 98.1 L55.3 97.9 Z" fill="#2a71b2" stroke="#2a71b2"/><path d="M174.9 152.7 L176.9 153.4 L180.5 151.2 L178.5 150.5 Z" fill="#e4eef4" stroke="#e4eef4"/><path d="M155.4 148.7 L157.4 149.6 L161.0 147.1 L159.0 146.2 Z" fill="#dbeaf2" stroke="#dbeaf2"/><path d="M64.9 98.8 L66.8 99.0 L70.7 96.7 L68.8 96.5 Z" fill="#266caf" stroke="#266caf"/><path d="M192.4 154.9 L194.4 155.5 L198.0 153.3 L196.0 152.7 Z" fill="#e9f0f4" stroke="#e9f0f4"/><path d="M157.4 149.6 L159.4 150.4 L163.0 148.0 L161.0 147.1 Z" fill="#ddebf2" stroke="#ddebf2"/><path d="M176.9 153.4 L178.9 154.1 L182.5 151.9 L180.5 151.2 Z" fill="#e6eff4" stroke="#e6eff4"/><path d="M53.3 100.3 L55.2 100.5 L59.1 98.3 L57.2 98.1 Z" fill="#2870b1" stroke="#2870b1"/><path d="M194.4 155.5 L196.4 156.1 L199.9 153.8 L198.0 153.3 Z" fill="#eaf1f5" stroke="#eaf1f5"/><path d="M159.4 150.4 L161.4 151.2 L165.0 148.8 L163.0 148.0 Z" fill="#ddebf2" stroke="#ddebf2"/><path d="M66.8 99.0 L68.8 99.1 L72.6 96.9 L70.7 96.7 Z" fill="#266caf" stroke="#266caf"/><path d="M178.9 154.1 L180.9 154.8 L184.4 152.5 L182.5 151.9 Z" fill="#e6eff4" stroke="#e6eff4"/><path d="M196.4 156.1 L198.4 156.7 L202.0 154.4 L199.9 153.8 Z" fill="#eaf1f5" stroke="#eaf1f5"/><path d="M161.4 151.2 L163.4 152.0 L167.0 149.7 L165.0 148.8 Z" fill="#deebf2" stroke="#deebf2"/><path d="M55.2 100.5 L57.1 100.6 L61.1 98.4 L59.1 98.3 Z" fill="#2870b1" stroke="#2870b1"/><path d="M139.9 145.7 L141.8 146.7 L145.5 143.7 L143.5 142.7 Z" fill="#d1e5f0" stroke="#d1e5f0"/><path d="M180.9 154.8 L182.9 155.4 L186.4 153.1 L184.4 152.5 Z" fill="#e7f0f4" stroke="#e7f0f4"/><path d="M68.8 99.1 L70.7 99.3 L74.6 97.0 L72.6 96.9 Z" fill="#246aae" stroke="#246aae"/><path d="M141.8 146.7 L143.8 147.6 L147.5 144.7 L145.5 143.7 Z" fill="#d2e6f0" stroke="#d2e6f0"/><path d="M163.4 152.0 L165.3 152.8 L168.9 150.5 L167.0 149.7 Z" fill="#e0ecf3" stroke="#e0ecf3"/><path d="M143.8 147.6 L145.8 148.6 L149.5 145.8 L147.5 144.7 Z" fill="#d5e7f1" stroke="#d5e7f1"/><path d="M182.9 155.4 L184.9 156.0 L188.4 153.7 L186.4 153.1 Z" fill="#e7f0f4" stroke="#e7f0f4"/><path d="M57.1 100.6 L59.1 100.8 L63.0 98.6 L61.1 98.4 Z" fill="#276eb0" stroke="#276eb0"/><path d="M165.3 152.8 L167.3 153.5 L170.9 151.2 L168.9 150.5 Z" fill="#e1edf3" stroke="#e1edf3"/><path d="M145.8 148.6 L147.8 149.5 L151.4 146.8 L149.5 145.8 Z" fill="#d7e8f1" stroke="#d7e8f1"/><path d="M70.7 99.3 L72.7 99.5 L76.5 97.2 L74.6 97.0 Z" fill="#246aae" stroke="#246aae"/><path d="M184.9 156.0 L186.9 156.6 L190.4 154.3 L188.4 153.7 Z" fill="#e7f0f4" stroke="#e7f0f4"/><path d="M167.3 153.5 L169.3 154.2 L172.9 152.0 L170.9 151.2 Z" fill="#e3edf3" stroke="#e3edf3"/><path d="M147.8 149.5 L149.8 150.4 L153.4 147.8 L151.4 146.8 Z" fill="#d8e9f1" stroke="#d8e9f1"/><path d="M59.1 100.8 L61.0 101.0 L64.9 98.8 L63.0 98.6 Z" fill="#276eb0" stroke="#276eb0"/><path d="M149.8 150.4 L151.8 151.3 L155.4 148.7 L153.4 147.8 Z" fill="#dae9f2" stroke="#dae9f2"/><path d="M72.7 99.5 L74.6 99.7 L78.5 97.4 L76.5 97.2 Z" fill="#2369ad" stroke="#2369ad"/><path d="M169.3 154.2 L171.3 155.0 L174.9 152.7 L172.9 152.0 Z" fill="#e3edf3" stroke="#e3edf3"/><path d="M186.9 156.6 L188.9 157.2 L192.4 154.9 L190.4 154.3 Z" fill="#e9f0f4" stroke="#e9f0f4"/><path d="M151.8 151.3 L153.7 152.1 L157.4 149.6 L155.4 148.7 Z" fill="#dbeaf2" stroke="#dbeaf2"/><path d="M171.3 155.0 L173.3 155.7 L176.9 153.4 L174.9 152.7 Z" fill="#e4eef4" stroke="#e4eef4"/><path d="M61.0 101.0 L62.9 101.2 L66.8 99.0 L64.9 98.8 Z" fill="#266caf" stroke="#266caf"/><path d="M188.9 157.2 L190.9 157.8 L194.4 155.5 L192.4 154.9 Z" fill="#e9f0f4" stroke="#e9f0f4"/><path d="M153.7 152.1 L155.7 152.9 L159.4 150.4 L157.4 149.6 Z" fill="#ddebf2" stroke="#ddebf2"/><path d="M173.3 155.7 L175.3 156.4 L178.9 154.1 L176.9 153.4 Z" fill="#e4eef4" stroke="#e4eef4"/><path d="M190.9 157.8 L192.9 158.4 L196.4 156.1 L194.4 155.5 Z" fill="#e9f0f4" stroke="#e9f0f4"/><path d="M155.7 152.9 L157.7 153.6 L161.4 151.2 L159.4 150.4 Z" fill="#deebf2" stroke="#deebf2"/><path d="M62.9 101.2 L64.9 101.4 L68.8 99.1 L66.8 99.0 Z" fill="#266caf" stroke="#266caf"/><path d="M136.2 148.8 L138.2 149.7 L141.8 146.7 L139.9 145.7 Z" fill="#d4e6f1" stroke="#d4e6f1"/><path d="M175.3 156.4 L177.3 157.0 L180.9 154.8 L178.9 154.1 Z" fill="#e6eff4" stroke="#e6eff4"/><path d="M157.7 153.6 L159.7 154.4 L163.4 152.0 L161.4 151.2 Z" fill="#deebf2" stroke="#deebf2"/><path d="M192.9 158.4 L194.9 159.0 L198.4 156.7 L196.4 156.1 Z" fill="#eaf1f5" stroke="#eaf1f5"/><path d="M138.2 149.7 L140.1 150.6 L143.8 147.6 L141.8 146.7 Z" fill="#d5e7f1" stroke="#d5e7f1"/><path d="M64.9 101.4 L66.8 101.5 L70.7 99.3 L68.8 99.1 Z" fill="#246aae" stroke="#246aae"/><path d="M177.3 157.0 L179.3 157.6 L182.9 155.4 L180.9 154.8 Z" fill="#e6eff4" stroke="#e6eff4"/><path d="M140.1 150.6 L142.1 151.5 L145.8 148.6 L143.8 147.6 Z" fill="#d7e8f1" stroke="#d7e8f1"/><path d="M159.7 154.4 L161.7 155.1 L165.3 152.8 L163.4 152.0 Z" fill="#e0ecf3" stroke="#e0ecf3"/><path d="M142.1 151.5 L144.1 152.3 L147.8 149.5 L145.8 148.6 Z" fill="#d8e9f1" stroke="#d8e9f1"/><path d="M179.3 157.6 L181.3 158.2 L184.9 156.0 L182.9 155.4 Z" fill="#e7f0f4" stroke="#e7f0f4"/><path d="M161.7 155.1 L163.7 155.8 L167.3 153.5 L165.3 152.8 Z" fill="#e1edf3" stroke="#e1edf3"/><path d="M66.8 101.5 L68.8 101.7 L72.7 99.5 L70.7 99.3 Z" fill="#246aae" stroke="#246aae"/><path d="M144.1 152.3 L146.1 153.1 L149.8 150.4 L147.8 149.5 Z" fill="#dae9f2" stroke="#dae9f2"/><path d="M181.3 158.2 L183.3 158.9 L186.9 156.6 L184.9 156.0 Z" fill="#e7f0f4" stroke="#e7f0f4"/><path d="M163.7 155.8 L165.7 156.5 L169.3 154.2 L167.3 153.5 Z" fill="#e1edf3" stroke="#e1edf3"/><path d="M146.1 153.1 L148.1 153.9 L151.8 151.3 L149.8 150.4 Z" fill="#dbeaf2" stroke="#dbeaf2"/><path d="M68.8 101.7 L70.7 101.9 L74.6 99.7 L72.7 99.5 Z" fill="#246aae" stroke="#246aae"/><path d="M165.7 156.5 L167.7 157.2 L171.3 155.0 L169.3 154.2 Z" fill="#e3edf3" stroke="#e3edf3"/><path d="M183.3 158.9 L185.3 159.5 L188.9 157.2 L186.9 156.6 Z" fill="#e9f0f4" stroke="#e9f0f4"/><path d="M148.1 153.9 L150.1 154.6 L153.7 152.1 L151.8 151.3 Z" fill="#dbeaf2" stroke="#dbeaf2"/><path d="M167.7 157.2 L169.7 157.9 L173.3 155.7 L171.3 155.0 Z" fill="#e4eef4" stroke="#e4eef4"/><path d="M185.3 159.5 L187.3 160.1 L190.9 157.8 L188.9 157.2 Z" fill="#e9f0f4" stroke="#e9f0f4"/><path d="M150.1 154.6 L152.1 155.3 L155.7 152.9 L153.7 152.1 Z" fill="#ddebf2" stroke="#ddebf2"/><path d="M132.5 152.2 L134.5 153.1 L138.2 149.7 L136.2 148.8 Z" fill="#d7e8f1" stroke="#d7e8f1"/><path d="M169.7 157.9 L171.7 158.6 L175.3 156.4 L173.3 155.7 Z" fill="#e4eef4" stroke="#e4eef4"/><path d="M187.3 160.1 L189.4 160.7 L192.9 158.4 L190.9 157.8 Z" fill="#e9f0f4" stroke="#e9f0f4"/><path d="M152.1 155.3 L154.1 156.0 L157.7 153.6 L155.7 152.9 Z" fill="#deebf2" stroke="#deebf2"/><path d="M134.5 153.1 L136.4 153.9 L140.1 150.6 L138.2 149.7 Z" fill="#d8e9f1" stroke="#d8e9f1"/><path d="M171.7 158.6 L173.7 159.2 L177.3 157.0 L175.3 156.4 Z" fill="#e6eff4" stroke="#e6eff4"/><path d="M154.1 156.0 L156.1 156.7 L159.7 154.4 L157.7 153.6 Z" fill="#deebf2" stroke="#deebf2"/><path d="M189.4 160.7 L191.4 161.3 L194.9 159.0 L192.9 158.4 Z" fill="#eaf1f5" stroke="#eaf1f5"/><path d="M136.4 153.9 L138.4 154.6 L142.1 151.5 L140.1 150.6 Z" fill="#d8e9f1" stroke="#d8e9f1"/><path d="M173.7 159.2 L175.7 159.9 L179.3 157.6 L177.3 157.0 Z" fill="#e6eff4" stroke="#e6eff4"/><path d="M156.1 156.7 L158.1 157.4 L161.7 155.1 L159.7 154.4 Z" fill="#e0ecf3" stroke="#e0ecf3"/><path d="M138.4 154.6 L140.4 155.2 L144.1 152.3 L142.1 151.5 Z" fill="#dae9f2" stroke="#dae9f2"/><path d="M175.7 159.9 L177.7 160.5 L181.3 158.2 L179.3 157.6 Z" fill="#e7f0f4" stroke="#e7f0f4"/><path d="M158.1 157.4 L160.1 158.1 L163.7 155.8 L161.7 155.1 Z" fill="#e1edf3" stroke="#e1edf3"/><path d="M140.4 155.2 L142.4 155.9 L146.1 153.1 L144.1 152.3 Z" fill="#dbeaf2" stroke="#dbeaf2"/><path d="M160.1 158.1 L162.1 158.8 L165.7 156.5 L163.7 155.8 Z" fill="#e1edf3" stroke="#e1edf3"/><path d="M177.7 160.5 L179.7 161.1 L183.3 158.9 L181.3 158.2 Z" fill="#e7f0f4" stroke="#e7f0f4"/><path d="M142.4 155.9 L144.4 156.5 L148.1 153.9 L146.1 153.1 Z" fill="#dbeaf2" stroke="#dbeaf2"/><path d="M162.1 158.8 L164.1 159.5 L167.7 157.2 L165.7 156.5 Z" fill="#e3edf3" stroke="#e3edf3"/><path d="M179.7 161.1 L181.8 161.8 L185.3 159.5 L183.3 158.9 Z" fill="#e7f0f4" stroke="#e7f0f4"/><path d="M144.4 156.5 L146.4 157.2 L150.1 154.6 L148.1 153.9 Z" fill="#ddebf2" stroke="#ddebf2"/><path d="M164.1 159.5 L166.1 160.2 L169.7 157.9 L167.7 157.2 Z" fill="#e3edf3" stroke="#e3edf3"/><path d="M146.4 157.2 L148.4 157.8 L152.1 155.3 L150.1 154.6 Z" fill="#deebf2" stroke="#deebf2"/><path d="M181.8 161.8 L183.8 162.4 L187.3 160.1 L185.3 159.5 Z" fill="#e9f0f4" stroke="#e9f0f4"/><path d="M166.1 160.2 L168.1 160.8 L171.7 158.6 L169.7 157.9 Z" fill="#e4eef4" stroke="#e4eef4"/><path d="M148.4 157.8 L150.4 158.5 L154.1 156.0 L152.1 155.3 Z" fill="#deebf2" stroke="#deebf2"/><path d="M183.8 162.4 L185.8 163.0 L189.4 160.7 L187.3 160.1 Z" fill="#e9f0f4" stroke="#e9f0f4"/><path d="M168.1 160.8 L170.1 161.5 L173.7 159.2 L171.7 158.6 Z" fill="#e4eef4" stroke="#e4eef4"/><path d="M150.4 158.5 L152.4 159.1 L156.1 156.7 L154.1 156.0 Z" fill="#e0ecf3" stroke="#e0ecf3"/><path d="M185.8 163.0 L187.8 163.6 L191.4 161.3 L189.4 160.7 Z" fill="#eaf1f5" stroke="#eaf1f5"/><path d="M170.1 161.5 L172.1 162.1 L175.7 159.9 L173.7 159.2 Z" fill="#e6eff4" stroke="#e6eff4"/><path d="M152.4 159.1 L154.4 159.8 L158.1 157.4 L156.1 156.7 Z" fill="#e0ecf3" stroke="#e0ecf3"/><path d="M154.4 159.8 L156.4 160.4 L160.1 158.1 L158.1 157.4 Z" fill="#e1edf3" stroke="#e1edf3"/><path d="M172.1 162.1 L174.1 162.8 L177.7 160.5 L175.7 159.9 Z" fill="#e6eff4" stroke="#e6eff4"/><path d="M156.4 160.4 L158.4 161.1 L162.1 158.8 L160.1 158.1 Z" fill="#e1edf3" stroke="#e1edf3"/><path d="M174.1 162.8 L176.1 163.4 L179.7 161.1 L177.7 160.5 Z" fill="#e7f0f4" stroke="#e7f0f4"/><path d="M158.4 161.1 L160.4 161.7 L164.1 159.5 L162.1 158.8 Z" fill="#e3edf3" stroke="#e3edf3"/><path d="M176.1 163.4 L178.2 164.1 L181.8 161.8 L179.7 161.1 Z" fill="#e7f0f4" stroke="#e7f0f4"/><path d="M160.4 161.7 L162.4 162.4 L166.1 160.2 L164.1 159.5 Z" fill="#e3edf3" stroke="#e3edf3"/><path d="M178.2 164.1 L180.2 164.7 L183.8 162.4 L181.8 161.8 Z" fill="#e9f0f4" stroke="#e9f0f4"/><path d="M162.4 162.4 L164.5 163.1 L168.1 160.8 L166.1 160.2 Z" fill="#e4eef4" stroke="#e4eef4"/><path d="M180.2 164.7 L182.2 165.3 L185.8 163.0 L183.8 162.4 Z" fill="#e9f0f4" stroke="#e9f0f4"/><path d="M164.5 163.1 L166.5 163.7 L170.1 161.5 L168.1 160.8 Z" fill="#e4eef4" stroke="#e4eef4"/><path d="M182.2 165.3 L184.2 165.9 L187.8 163.6 L185.8 163.0 Z" fill="#e9f0f4" stroke="#e9f0f4"/><path d="M166.5 163.7 L168.5 164.4 L172.1 162.1 L170.1 161.5 Z" fill="#e6eff4" stroke="#e6eff4"/><path d="M168.5 164.4 L170.5 165.0 L174.1 162.8 L172.1 162.1 Z" fill="#e6eff4" stroke="#e6eff4"/><path d="M170.5 165.0 L172.5 165.7 L176.1 163.4 L174.1 162.8 Z" fill="#e7f0f4" stroke="#e7f0f4"/><path d="M172.5 165.7 L174.5 166.3 L178.2 164.1 L176.1 163.4 Z" fill="#e7f0f4" stroke="#e7f0f4"/><path d="M174.5 166.3 L176.6 167.0 L180.2 164.7 L178.2 164.1 Z" fill="#e9f0f4" stroke="#e9f0f4"/><path d="M176.6 167.0 L178.6 167.6 L182.2 165.3 L180.2 164.7 Z" fill="#e9f0f4" stroke="#e9f0f4"/><path d="M178.6 167.6 L180.6 168.2 L184.2 165.9 L182.2 165.3 Z" fill="#e9f0f4" stroke="#e9f0f4"/></g>
</svg>
<div class="t" id="title" style="left:35.90px;top:0.25px;font-size:18.00px;letter-spacing:0.565px;">Potential distribution (eV)</div>
<div class="t" id="x0" style="left:3.10px;top:227.30px;font-size:17.00px;">0</div>
<div class="t" id="x25" style="left:73.40px;top:244.30px;font-size:17.00px;">25</div>
<div class="t" id="x50" style="left:150.90px;top:262.80px;font-size:17.00px;">50</div>
<div class="t" id="y0" style="left:211.20px;top:257.50px;font-size:17.00px;">0</div>
<div class="t" id="y3" style="left:244.00px;top:232.10px;font-size:17.00px;">3</div>
<div class="t" id="y6" style="left:276.20px;top:208.50px;font-size:17.00px;">6</div>
<div class="t" id="z10" style="left:297.10px;top:85.10px;font-size:17.00px;letter-spacing:0.550px;">&minus;0.10</div>
<div class="t" id="z16" style="left:293.90px;top:135.30px;font-size:17.00px;letter-spacing:0.350px;">&minus;0.16</div>
<div class="t" id="xl" style="left:41.90px;top:267.80px;font-size:17.50px;letter-spacing:0.648px;transform-origin:center;transform:rotate(14.00deg);"><i>x</i> (nm)</div>
<div class="t" id="yl" style="left:255.50px;top:244.00px;font-size:17.50px;letter-spacing:0.552px;transform-origin:center;transform:rotate(-35.00deg);"><i>z</i> (nm)</div>
</div></body></html>
